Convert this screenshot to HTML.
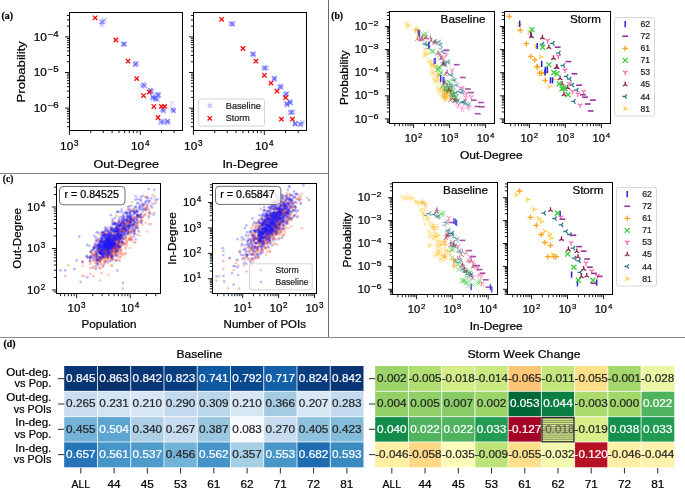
<!DOCTYPE html>
<html><head><meta charset="utf-8"><style>
html,body{margin:0;padding:0;background:#fff;}
svg{display:block;will-change:transform;font-family:"Liberation Sans", sans-serif;}
</style></head><body>
<svg width="685" height="489" viewBox="0 0 685 489">
<defs></defs>
<rect width="685" height="489" fill="#fff"/>
<line x1="0" y1="173.5" x2="328" y2="173.5" stroke="#8a8a8a" stroke-width="1"/>
<line x1="328.5" y1="0" x2="328.5" y2="337" stroke="#6a6a6a" stroke-width="1"/>
<line x1="0" y1="337.5" x2="685" y2="337.5" stroke="#8a8a8a" stroke-width="1.2"/>
<text x="1.5" y="18.6" font-size="10" textLength="11.5" lengthAdjust="spacingAndGlyphs" font-family='"Liberation Serif", serif' font-weight="bold" stroke="#000" stroke-width="0.22">(a)</text>
<text x="331.2" y="19.4" font-size="10" textLength="11.8" lengthAdjust="spacingAndGlyphs" font-family='"Liberation Serif", serif' font-weight="bold" stroke="#000" stroke-width="0.22">(b)</text>
<text x="2.8" y="182" font-size="10" textLength="10.5" lengthAdjust="spacingAndGlyphs" font-family='"Liberation Serif", serif' font-weight="bold" stroke="#000" stroke-width="0.22">(c)</text>
<text x="3.5" y="347" font-size="10" textLength="12" lengthAdjust="spacingAndGlyphs" font-family='"Liberation Serif", serif' font-weight="bold" stroke="#000" stroke-width="0.22">(d)</text>
<path d="M69.4 130.5V135M140.3 130.5V135M90.74 130.5V133.1M103.23 130.5V133.1M112.09 130.5V133.1M118.96 130.5V133.1M124.57 130.5V133.1M129.32 130.5V133.1M133.43 130.5V133.1M137.06 130.5V133.1M161.64 130.5V133.1M174.13 130.5V133.1M69.5 108.1H65M69.5 72.5H65M69.5 36.9H65M69.5 126.71H66.9M69.5 122.27H66.9M69.5 118.82H66.9M69.5 116H66.9M69.5 113.61H66.9M69.5 111.55H66.9M69.5 109.73H66.9M69.5 97.38H66.9M69.5 91.11H66.9M69.5 86.67H66.9M69.5 83.22H66.9M69.5 80.4H66.9M69.5 78.01H66.9M69.5 75.95H66.9M69.5 74.13H66.9M69.5 61.78H66.9M69.5 55.51H66.9M69.5 51.07H66.9M69.5 47.62H66.9M69.5 44.8H66.9M69.5 42.41H66.9M69.5 40.35H66.9M69.5 38.53H66.9M69.5 26.18H66.9M69.5 19.91H66.9M69.5 15.47H66.9" stroke="#000" stroke-width="0.9" fill="none"/>
<rect x="69.5" y="12.5" width="113" height="118" fill="none" stroke="#000" stroke-width="1"/>
<text x="60.12" y="150" font-size="11.2" textLength="13.2" lengthAdjust="spacingAndGlyphs" stroke="#000" stroke-width="0.22">10</text>
<text x="74.12" y="145.9" font-size="8.2" textLength="4.56" lengthAdjust="spacingAndGlyphs" stroke="#000" stroke-width="0.22">3</text>
<text x="131.02" y="150" font-size="11.2" textLength="13.2" lengthAdjust="spacingAndGlyphs" stroke="#000" stroke-width="0.22">10</text>
<text x="145.02" y="145.9" font-size="8.2" textLength="4.56" lengthAdjust="spacingAndGlyphs" stroke="#000" stroke-width="0.22">4</text>
<path d="M193.4 130.5V135M264.3 130.5V135M214.74 130.5V133.1M227.23 130.5V133.1M236.09 130.5V133.1M242.96 130.5V133.1M248.57 130.5V133.1M253.32 130.5V133.1M257.43 130.5V133.1M261.06 130.5V133.1M285.64 130.5V133.1M298.13 130.5V133.1M193.5 108.1H189M193.5 72.5H189M193.5 36.9H189M193.5 126.71H190.9M193.5 122.27H190.9M193.5 118.82H190.9M193.5 116H190.9M193.5 113.61H190.9M193.5 111.55H190.9M193.5 109.73H190.9M193.5 97.38H190.9M193.5 91.11H190.9M193.5 86.67H190.9M193.5 83.22H190.9M193.5 80.4H190.9M193.5 78.01H190.9M193.5 75.95H190.9M193.5 74.13H190.9M193.5 61.78H190.9M193.5 55.51H190.9M193.5 51.07H190.9M193.5 47.62H190.9M193.5 44.8H190.9M193.5 42.41H190.9M193.5 40.35H190.9M193.5 38.53H190.9M193.5 26.18H190.9M193.5 19.91H190.9M193.5 15.47H190.9" stroke="#000" stroke-width="0.9" fill="none"/>
<rect x="193.5" y="12.5" width="113" height="118" fill="none" stroke="#000" stroke-width="1"/>
<text x="184.12" y="150" font-size="11.2" textLength="13.2" lengthAdjust="spacingAndGlyphs" stroke="#000" stroke-width="0.22">10</text>
<text x="198.12" y="145.9" font-size="8.2" textLength="4.56" lengthAdjust="spacingAndGlyphs" stroke="#000" stroke-width="0.22">3</text>
<text x="255.02" y="150" font-size="11.2" textLength="13.2" lengthAdjust="spacingAndGlyphs" stroke="#000" stroke-width="0.22">10</text>
<text x="269.02" y="145.9" font-size="8.2" textLength="4.56" lengthAdjust="spacingAndGlyphs" stroke="#000" stroke-width="0.22">4</text>
<text x="33.7" y="40.7" font-size="11.2" textLength="13.2" lengthAdjust="spacingAndGlyphs" stroke="#000" stroke-width="0.22">10</text>
<text x="47.7" y="36.5" font-size="8.5" textLength="11.1" lengthAdjust="spacingAndGlyphs" stroke="#000" stroke-width="0.22">−4</text>
<text x="33.7" y="76.3" font-size="11.2" textLength="13.2" lengthAdjust="spacingAndGlyphs" stroke="#000" stroke-width="0.22">10</text>
<text x="47.7" y="72.1" font-size="8.5" textLength="11.1" lengthAdjust="spacingAndGlyphs" stroke="#000" stroke-width="0.22">−5</text>
<text x="33.7" y="111.9" font-size="11.2" textLength="13.2" lengthAdjust="spacingAndGlyphs" stroke="#000" stroke-width="0.22">10</text>
<text x="47.7" y="107.7" font-size="8.5" textLength="11.1" lengthAdjust="spacingAndGlyphs" stroke="#000" stroke-width="0.22">−6</text>
<text x="93.4" y="167.8" font-size="11.2" textLength="65.6" lengthAdjust="spacingAndGlyphs" stroke="#000" stroke-width="0.22">Out-Degree</text>
<text x="222.4" y="167.8" font-size="11.2" textLength="55.7" lengthAdjust="spacingAndGlyphs" stroke="#000" stroke-width="0.22">In-Degree</text>
<text x="25.2" y="71.8" font-size="11.2" text-anchor="middle" textLength="61.2" lengthAdjust="spacingAndGlyphs" transform="rotate(-90 25.2 71.8)" stroke="#000" stroke-width="0.22">Probability</text>
<g stroke="#3b3bff" fill="none" stroke-width="1.25" stroke-opacity="0.28"><path d="M102.03 17.96L106.43 22.36M102.03 22.36L106.43 17.96"/><path d="M100.73 19.55L105.13 23.95M100.73 23.95L105.13 19.55"/><path d="M100.04 19.83L104.44 24.23M100.04 24.23L104.44 19.83"/><path d="M98.78 19.81L103.18 24.21M98.78 24.21L103.18 19.81"/><path d="M99.71 22.66L104.11 27.06M99.71 27.06L104.11 22.66"/><path d="M121.78 41.92L126.18 46.32M121.78 46.32L126.18 41.92"/><path d="M121.37 41.67L125.77 46.07M121.37 46.07L125.77 41.67"/><path d="M120.76 41.89L125.16 46.29M120.76 46.29L125.16 41.89"/><path d="M121.99 42.01L126.39 46.41M121.99 46.41L126.39 42.01"/><path d="M122.37 42.04L126.77 46.44M122.37 46.44L126.77 42.04"/><path d="M133.12 62.64L137.52 67.04M133.12 67.04L137.52 62.64"/><path d="M133.54 61L137.94 65.4M133.54 65.4L137.94 61"/><path d="M132.95 61.83L137.35 66.23M132.95 66.23L137.35 61.83"/><path d="M134.65 61.18L139.05 65.58M134.65 65.58L139.05 61.18"/><path d="M132.91 62.2L137.31 66.6M132.91 66.6L137.31 62.2"/><path d="M141.19 82.87L145.59 87.27M141.19 87.27L145.59 82.87"/><path d="M142.61 83.56L147.01 87.96M142.61 87.96L147.01 83.56"/><path d="M141.97 83.64L146.37 88.04M141.97 88.04L146.37 83.64"/><path d="M139.64 83.92L144.04 88.32M139.64 88.32L144.04 83.92"/><path d="M141.13 81.77L145.53 86.17M141.13 86.17L145.53 81.77"/><path d="M148.62 89.06L153.02 93.46M148.62 93.46L153.02 89.06"/><path d="M148.04 87.64L152.44 92.04M148.04 92.04L152.44 87.64"/><path d="M148.42 88.46L152.82 92.86M148.42 92.86L152.82 88.46"/><path d="M149.52 89.1L153.92 93.5M149.52 93.5L153.92 89.1"/><path d="M148.56 89.39L152.96 93.79M148.56 93.79L152.96 89.39"/><path d="M150.44 94.86L154.84 99.26M150.44 99.26L154.84 94.86"/><path d="M151.07 96.07L155.47 100.47M151.07 100.47L155.47 96.07"/><path d="M150.43 94.97L154.83 99.37M150.43 99.37L154.83 94.97"/><path d="M150.78 93.6L155.18 98M150.78 98L155.18 93.6"/><path d="M151.15 95.99L155.55 100.39M151.15 100.39L155.55 95.99"/><path d="M153.59 96.65L157.99 101.05M153.59 101.05L157.99 96.65"/><path d="M154.13 97.21L158.53 101.61M154.13 101.61L158.53 97.21"/><path d="M153.27 95.87L157.67 100.27M153.27 100.27L157.67 95.87"/><path d="M155.47 97.53L159.87 101.93M155.47 101.93L159.87 97.53"/><path d="M153.17 96.2L157.57 100.6M153.17 100.6L157.57 96.2"/><path d="M155.66 92.91L160.06 97.31M155.66 97.31L160.06 92.91"/><path d="M156.67 92.45L161.07 96.85M156.67 96.85L161.07 92.45"/><path d="M155.68 92.56L160.08 96.96M155.68 96.96L160.08 92.56"/><path d="M156.52 93.38L160.92 97.78M156.52 97.78L160.92 93.38"/><path d="M155.1 92.03L159.5 96.43M155.1 96.43L159.5 92.03"/><path d="M161.65 108.6L166.05 113M161.65 113L166.05 108.6"/><path d="M160.9 108.91L165.3 113.31M160.9 113.31L165.3 108.91"/><path d="M160.58 107.49L164.98 111.89M160.58 111.89L164.98 107.49"/><path d="M159.66 107.36L164.06 111.76M159.66 111.76L164.06 107.36"/><path d="M161.4 106.83L165.8 111.23M161.4 111.23L165.8 106.83"/><path d="M170.72 107.74L175.12 112.14M170.72 112.14L175.12 107.74"/><path d="M171.38 108.46L175.78 112.86M171.38 112.86L175.78 108.46"/><path d="M170.2 106.62L174.6 111.02M170.2 111.02L174.6 106.62"/><path d="M171.2 108.97L175.6 113.37M171.2 113.37L175.6 108.97"/><path d="M171.81 108.17L176.21 112.57M171.81 112.57L176.21 108.17"/><path d="M165.45 119.03L169.85 123.43M165.45 123.43L169.85 119.03"/><path d="M165.51 119.45L169.91 123.85M165.51 123.85L169.91 119.45"/><path d="M165.06 118.91L169.46 123.31M165.06 123.31L169.46 118.91"/><path d="M165.61 119.23L170.01 123.63M165.61 123.63L170.01 119.23"/><path d="M165.88 120.84L170.28 125.24M165.88 125.24L170.28 120.84"/><path d="M161.5 120.6L165.9 125M161.5 125L165.9 120.6"/><path d="M158.67 119.13L163.07 123.53M158.67 123.53L163.07 119.13"/><path d="M159.81 119.83L164.21 124.23M159.81 124.23L164.21 119.83"/><path d="M158.48 120.34L162.88 124.74M158.48 124.74L162.88 120.34"/><path d="M161.15 118.36L165.55 122.76M161.15 122.76L165.55 118.36"/></g>
<g stroke="#8080ff" fill="none" stroke-width="1.25" stroke-opacity="0.25"><path d="M169.5 101.2L173.9 105.6M169.5 105.6L173.9 101.2"/><path d="M148.4 88.5L152.8 92.9M148.4 92.9L152.8 88.5"/><path d="M155.4 93.4L159.8 97.8M155.4 97.8L159.8 93.4"/><path d="M160.3 119.4L164.7 123.8M160.3 123.8L164.7 119.4"/></g>
<g stroke="#ff0000" fill="none" stroke-width="1.25"><path d="M92.9 15.6L97.3 20M92.9 20L97.3 15.6"/><path d="M113.6 37.8L118 42.2M113.6 42.2L118 37.8"/><path d="M125.8 59L130.2 63.4M125.8 63.4L130.2 59"/><path d="M134.5 76.4L138.9 80.8M134.5 80.8L138.9 76.4"/><path d="M147.1 89.9L151.5 94.3M147.1 94.3L151.5 89.9"/><path d="M141.3 93.4L145.7 97.8M141.3 97.8L145.7 93.4"/><path d="M151.6 104.4L156 108.8M151.6 108.8L156 104.4"/><path d="M159.2 104.2L163.6 108.6M159.2 108.6L163.6 104.2"/><path d="M162.5 104.2L166.9 108.6M162.5 108.6L166.9 104.2"/><path d="M155.8 115.3L160.2 119.7M155.8 119.7L160.2 115.3"/></g>
<g stroke="#3b3bff" fill="none" stroke-width="1.25" stroke-opacity="0.28"><path d="M228.52 20.86L232.92 25.26M228.52 25.26L232.92 20.86"/><path d="M229.33 22.01L233.73 26.41M229.33 26.41L233.73 22.01"/><path d="M230.94 21.34L235.34 25.74M230.94 25.74L235.34 21.34"/><path d="M229.91 21.62L234.31 26.02M229.91 26.02L234.31 21.62"/><path d="M230.71 22.09L235.11 26.49M230.71 26.49L235.11 22.09"/><path d="M251.59 51.54L255.99 55.94M251.59 55.94L255.99 51.54"/><path d="M250.35 51.75L254.75 56.15M250.35 56.15L254.75 51.75"/><path d="M251.7 52.93L256.1 57.33M251.7 57.33L256.1 52.93"/><path d="M250.26 52.04L254.66 56.44M250.26 56.44L254.66 52.04"/><path d="M250.89 51.84L255.29 56.24M250.89 56.24L255.29 51.84"/><path d="M261.96 66.19L266.36 70.59M261.96 70.59L266.36 66.19"/><path d="M264.67 65.6L269.07 70M264.67 70L269.07 65.6"/><path d="M262.26 64.86L266.66 69.26M262.26 69.26L266.66 64.86"/><path d="M261.63 66.22L266.03 70.62M261.63 70.62L266.03 66.22"/><path d="M263.38 65.81L267.78 70.21M263.38 70.21L267.78 65.81"/><path d="M272.67 76.89L277.07 81.29M272.67 81.29L277.07 76.89"/><path d="M272.51 75.58L276.91 79.98M272.51 79.98L276.91 75.58"/><path d="M272.03 76.89L276.43 81.29M272.03 81.29L276.43 76.89"/><path d="M271.77 76.42L276.17 80.82M271.77 80.82L276.17 76.42"/><path d="M271.74 76.53L276.14 80.93M271.74 80.93L276.14 76.53"/><path d="M279.18 83.77L283.58 88.17M279.18 88.17L283.58 83.77"/><path d="M278.38 84.75L282.78 89.15M278.38 89.15L282.78 84.75"/><path d="M279.02 85.46L283.42 89.86M279.02 89.86L283.42 85.46"/><path d="M276.83 84.79L281.23 89.19M276.83 89.19L281.23 84.79"/><path d="M278.11 84.21L282.51 88.61M278.11 88.61L282.51 84.21"/><path d="M284.07 92.27L288.47 96.67M284.07 96.67L288.47 92.27"/><path d="M284.23 91.52L288.63 95.92M284.23 95.92L288.63 91.52"/><path d="M284.69 91.17L289.09 95.57M284.69 95.57L289.09 91.17"/><path d="M283.29 92.04L287.69 96.44M283.29 96.44L287.69 92.04"/><path d="M282.96 93.13L287.36 97.53M282.96 97.53L287.36 93.13"/><path d="M285.42 102.94L289.82 107.34M285.42 107.34L289.82 102.94"/><path d="M284.58 100.89L288.98 105.29M284.58 105.29L288.98 100.89"/><path d="M284.73 101.79L289.13 106.19M284.73 106.19L289.13 101.79"/><path d="M284.13 101.5L288.53 105.9M284.13 105.9L288.53 101.5"/><path d="M284.59 102.49L288.99 106.89M284.59 106.89L288.99 102.49"/><path d="M287.67 100.74L292.07 105.14M287.67 105.14L292.07 100.74"/><path d="M287.68 99.13L292.08 103.53M287.68 103.53L292.08 99.13"/><path d="M287.63 98.95L292.03 103.35M287.63 103.35L292.03 98.95"/><path d="M288.32 100.73L292.72 105.13M288.32 105.13L292.72 100.73"/><path d="M288.33 100.4L292.73 104.8M288.33 104.8L292.73 100.4"/><path d="M290.81 109.92L295.21 114.32M290.81 114.32L295.21 109.92"/><path d="M289.66 109.48L294.06 113.88M289.66 113.88L294.06 109.48"/><path d="M288.21 110.31L292.61 114.71M288.21 114.71L292.61 110.31"/><path d="M288.09 110.22L292.49 114.62M288.09 114.62L292.49 110.22"/><path d="M289.49 110.6L293.89 115M289.49 115L293.89 110.6"/><path d="M293.05 121.14L297.45 125.54M293.05 125.54L297.45 121.14"/><path d="M293.39 121.35L297.79 125.75M293.39 125.75L297.79 121.35"/><path d="M292.96 121.83L297.36 126.23M292.96 126.23L297.36 121.83"/><path d="M292.99 121.65L297.39 126.05M292.99 126.05L297.39 121.65"/><path d="M292.43 121.65L296.83 126.05M292.43 126.05L296.83 121.65"/><path d="M297.49 121.67L301.89 126.07M297.49 126.07L301.89 121.67"/><path d="M298.24 122.7L302.64 127.1M298.24 127.1L302.64 122.7"/><path d="M300.22 120.24L304.62 124.64M300.22 124.64L304.62 120.24"/><path d="M299.32 121.7L303.72 126.1M299.32 126.1L303.72 121.7"/><path d="M298.36 122.23L302.76 126.63M298.36 126.63L302.76 122.23"/></g>
<g stroke="#ff0000" fill="none" stroke-width="1.25"><path d="M219.5 17.1L223.9 21.5M219.5 21.5L223.9 17.1"/><path d="M240.8 46.3L245.2 50.7M240.8 50.7L245.2 46.3"/><path d="M253.7 59L258.1 63.4M253.7 63.4L258.1 59"/><path d="M262.2 73.1L266.6 77.5M262.2 77.5L266.6 73.1"/><path d="M268.8 80.9L273.2 85.3M268.8 85.3L273.2 80.9"/><path d="M274.8 89L279.2 93.4M274.8 93.4L279.2 89"/><path d="M283.4 95.5L287.8 99.9M283.4 99.9L287.8 95.5"/><path d="M290.2 117L294.6 121.4M290.2 121.4L294.6 117"/><path d="M279.2 117L283.6 121.4M279.2 121.4L283.6 117"/></g>
<rect x="198.5" y="99" width="66" height="27" fill="#fff" stroke="#d4d4d4" stroke-width="1" rx="2" fill-opacity="0.8"/>
<g stroke="#b8b8ff" fill="none" stroke-width="1.25"><path d="M207.6 103.5L212 107.9M207.6 107.9L212 103.5"/></g>
<g stroke="#ff0000" fill="none" stroke-width="1.25"><path d="M207.6 116.1L212 120.5M207.6 120.5L212 116.1"/></g>
<text x="225.8" y="109" font-size="9.4" textLength="35" lengthAdjust="spacingAndGlyphs" fill="#222" stroke="#222" stroke-width="0.22">Baseline</text>
<text x="225.8" y="121.1" font-size="9.4" textLength="24" lengthAdjust="spacingAndGlyphs" fill="#222" stroke="#222" stroke-width="0.22">Storm</text>
<path d="M413.6 123.5V128.1M449.6 123.5V128.1M485.6 123.5V128.1M394.78 123.5V126.2M399.27 123.5V126.2M402.76 123.5V126.2M405.61 123.5V126.2M408.02 123.5V126.2M410.11 123.5V126.2M411.95 123.5V126.2M424.44 123.5V126.2M430.78 123.5V126.2M435.27 123.5V126.2M438.76 123.5V126.2M441.61 123.5V126.2M444.02 123.5V126.2M446.11 123.5V126.2M447.95 123.5V126.2M460.44 123.5V126.2M466.78 123.5V126.2M471.27 123.5V126.2M474.76 123.5V126.2M477.61 123.5V126.2M480.02 123.5V126.2M482.11 123.5V126.2M483.95 123.5V126.2M389.5 118.9H384.9M389.5 95.8H384.9M389.5 72.7H384.9M389.5 49.6H384.9M389.5 26.5H384.9M389.5 122.48H386.8M389.5 121.14H386.8M389.5 119.96H386.8M389.5 111.95H386.8M389.5 107.88H386.8M389.5 104.99H386.8M389.5 102.75H386.8M389.5 100.92H386.8M389.5 99.38H386.8M389.5 98.04H386.8M389.5 96.86H386.8M389.5 88.85H386.8M389.5 84.78H386.8M389.5 81.89H386.8M389.5 79.65H386.8M389.5 77.82H386.8M389.5 76.28H386.8M389.5 74.94H386.8M389.5 73.76H386.8M389.5 65.75H386.8M389.5 61.68H386.8M389.5 58.79H386.8M389.5 56.55H386.8M389.5 54.72H386.8M389.5 53.18H386.8M389.5 51.84H386.8M389.5 50.66H386.8M389.5 42.65H386.8M389.5 38.58H386.8M389.5 35.69H386.8M389.5 33.45H386.8M389.5 31.62H386.8M389.5 30.08H386.8M389.5 28.74H386.8M389.5 27.56H386.8M389.5 19.55H386.8M389.5 15.48H386.8M389.5 12.59H386.8" stroke="#000" stroke-width="0.9" fill="none"/>
<rect x="389.5" y="11.5" width="105" height="112" fill="none" stroke="#000" stroke-width="1"/>
<text x="404.75" y="141.5" font-size="10.4" textLength="12.4" lengthAdjust="spacingAndGlyphs" stroke="#000" stroke-width="0.22">10</text>
<text x="418.05" y="137.6" font-size="7.9" textLength="4.39" lengthAdjust="spacingAndGlyphs" stroke="#000" stroke-width="0.22">2</text>
<text x="440.75" y="141.5" font-size="10.4" textLength="12.4" lengthAdjust="spacingAndGlyphs" stroke="#000" stroke-width="0.22">10</text>
<text x="454.05" y="137.6" font-size="7.9" textLength="4.39" lengthAdjust="spacingAndGlyphs" stroke="#000" stroke-width="0.22">3</text>
<text x="476.75" y="141.5" font-size="10.4" textLength="12.4" lengthAdjust="spacingAndGlyphs" stroke="#000" stroke-width="0.22">10</text>
<text x="490.05" y="137.6" font-size="7.9" textLength="4.39" lengthAdjust="spacingAndGlyphs" stroke="#000" stroke-width="0.22">4</text>
<path d="M529.4 123.5V128.1M565.4 123.5V128.1M601.4 123.5V128.1M510.58 123.5V126.2M515.07 123.5V126.2M518.56 123.5V126.2M521.41 123.5V126.2M523.82 123.5V126.2M525.91 123.5V126.2M527.75 123.5V126.2M540.24 123.5V126.2M546.58 123.5V126.2M551.07 123.5V126.2M554.56 123.5V126.2M557.41 123.5V126.2M559.82 123.5V126.2M561.91 123.5V126.2M563.75 123.5V126.2M576.24 123.5V126.2M582.58 123.5V126.2M587.07 123.5V126.2M590.56 123.5V126.2M593.41 123.5V126.2M595.82 123.5V126.2M597.91 123.5V126.2M599.75 123.5V126.2M504.5 118.9H499.9M504.5 95.8H499.9M504.5 72.7H499.9M504.5 49.6H499.9M504.5 26.5H499.9M504.5 122.48H501.8M504.5 121.14H501.8M504.5 119.96H501.8M504.5 111.95H501.8M504.5 107.88H501.8M504.5 104.99H501.8M504.5 102.75H501.8M504.5 100.92H501.8M504.5 99.38H501.8M504.5 98.04H501.8M504.5 96.86H501.8M504.5 88.85H501.8M504.5 84.78H501.8M504.5 81.89H501.8M504.5 79.65H501.8M504.5 77.82H501.8M504.5 76.28H501.8M504.5 74.94H501.8M504.5 73.76H501.8M504.5 65.75H501.8M504.5 61.68H501.8M504.5 58.79H501.8M504.5 56.55H501.8M504.5 54.72H501.8M504.5 53.18H501.8M504.5 51.84H501.8M504.5 50.66H501.8M504.5 42.65H501.8M504.5 38.58H501.8M504.5 35.69H501.8M504.5 33.45H501.8M504.5 31.62H501.8M504.5 30.08H501.8M504.5 28.74H501.8M504.5 27.56H501.8M504.5 19.55H501.8M504.5 15.48H501.8M504.5 12.59H501.8" stroke="#000" stroke-width="0.9" fill="none"/>
<rect x="504.5" y="11.5" width="106" height="112" fill="none" stroke="#000" stroke-width="1"/>
<text x="520.55" y="141.5" font-size="10.4" textLength="12.4" lengthAdjust="spacingAndGlyphs" stroke="#000" stroke-width="0.22">10</text>
<text x="533.85" y="137.6" font-size="7.9" textLength="4.39" lengthAdjust="spacingAndGlyphs" stroke="#000" stroke-width="0.22">2</text>
<text x="556.55" y="141.5" font-size="10.4" textLength="12.4" lengthAdjust="spacingAndGlyphs" stroke="#000" stroke-width="0.22">10</text>
<text x="569.85" y="137.6" font-size="7.9" textLength="4.39" lengthAdjust="spacingAndGlyphs" stroke="#000" stroke-width="0.22">3</text>
<text x="592.55" y="141.5" font-size="10.4" textLength="12.4" lengthAdjust="spacingAndGlyphs" stroke="#000" stroke-width="0.22">10</text>
<text x="605.85" y="137.6" font-size="7.9" textLength="4.39" lengthAdjust="spacingAndGlyphs" stroke="#000" stroke-width="0.22">4</text>
<path d="M416.6 294.5V299.1M452.4 294.5V299.1M488.2 294.5V299.1M397.88 294.5V297.2M402.35 294.5V297.2M405.82 294.5V297.2M408.66 294.5V297.2M411.05 294.5V297.2M413.13 294.5V297.2M414.96 294.5V297.2M427.38 294.5V297.2M433.68 294.5V297.2M438.15 294.5V297.2M441.62 294.5V297.2M444.46 294.5V297.2M446.85 294.5V297.2M448.93 294.5V297.2M450.76 294.5V297.2M463.18 294.5V297.2M469.48 294.5V297.2M473.95 294.5V297.2M477.42 294.5V297.2M480.26 294.5V297.2M482.65 294.5V297.2M484.73 294.5V297.2M486.56 294.5V297.2M392.5 289.3H387.9M392.5 266.4H387.9M392.5 243.5H387.9M392.5 220.6H387.9M392.5 197.7H387.9M392.5 294.38H389.8M392.5 292.85H389.8M392.5 291.52H389.8M392.5 290.35H389.8M392.5 282.41H389.8M392.5 278.37H389.8M392.5 275.51H389.8M392.5 273.29H389.8M392.5 271.48H389.8M392.5 269.95H389.8M392.5 268.62H389.8M392.5 267.45H389.8M392.5 259.51H389.8M392.5 255.47H389.8M392.5 252.61H389.8M392.5 250.39H389.8M392.5 248.58H389.8M392.5 247.05H389.8M392.5 245.72H389.8M392.5 244.55H389.8M392.5 236.61H389.8M392.5 232.57H389.8M392.5 229.71H389.8M392.5 227.49H389.8M392.5 225.68H389.8M392.5 224.15H389.8M392.5 222.82H389.8M392.5 221.65H389.8M392.5 213.71H389.8M392.5 209.67H389.8M392.5 206.81H389.8M392.5 204.59H389.8M392.5 202.78H389.8M392.5 201.25H389.8M392.5 199.92H389.8M392.5 198.75H389.8M392.5 190.81H389.8M392.5 186.77H389.8M392.5 183.91H389.8" stroke="#000" stroke-width="0.9" fill="none"/>
<rect x="392.5" y="182.5" width="105" height="112" fill="none" stroke="#000" stroke-width="1"/>
<text x="407.75" y="312.5" font-size="10.4" textLength="12.4" lengthAdjust="spacingAndGlyphs" stroke="#000" stroke-width="0.22">10</text>
<text x="421.05" y="308.6" font-size="7.9" textLength="4.39" lengthAdjust="spacingAndGlyphs" stroke="#000" stroke-width="0.22">2</text>
<text x="443.55" y="312.5" font-size="10.4" textLength="12.4" lengthAdjust="spacingAndGlyphs" stroke="#000" stroke-width="0.22">10</text>
<text x="456.85" y="308.6" font-size="7.9" textLength="4.39" lengthAdjust="spacingAndGlyphs" stroke="#000" stroke-width="0.22">3</text>
<text x="479.35" y="312.5" font-size="10.4" textLength="12.4" lengthAdjust="spacingAndGlyphs" stroke="#000" stroke-width="0.22">10</text>
<text x="492.65" y="308.6" font-size="7.9" textLength="4.39" lengthAdjust="spacingAndGlyphs" stroke="#000" stroke-width="0.22">4</text>
<path d="M531.5 294.5V299.1M567.5 294.5V299.1M603.5 294.5V299.1M512.68 294.5V297.2M517.17 294.5V297.2M520.66 294.5V297.2M523.51 294.5V297.2M525.92 294.5V297.2M528.01 294.5V297.2M529.85 294.5V297.2M542.34 294.5V297.2M548.68 294.5V297.2M553.17 294.5V297.2M556.66 294.5V297.2M559.51 294.5V297.2M561.92 294.5V297.2M564.01 294.5V297.2M565.85 294.5V297.2M578.34 294.5V297.2M584.68 294.5V297.2M589.17 294.5V297.2M592.66 294.5V297.2M595.51 294.5V297.2M597.92 294.5V297.2M600.01 294.5V297.2M601.85 294.5V297.2M507.5 289.3H502.9M507.5 266.4H502.9M507.5 243.5H502.9M507.5 220.6H502.9M507.5 197.7H502.9M507.5 294.38H504.8M507.5 292.85H504.8M507.5 291.52H504.8M507.5 290.35H504.8M507.5 282.41H504.8M507.5 278.37H504.8M507.5 275.51H504.8M507.5 273.29H504.8M507.5 271.48H504.8M507.5 269.95H504.8M507.5 268.62H504.8M507.5 267.45H504.8M507.5 259.51H504.8M507.5 255.47H504.8M507.5 252.61H504.8M507.5 250.39H504.8M507.5 248.58H504.8M507.5 247.05H504.8M507.5 245.72H504.8M507.5 244.55H504.8M507.5 236.61H504.8M507.5 232.57H504.8M507.5 229.71H504.8M507.5 227.49H504.8M507.5 225.68H504.8M507.5 224.15H504.8M507.5 222.82H504.8M507.5 221.65H504.8M507.5 213.71H504.8M507.5 209.67H504.8M507.5 206.81H504.8M507.5 204.59H504.8M507.5 202.78H504.8M507.5 201.25H504.8M507.5 199.92H504.8M507.5 198.75H504.8M507.5 190.81H504.8M507.5 186.77H504.8M507.5 183.91H504.8" stroke="#000" stroke-width="0.9" fill="none"/>
<rect x="507.5" y="182.5" width="105" height="112" fill="none" stroke="#000" stroke-width="1"/>
<text x="522.65" y="312.5" font-size="10.4" textLength="12.4" lengthAdjust="spacingAndGlyphs" stroke="#000" stroke-width="0.22">10</text>
<text x="535.95" y="308.6" font-size="7.9" textLength="4.39" lengthAdjust="spacingAndGlyphs" stroke="#000" stroke-width="0.22">2</text>
<text x="558.65" y="312.5" font-size="10.4" textLength="12.4" lengthAdjust="spacingAndGlyphs" stroke="#000" stroke-width="0.22">10</text>
<text x="571.95" y="308.6" font-size="7.9" textLength="4.39" lengthAdjust="spacingAndGlyphs" stroke="#000" stroke-width="0.22">3</text>
<text x="594.65" y="312.5" font-size="10.4" textLength="12.4" lengthAdjust="spacingAndGlyphs" stroke="#000" stroke-width="0.22">10</text>
<text x="607.95" y="308.6" font-size="7.9" textLength="4.39" lengthAdjust="spacingAndGlyphs" stroke="#000" stroke-width="0.22">4</text>
<text x="354.88" y="30.1" font-size="10.4" textLength="12.4" lengthAdjust="spacingAndGlyphs" stroke="#000" stroke-width="0.22">10</text>
<text x="368.18" y="26.1" font-size="7.9" textLength="10.32" lengthAdjust="spacingAndGlyphs" stroke="#000" stroke-width="0.22">−2</text>
<text x="354.88" y="53.2" font-size="10.4" textLength="12.4" lengthAdjust="spacingAndGlyphs" stroke="#000" stroke-width="0.22">10</text>
<text x="368.18" y="49.2" font-size="7.9" textLength="10.32" lengthAdjust="spacingAndGlyphs" stroke="#000" stroke-width="0.22">−3</text>
<text x="354.88" y="76.3" font-size="10.4" textLength="12.4" lengthAdjust="spacingAndGlyphs" stroke="#000" stroke-width="0.22">10</text>
<text x="368.18" y="72.3" font-size="7.9" textLength="10.32" lengthAdjust="spacingAndGlyphs" stroke="#000" stroke-width="0.22">−4</text>
<text x="354.88" y="99.4" font-size="10.4" textLength="12.4" lengthAdjust="spacingAndGlyphs" stroke="#000" stroke-width="0.22">10</text>
<text x="368.18" y="95.4" font-size="7.9" textLength="10.32" lengthAdjust="spacingAndGlyphs" stroke="#000" stroke-width="0.22">−5</text>
<text x="354.88" y="122.5" font-size="10.4" textLength="12.4" lengthAdjust="spacingAndGlyphs" stroke="#000" stroke-width="0.22">10</text>
<text x="368.18" y="118.5" font-size="7.9" textLength="10.32" lengthAdjust="spacingAndGlyphs" stroke="#000" stroke-width="0.22">−6</text>
<text x="357.88" y="201.3" font-size="10.4" textLength="12.4" lengthAdjust="spacingAndGlyphs" stroke="#000" stroke-width="0.22">10</text>
<text x="371.18" y="197.3" font-size="7.9" textLength="10.32" lengthAdjust="spacingAndGlyphs" stroke="#000" stroke-width="0.22">−2</text>
<text x="357.88" y="224.2" font-size="10.4" textLength="12.4" lengthAdjust="spacingAndGlyphs" stroke="#000" stroke-width="0.22">10</text>
<text x="371.18" y="220.2" font-size="7.9" textLength="10.32" lengthAdjust="spacingAndGlyphs" stroke="#000" stroke-width="0.22">−3</text>
<text x="357.88" y="247.1" font-size="10.4" textLength="12.4" lengthAdjust="spacingAndGlyphs" stroke="#000" stroke-width="0.22">10</text>
<text x="371.18" y="243.1" font-size="7.9" textLength="10.32" lengthAdjust="spacingAndGlyphs" stroke="#000" stroke-width="0.22">−4</text>
<text x="357.88" y="270" font-size="10.4" textLength="12.4" lengthAdjust="spacingAndGlyphs" stroke="#000" stroke-width="0.22">10</text>
<text x="371.18" y="266" font-size="7.9" textLength="10.32" lengthAdjust="spacingAndGlyphs" stroke="#000" stroke-width="0.22">−5</text>
<text x="357.88" y="292.9" font-size="10.4" textLength="12.4" lengthAdjust="spacingAndGlyphs" stroke="#000" stroke-width="0.22">10</text>
<text x="371.18" y="288.9" font-size="7.9" textLength="10.32" lengthAdjust="spacingAndGlyphs" stroke="#000" stroke-width="0.22">−6</text>
<text x="460" y="158.6" font-size="10.4" textLength="62.6" lengthAdjust="spacingAndGlyphs" stroke="#000" stroke-width="0.22">Out-Degree</text>
<text x="469.8" y="329.6" font-size="10.4" textLength="52.8" lengthAdjust="spacingAndGlyphs" stroke="#000" stroke-width="0.22">In-Degree</text>
<text x="348" y="77.6" font-size="10.4" text-anchor="middle" textLength="54.6" lengthAdjust="spacingAndGlyphs" transform="rotate(-90 348 77.6)" stroke="#000" stroke-width="0.22">Probability</text>
<text x="351" y="240" font-size="10.4" text-anchor="middle" textLength="55" lengthAdjust="spacingAndGlyphs" transform="rotate(-90 351 240)" stroke="#000" stroke-width="0.22">Probability</text>
<text x="440.6" y="22.9" font-size="10.9" textLength="44.8" lengthAdjust="spacingAndGlyphs" stroke="#000" stroke-width="0.22">Baseline</text>
<text x="569.9" y="22.9" font-size="10.9" textLength="31" lengthAdjust="spacingAndGlyphs" stroke="#000" stroke-width="0.22">Storm</text>
<text x="443.1" y="194.3" font-size="10.9" textLength="44.8" lengthAdjust="spacingAndGlyphs" stroke="#000" stroke-width="0.22">Baseline</text>
<text x="572.4" y="194.3" font-size="10.9" textLength="31" lengthAdjust="spacingAndGlyphs" stroke="#000" stroke-width="0.22">Storm</text>
<rect x="614.5" y="17.5" width="40" height="98.5" fill="#fff" stroke="#d8d8d8" stroke-width="1" rx="2"/>
<g stroke="#2020d8" fill="none" stroke-width="1.5"><path d="M625.2 21.1L625.2 27.3"/></g>
<text x="640.5" y="27.2" font-size="8.3" textLength="9.6" lengthAdjust="spacingAndGlyphs" fill="#222" stroke="#222" stroke-width="0.22">62</text>
<g stroke="#993399" fill="none" stroke-width="1.6"><path d="M622.3 36.25L628.1 36.25"/></g>
<text x="640.5" y="39.25" font-size="8.3" textLength="9.6" lengthAdjust="spacingAndGlyphs" fill="#222" stroke="#222" stroke-width="0.22">72</text>
<g stroke="#ffa31a" fill="none" stroke-width="1.3"><path d="M622.4 48.3L628 48.3M625.2 45.5L625.2 51.1"/></g>
<text x="640.5" y="51.3" font-size="8.3" textLength="9.6" lengthAdjust="spacingAndGlyphs" fill="#222" stroke="#222" stroke-width="0.22">61</text>
<g stroke="#3ecc3e" fill="none" stroke-width="1.3"><path d="M622.7 57.85L627.7 62.85M622.7 62.85L627.7 57.85"/></g>
<text x="640.5" y="63.35" font-size="8.3" textLength="9.6" lengthAdjust="spacingAndGlyphs" fill="#222" stroke="#222" stroke-width="0.22">71</text>
<g stroke="#ff69b4" fill="none" stroke-width="1.3"><path d="M625.2 72.4L625.2 75.2M625.2 72.4L627.44 70.86M625.2 72.4L622.96 70.86"/></g>
<text x="640.5" y="75.4" font-size="8.3" textLength="9.6" lengthAdjust="spacingAndGlyphs" fill="#222" stroke="#222" stroke-width="0.22">53</text>
<g stroke="#8c1f3f" fill="none" stroke-width="1.3"><path d="M625.2 84.45L625.2 81.65M625.2 84.45L627.44 85.99M625.2 84.45L622.96 85.99"/></g>
<text x="640.5" y="87.45" font-size="8.3" textLength="9.6" lengthAdjust="spacingAndGlyphs" fill="#222" stroke="#222" stroke-width="0.22">45</text>
<g stroke="#2a7584" fill="none" stroke-width="1.3"><path d="M625.2 96.5L622.4 96.5M625.2 96.5L626.74 94.26M625.2 96.5L626.74 98.74"/></g>
<text x="640.5" y="99.5" font-size="8.3" textLength="9.6" lengthAdjust="spacingAndGlyphs" fill="#222" stroke="#222" stroke-width="0.22">44</text>
<g stroke="#ffcc3a" fill="none" stroke-width="1.3"><path d="M625.2 108.55L628 108.55M625.2 108.55L623.66 106.31M625.2 108.55L623.66 110.79"/></g>
<text x="640.5" y="111.55" font-size="8.3" textLength="9.6" lengthAdjust="spacingAndGlyphs" fill="#222" stroke="#222" stroke-width="0.22">81</text>
<rect x="616.5" y="187.5" width="40" height="98.5" fill="#fff" stroke="#d8d8d8" stroke-width="1" rx="2"/>
<g stroke="#2020d8" fill="none" stroke-width="1.5"><path d="M627.2 191.1L627.2 197.3"/></g>
<text x="642.2" y="197.2" font-size="8.3" textLength="9.6" lengthAdjust="spacingAndGlyphs" fill="#222" stroke="#222" stroke-width="0.22">62</text>
<g stroke="#993399" fill="none" stroke-width="1.6"><path d="M624.3 206.25L630.1 206.25"/></g>
<text x="642.2" y="209.25" font-size="8.3" textLength="9.6" lengthAdjust="spacingAndGlyphs" fill="#222" stroke="#222" stroke-width="0.22">72</text>
<g stroke="#ffa31a" fill="none" stroke-width="1.3"><path d="M624.4 218.3L630 218.3M627.2 215.5L627.2 221.1"/></g>
<text x="642.2" y="221.3" font-size="8.3" textLength="9.6" lengthAdjust="spacingAndGlyphs" fill="#222" stroke="#222" stroke-width="0.22">61</text>
<g stroke="#3ecc3e" fill="none" stroke-width="1.3"><path d="M624.7 227.85L629.7 232.85M624.7 232.85L629.7 227.85"/></g>
<text x="642.2" y="233.35" font-size="8.3" textLength="9.6" lengthAdjust="spacingAndGlyphs" fill="#222" stroke="#222" stroke-width="0.22">71</text>
<g stroke="#ff69b4" fill="none" stroke-width="1.3"><path d="M627.2 242.4L627.2 245.2M627.2 242.4L629.44 240.86M627.2 242.4L624.96 240.86"/></g>
<text x="642.2" y="245.4" font-size="8.3" textLength="9.6" lengthAdjust="spacingAndGlyphs" fill="#222" stroke="#222" stroke-width="0.22">53</text>
<g stroke="#8c1f3f" fill="none" stroke-width="1.3"><path d="M627.2 254.45L627.2 251.65M627.2 254.45L629.44 255.99M627.2 254.45L624.96 255.99"/></g>
<text x="642.2" y="257.45" font-size="8.3" textLength="9.6" lengthAdjust="spacingAndGlyphs" fill="#222" stroke="#222" stroke-width="0.22">45</text>
<g stroke="#2a7584" fill="none" stroke-width="1.3"><path d="M627.2 266.5L624.4 266.5M627.2 266.5L628.74 264.26M627.2 266.5L628.74 268.74"/></g>
<text x="642.2" y="269.5" font-size="8.3" textLength="9.6" lengthAdjust="spacingAndGlyphs" fill="#222" stroke="#222" stroke-width="0.22">44</text>
<g stroke="#ffcc3a" fill="none" stroke-width="1.3"><path d="M627.2 278.55L630 278.55M627.2 278.55L625.66 276.31M627.2 278.55L625.66 280.79"/></g>
<text x="642.2" y="281.55" font-size="8.3" textLength="9.6" lengthAdjust="spacingAndGlyphs" fill="#222" stroke="#222" stroke-width="0.22">81</text>
<g stroke="#ffcc3a" fill="none" stroke-width="1.3"><path d="M519 24.5L521.8 24.5M519 24.5L517.46 22.26M519 24.5L517.46 26.74"/><path d="M529.3 32.1L532.1 32.1M529.3 32.1L527.76 29.86M529.3 32.1L527.76 34.34"/><path d="M536 46.4L538.8 46.4M536 46.4L534.46 44.16M536 46.4L534.46 48.64"/><path d="M540.8 56.9L543.6 56.9M540.8 56.9L539.26 54.66M540.8 56.9L539.26 59.14"/><path d="M553.5 79.7L556.3 79.7M553.5 79.7L551.96 77.46M553.5 79.7L551.96 81.94"/><path d="M549.6 86.3L552.4 86.3M549.6 86.3L548.06 84.06M549.6 86.3L548.06 88.54"/></g>
<g stroke="#ffa31a" fill="none" stroke-width="1.3"><path d="M506.6 16.4L512.2 16.4M509.4 13.6L509.4 19.2"/><path d="M517.5 30.3L523.1 30.3M520.3 27.5L520.3 33.1"/><path d="M523.5 43.6L529.1 43.6M526.3 40.8L526.3 46.4"/><path d="M528 56.3L533.6 56.3M530.8 53.5L530.8 59.1"/><path d="M532 59.9L537.6 59.9M534.8 57.1L534.8 62.7"/><path d="M534.3 66.6L539.9 66.6M537.1 63.8L537.1 69.4"/><path d="M534.7 66.8L540.3 66.8M537.5 64L537.5 69.6"/><path d="M536.9 73.1L542.5 73.1M539.7 70.3L539.7 75.9"/><path d="M538.7 73.1L544.3 73.1M541.5 70.3L541.5 75.9"/><path d="M542.8 72.5L548.4 72.5M545.6 69.7L545.6 75.3"/><path d="M542.4 80.4L548 80.4M545.2 77.6L545.2 83.2"/></g>
<g stroke="#2020d8" fill="none" stroke-width="1.5"><path d="M519.7 20.6L519.7 26.8"/><path d="M530.8 31.4L530.8 37.6"/><path d="M537.2 42.9L537.2 49.1"/><path d="M541.7 60.8L541.7 67"/><path d="M545.3 66.8L545.3 73"/><path d="M547.3 66.8L547.3 73"/><path d="M550.5 77.3L550.5 83.5"/><path d="M552.5 77.3L552.5 83.5"/><path d="M545 69.4L545 75.6"/></g>
<g stroke="#2a7584" fill="none" stroke-width="1.3"><path d="M542.4 44.2L539.6 44.2M542.4 44.2L543.94 41.96M542.4 44.2L543.94 46.44"/><path d="M552.9 43.3L550.1 43.3M552.9 43.3L554.44 41.06M552.9 43.3L554.44 45.54"/><path d="M558.9 53.2L556.1 53.2M558.9 53.2L560.44 50.96M558.9 53.2L560.44 55.44"/><path d="M563.4 65.5L560.6 65.5M563.4 65.5L564.94 63.26M563.4 65.5L564.94 67.74"/><path d="M566.6 76.4L563.8 76.4M566.6 76.4L568.14 74.16M566.6 76.4L568.14 78.64"/><path d="M569.7 79.1L566.9 79.1M569.7 79.1L571.24 76.86M569.7 79.1L571.24 81.34"/><path d="M572.3 85L569.5 85M572.3 85L573.84 82.76M572.3 85L573.84 87.24"/><path d="M576.8 90.2L574 90.2M576.8 90.2L578.34 87.96M576.8 90.2L578.34 92.44"/><path d="M573.9 101.4L571.1 101.4M573.9 101.4L575.44 99.16M573.9 101.4L575.44 103.64"/></g>
<g stroke="#8c1f3f" fill="none" stroke-width="1.3"><path d="M531.5 36.3L531.5 33.5M531.5 36.3L533.74 37.84M531.5 36.3L529.26 37.84"/><path d="M542.4 37.6L542.4 34.8M542.4 37.6L544.64 39.14M542.4 37.6L540.16 39.14"/><path d="M548.9 47.2L548.9 44.4M548.9 47.2L551.14 48.74M548.9 47.2L546.66 48.74"/><path d="M553.5 58.1L553.5 55.3M553.5 58.1L555.74 59.64M553.5 58.1L551.26 59.64"/><path d="M556.5 67.1L556.5 64.3M556.5 67.1L558.74 68.64M556.5 67.1L554.26 68.64"/><path d="M557.1 67.2L557.1 64.4M557.1 67.2L559.34 68.74M557.1 67.2L554.86 68.74"/><path d="M560.1 78.4L560.1 75.6M560.1 78.4L562.34 79.94M560.1 78.4L557.86 79.94"/><path d="M562 83.7L562 80.9M562 83.7L564.24 85.24M562 83.7L559.76 85.24"/><path d="M567.6 87.6L567.6 84.8M567.6 87.6L569.84 89.14M567.6 87.6L565.36 89.14"/><path d="M564 94.4L564 91.6M564 94.4L566.24 95.94M564 94.4L561.76 95.94"/></g>
<g stroke="#ff69b4" fill="none" stroke-width="1.3"><path d="M547.7 40.6L547.7 43.4M547.7 40.6L549.94 39.06M547.7 40.6L545.46 39.06"/><path d="M558.3 56.3L558.3 59.1M558.3 56.3L560.54 54.76M558.3 56.3L556.06 54.76"/><path d="M564.9 70.2L564.9 73M564.9 70.2L567.14 68.66M564.9 70.2L562.66 68.66"/><path d="M569.3 83.7L569.3 86.5M569.3 83.7L571.54 82.16M569.3 83.7L567.06 82.16"/><path d="M572.6 91.5L572.6 94.3M572.6 91.5L574.84 89.96M572.6 91.5L570.36 89.96"/><path d="M577.8 94.2L577.8 97M577.8 94.2L580.04 92.66M577.8 94.2L575.56 92.66"/><path d="M583.7 91.5L583.7 94.3M583.7 91.5L585.94 89.96M583.7 91.5L581.46 89.96"/><path d="M580.2 105.3L580.2 108.1M580.2 105.3L582.44 103.76M580.2 105.3L577.96 103.76"/></g>
<g stroke="#3ecc3e" fill="none" stroke-width="1.3"><path d="M529.5 27.2L534.5 32.2M529.5 32.2L534.5 27.2"/><path d="M540.1 44.7L545.1 49.7M540.1 49.7L545.1 44.7"/><path d="M546.4 62.1L551.4 67.1M546.4 67.1L551.4 62.1"/><path d="M551.4 70L556.4 75M551.4 75L556.4 70"/><path d="M554.6 71.3L559.6 76.3M554.6 76.3L559.6 71.3"/><path d="M556.7 81.2L561.7 86.2M556.7 86.2L561.7 81.2"/><path d="M560.9 85.4L565.9 90.4M560.9 90.4L565.9 85.4"/><path d="M559.5 86.3L564.5 91.3M559.5 91.3L564.5 86.3"/><path d="M562.5 86L567.5 91M562.5 91L567.5 86"/><path d="M565.5 92.3L570.5 97.3M565.5 97.3L570.5 92.3"/></g>
<g stroke="#993399" fill="none" stroke-width="1.6"><path d="M554.8 47.2L560.6 47.2"/><path d="M565.5 61.6L571.3 61.6"/><path d="M571.6 73.8L577.4 73.8"/><path d="M576.2 85.2L582 85.2"/><path d="M579.9 94.8L585.7 94.8"/><path d="M582.1 97.2L587.9 97.2"/><path d="M590 100.1L595.8 100.1"/><path d="M584.8 104L590.6 104"/><path d="M587.8 111L593.6 111"/></g>
<g stroke="#ffcc3a" fill="none" stroke-width="1.3"><path d="M516.2 194.9L519 194.9M516.2 194.9L514.66 192.66M516.2 194.9L514.66 197.14"/><path d="M527.6 199.5L530.4 199.5M527.6 199.5L526.06 197.26M527.6 199.5L526.06 201.74"/><path d="M534 209.3L536.8 209.3M534 209.3L532.46 207.06M534 209.3L532.46 211.54"/><path d="M538.6 218.5L541.4 218.5M538.6 218.5L537.06 216.26M538.6 218.5L537.06 220.74"/><path d="M541.3 221.5L544.1 221.5M541.3 221.5L539.76 219.26M541.3 221.5L539.76 223.74"/><path d="M544.8 231.1L547.6 231.1M544.8 231.1L543.26 228.86M544.8 231.1L543.26 233.34"/><path d="M549.4 234.5L552.2 234.5M549.4 234.5L547.86 232.26M549.4 234.5L547.86 236.74"/><path d="M551 238L553.8 238M551 238L549.46 235.76M551 238L549.46 240.24"/><path d="M552.8 254.4L555.6 254.4M552.8 254.4L551.26 252.16M552.8 254.4L551.26 256.64"/></g>
<g stroke="#ffa31a" fill="none" stroke-width="1.3"><path d="M516.8 191L522.4 191M519.6 188.2L519.6 193.8"/><path d="M527.6 217.3L533.2 217.3M530.4 214.5L530.4 220.1"/><path d="M533.5 225.4L539.1 225.4M536.3 222.6L536.3 228.2"/><path d="M538.5 234.5L544.1 234.5M541.3 231.7L541.3 237.3"/><path d="M542 242.5L547.6 242.5M544.8 239.7L544.8 245.3"/><path d="M547.7 245.3L553.3 245.3M550.5 242.5L550.5 248.1"/><path d="M545 256.7L550.6 256.7M547.8 253.9L547.8 259.5"/><path d="M551.1 256.7L556.7 256.7M553.9 253.9L553.9 259.5"/><path d="M553.4 256.7L559 256.7M556.2 253.9L556.2 259.5"/></g>
<g stroke="#2020d8" fill="none" stroke-width="1.5"><path d="M560.1 210.8L560.1 217"/><path d="M571.6 271.5L571.6 277.7"/><path d="M577.5 280.2L577.5 286.4"/><path d="M596.7 279.5L596.7 285.7"/></g>
<g stroke="#2a7584" fill="none" stroke-width="1.3"><path d="M544.1 213.2L541.3 213.2M544.1 213.2L545.64 210.96M544.1 213.2L545.64 215.44"/><path d="M555.1 218.5L552.3 218.5M555.1 218.5L556.64 216.26M555.1 218.5L556.64 220.74"/><path d="M561.5 224.9L558.7 224.9M561.5 224.9L563.04 222.66M561.5 224.9L563.04 227.14"/><path d="M566.1 231.5L563.3 231.5M566.1 231.5L567.64 229.26M566.1 231.5L567.64 233.74"/><path d="M570 234.5L567.2 234.5M570 234.5L571.54 232.26M570 234.5L571.54 236.74"/><path d="M573.4 248.2L570.6 248.2M573.4 248.2L574.94 245.96M573.4 248.2L574.94 250.44"/><path d="M574.5 258.1L571.7 258.1M574.5 258.1L576.04 255.86M574.5 258.1L576.04 260.34"/><path d="M579.1 260.8L576.3 260.8M579.1 260.8L580.64 258.56M579.1 260.8L580.64 263.04"/><path d="M580.3 272.3L577.5 272.3M580.3 272.3L581.84 270.06M580.3 272.3L581.84 274.54"/></g>
<g stroke="#8c1f3f" fill="none" stroke-width="1.3"><path d="M550.5 210L550.5 207.2M550.5 210L552.74 211.54M550.5 210L548.26 211.54"/><path d="M561.5 239.1L561.5 236.3M561.5 239.1L563.74 240.64M561.5 239.1L559.26 240.64"/><path d="M568.4 249.4L568.4 246.6M568.4 249.4L570.64 250.94M568.4 249.4L566.16 250.94"/><path d="M576.8 251.2L576.8 248.4M576.8 251.2L579.04 252.74M576.8 251.2L574.56 252.74"/><path d="M578 256.7L578 253.9M578 256.7L580.24 258.24M578 256.7L575.76 258.24"/><path d="M583.7 268.9L583.7 266.1M583.7 268.9L585.94 270.44M583.7 268.9L581.46 270.44"/><path d="M581.4 276.4L581.4 273.6M581.4 276.4L583.64 277.94M581.4 276.4L579.16 277.94"/><path d="M586.7 275.7L586.7 272.9M586.7 275.7L588.94 277.24M586.7 275.7L584.46 277.24"/></g>
<g stroke="#ff69b4" fill="none" stroke-width="1.3"><path d="M560.8 217.3L560.8 220.1M560.8 217.3L563.04 215.76M560.8 217.3L558.56 215.76"/><path d="M571.1 243L571.1 245.8M571.1 243L573.34 241.46M571.1 243L568.86 241.46"/><path d="M586 263.1L586 265.9M586 263.1L588.24 261.56M586 263.1L583.76 261.56"/><path d="M591.7 271.1L591.7 273.9M591.7 271.1L593.94 269.56M591.7 271.1L589.46 269.56"/><path d="M597.4 275.7L597.4 278.5M597.4 275.7L599.64 274.16M597.4 275.7L595.16 274.16"/></g>
<g stroke="#3ecc3e" fill="none" stroke-width="1.3"><path d="M554.9 210.7L559.9 215.7M554.9 215.7L559.9 210.7"/><path d="M565.2 251.5L570.2 256.5M565.2 256.5L570.2 251.5"/><path d="M571.4 264.7L576.4 269.7M571.4 269.7L576.4 264.7"/><path d="M575.9 277.8L580.9 282.8M575.9 282.8L580.9 277.8"/><path d="M590.4 277.8L595.4 282.8M590.4 282.8L595.4 277.8"/></g>
<g stroke="#993399" fill="none" stroke-width="1.6"><path d="M559.5 219.2L565.3 219.2"/><path d="M570.5 235.2L576.3 235.2"/><path d="M576.2 246.6L582 246.6"/><path d="M580.8 251.2L586.6 251.2"/><path d="M584.2 259L590 259"/><path d="M587 267.2L592.8 267.2"/><path d="M591.1 273.4L596.9 273.4"/><path d="M596.8 276.4L602.6 276.4"/><path d="M590.6 283.3L596.4 283.3"/></g>
<g stroke="#ffcc3a" fill="none" stroke-width="0.85" stroke-opacity="0.55"><path d="M407.75 28L410.55 28M407.75 28L406.21 25.76M407.75 28L406.21 30.24"/><path d="M409.41 25.39L412.21 25.39M409.41 25.39L407.87 23.15M409.41 25.39L407.87 27.63"/><path d="M407.28 25.36L410.08 25.36M407.28 25.36L405.74 23.12M407.28 25.36L405.74 27.6"/><path d="M406.3 24.92L409.1 24.92M406.3 24.92L404.76 22.68M406.3 24.92L404.76 27.16"/><path d="M406.55 22.41L409.35 22.41M406.55 22.41L405.01 20.17M406.55 22.41L405.01 24.65"/><path d="M407.69 24.86L410.49 24.86M407.69 24.86L406.15 22.62M407.69 24.86L406.15 27.1"/><path d="M418.95 35.81L421.75 35.81M418.95 35.81L417.41 33.57M418.95 35.81L417.41 38.05"/><path d="M417.47 36.65L420.27 36.65M417.47 36.65L415.93 34.41M417.47 36.65L415.93 38.89"/><path d="M419.15 35.72L421.95 35.72M419.15 35.72L417.61 33.48M419.15 35.72L417.61 37.96"/><path d="M425.39 51.66L428.19 51.66M425.39 51.66L423.85 49.42M425.39 51.66L423.85 53.9"/><path d="M424.38 48.58L427.18 48.58M424.38 48.58L422.84 46.34M424.38 48.58L422.84 50.82"/><path d="M426.15 49.76L428.95 49.76M426.15 49.76L424.61 47.52M426.15 49.76L424.61 52"/><path d="M424.91 53.66L427.71 53.66M424.91 53.66L423.37 51.42M424.91 53.66L423.37 55.9"/><path d="M426.95 53.13L429.75 53.13M426.95 53.13L425.41 50.89M426.95 53.13L425.41 55.37"/><path d="M425.51 54.85L428.31 54.85M425.51 54.85L423.97 52.61M425.51 54.85L423.97 57.09"/><path d="M429.86 60.57L432.66 60.57M429.86 60.57L428.32 58.33M429.86 60.57L428.32 62.81"/><path d="M427.56 61.44L430.36 61.44M427.56 61.44L426.02 59.2M427.56 61.44L426.02 63.68"/><path d="M429.6 60.48L432.4 60.48M429.6 60.48L428.06 58.24M429.6 60.48L428.06 62.72"/><path d="M432.46 66.46L435.26 66.46M432.46 66.46L430.92 64.22M432.46 66.46L430.92 68.7"/><path d="M431.41 63.86L434.21 63.86M431.41 63.86L429.87 61.62M431.41 63.86L429.87 66.1"/><path d="M432.19 65.35L434.99 65.35M432.19 65.35L430.65 63.11M432.19 65.35L430.65 67.59"/><path d="M427.64 54.2L430.44 54.2M427.64 54.2L426.1 51.96M427.64 54.2L426.1 56.44"/><path d="M425.17 54.83L427.97 54.83M425.17 54.83L423.63 52.59M425.17 54.83L423.63 57.07"/><path d="M423.67 56.18L426.47 56.18M423.67 56.18L422.13 53.94M423.67 56.18L422.13 58.42"/><path d="M430.94 62.17L433.74 62.17M430.94 62.17L429.4 59.93M430.94 62.17L429.4 64.41"/><path d="M432.14 64.35L434.94 64.35M432.14 64.35L430.6 62.11M432.14 64.35L430.6 66.59"/><path d="M431.08 63.76L433.88 63.76M431.08 63.76L429.54 61.52M431.08 63.76L429.54 66"/><path d="M434.64 71.54L437.44 71.54M434.64 71.54L433.1 69.3M434.64 71.54L433.1 73.78"/><path d="M434.16 74.24L436.96 74.24M434.16 74.24L432.62 72M434.16 74.24L432.62 76.48"/><path d="M430.83 73.89L433.63 73.89M430.83 73.89L429.29 71.65M430.83 73.89L429.29 76.13"/><path d="M436.05 81.69L438.85 81.69M436.05 81.69L434.51 79.45M436.05 81.69L434.51 83.93"/><path d="M435.79 80.57L438.59 80.57M435.79 80.57L434.25 78.33M435.79 80.57L434.25 82.81"/><path d="M436.88 79.37L439.68 79.37M436.88 79.37L435.34 77.13M436.88 79.37L435.34 81.61"/><path d="M441.24 88.55L444.04 88.55M441.24 88.55L439.7 86.31M441.24 88.55L439.7 90.79"/><path d="M441.09 87.97L443.89 87.97M441.09 87.97L439.55 85.73M441.09 87.97L439.55 90.21"/><path d="M441.92 89.55L444.72 89.55M441.92 89.55L440.38 87.31M441.92 89.55L440.38 91.79"/><path d="M443.25 96.78L446.05 96.78M443.25 96.78L441.71 94.54M443.25 96.78L441.71 99.02"/><path d="M445.26 98.41L448.06 98.41M445.26 98.41L443.72 96.17M445.26 98.41L443.72 100.65"/><path d="M441.3 97.14L444.1 97.14M441.3 97.14L439.76 94.9M441.3 97.14L439.76 99.38"/><path d="M447.65 95.87L450.45 95.87M447.65 95.87L446.11 93.63M447.65 95.87L446.11 98.11"/><path d="M445.59 97.76L448.39 97.76M445.59 97.76L444.05 95.52M445.59 97.76L444.05 100"/><path d="M445.23 96.79L448.03 96.79M445.23 96.79L443.69 94.55M445.23 96.79L443.69 99.03"/><path d="M439.82 81.76L442.62 81.76M439.82 81.76L438.28 79.52M439.82 81.76L438.28 84"/><path d="M437.58 82.17L440.38 82.17M437.58 82.17L436.04 79.93M437.58 82.17L436.04 84.41"/><path d="M438.34 86.12L441.14 86.12M438.34 86.12L436.8 83.88M438.34 86.12L436.8 88.36"/><path d="M448.83 89.51L451.63 89.51M448.83 89.51L447.29 87.27M448.83 89.51L447.29 91.75"/><path d="M445.2 92.98L448 92.98M445.2 92.98L443.66 90.74M445.2 92.98L443.66 95.22"/><path d="M448.21 92.59L451.01 92.59M448.21 92.59L446.67 90.35M448.21 92.59L446.67 94.83"/></g>
<g stroke="#ffa31a" fill="none" stroke-width="0.85" stroke-opacity="0.45"><path d="M412.7 30.06L418.3 30.06M415.5 27.26L415.5 32.86"/><path d="M413.58 29.46L419.18 29.46M416.38 26.66L416.38 32.26"/><path d="M412.72 30.16L418.32 30.16M415.52 27.36L415.52 32.96"/><path d="M415.57 30.89L421.17 30.89M418.37 28.09L418.37 33.69"/><path d="M414.93 29.46L420.53 29.46M417.73 26.66L417.73 32.26"/><path d="M414.62 32.45L420.22 32.45M417.42 29.65L417.42 35.25"/><path d="M431.27 65.57L436.87 65.57M434.07 62.77L434.07 68.37"/><path d="M433.1 67.94L438.7 67.94M435.9 65.14L435.9 70.74"/><path d="M434.03 67.38L439.63 67.38M436.83 64.58L436.83 70.18"/><path d="M445.25 93.16L450.85 93.16M448.05 90.36L448.05 95.96"/><path d="M447.39 97.98L452.99 97.98M450.19 95.18L450.19 100.78"/><path d="M444.81 94.12L450.41 94.12M447.61 91.32L447.61 96.92"/><path d="M444.92 91L450.52 91M447.72 88.2L447.72 93.8"/><path d="M443.88 91.58L449.48 91.58M446.68 88.78L446.68 94.38"/><path d="M444.43 93.31L450.03 93.31M447.23 90.51L447.23 96.11"/><path d="M442.23 98.1L447.83 98.1M445.03 95.3L445.03 100.9"/><path d="M441.7 97.39L447.3 97.39M444.5 94.59L444.5 100.19"/><path d="M439.63 95.26L445.23 95.26M442.43 92.46L442.43 98.06"/><path d="M435.16 74.29L440.76 74.29M437.96 71.49L437.96 77.09"/><path d="M434.9 75.65L440.5 75.65M437.7 72.85L437.7 78.45"/><path d="M435.79 75.97L441.39 75.97M438.59 73.17L438.59 78.77"/></g>
<g stroke="#8c1f3f" fill="none" stroke-width="0.85" stroke-opacity="0.6"><path d="M419.19 38.39L419.19 35.59M419.19 38.39L421.43 39.93M419.19 38.39L416.95 39.93"/><path d="M417.31 39.27L417.31 36.47M417.31 39.27L419.55 40.81M417.31 39.27L415.07 40.81"/><path d="M420.09 39.86L420.09 37.06M420.09 39.86L422.33 41.4M420.09 39.86L417.85 41.4"/><path d="M421.98 39.6L421.98 36.8M421.98 39.6L424.22 41.14M421.98 39.6L419.74 41.14"/><path d="M422.05 38.78L422.05 35.98M422.05 38.78L424.29 40.32M422.05 38.78L419.81 40.32"/><path d="M422.59 36.58L422.59 33.78M422.59 36.58L424.83 38.12M422.59 36.58L420.35 38.12"/><path d="M426.79 37.87L426.79 35.07M426.79 37.87L429.03 39.41M426.79 37.87L424.55 39.41"/><path d="M425.9 37.43L425.9 34.63M425.9 37.43L428.14 38.97M425.9 37.43L423.66 38.97"/><path d="M425.08 37.96L425.08 35.16M425.08 37.96L427.32 39.5M425.08 37.96L422.84 39.5"/><path d="M431.53 41.07L431.53 38.27M431.53 41.07L433.77 42.61M431.53 41.07L429.29 42.61"/><path d="M430.67 40.49L430.67 37.69M430.67 40.49L432.91 42.03M430.67 40.49L428.43 42.03"/><path d="M430.44 37.49L430.44 34.69M430.44 37.49L432.68 39.03M430.44 37.49L428.2 39.03"/><path d="M434.95 42.95L434.95 40.15M434.95 42.95L437.19 44.49M434.95 42.95L432.71 44.49"/><path d="M434.37 42.8L434.37 40M434.37 42.8L436.61 44.34M434.37 42.8L432.13 44.34"/><path d="M435.37 41.64L435.37 38.84M435.37 41.64L437.61 43.18M435.37 41.64L433.13 43.18"/><path d="M437.42 53.48L437.42 50.68M437.42 53.48L439.66 55.02M437.42 53.48L435.18 55.02"/><path d="M438.69 53.35L438.69 50.55M438.69 53.35L440.93 54.89M438.69 53.35L436.45 54.89"/><path d="M439.89 55.43L439.89 52.63M439.89 55.43L442.13 56.97M439.89 55.43L437.65 56.97"/><path d="M440.48 58.5L440.48 55.7M440.48 58.5L442.72 60.04M440.48 58.5L438.24 60.04"/><path d="M441.84 58.51L441.84 55.71M441.84 58.51L444.08 60.05M441.84 58.51L439.6 60.05"/><path d="M441.95 57.41L441.95 54.61M441.95 57.41L444.19 58.95M441.95 57.41L439.71 58.95"/><path d="M443.74 65.02L443.74 62.22M443.74 65.02L445.98 66.56M443.74 65.02L441.5 66.56"/><path d="M443.8 62.38L443.8 59.58M443.8 62.38L446.04 63.92M443.8 62.38L441.56 63.92"/><path d="M443.61 64.26L443.61 61.46M443.61 64.26L445.85 65.8M443.61 64.26L441.37 65.8"/><path d="M442.87 63.64L442.87 60.84M442.87 63.64L445.11 65.18M442.87 63.64L440.63 65.18"/><path d="M444.04 62.95L444.04 60.15M444.04 62.95L446.28 64.49M444.04 62.95L441.8 64.49"/><path d="M443 64.18L443 61.38M443 64.18L445.24 65.72M443 64.18L440.76 65.72"/><path d="M445.41 74.62L445.41 71.82M445.41 74.62L447.65 76.16M445.41 74.62L443.17 76.16"/><path d="M446.95 72.23L446.95 69.43M446.95 72.23L449.19 73.77M446.95 72.23L444.71 73.77"/><path d="M447.2 72.97L447.2 70.17M447.2 72.97L449.44 74.51M447.2 72.97L444.96 74.51"/><path d="M449.8 89.11L449.8 86.31M449.8 89.11L452.04 90.65M449.8 89.11L447.56 90.65"/><path d="M451.96 90.44L451.96 87.64M451.96 90.44L454.2 91.98M451.96 90.44L449.72 91.98"/><path d="M451.87 89.85L451.87 87.05M451.87 89.85L454.11 91.39M451.87 89.85L449.63 91.39"/><path d="M455.27 97.79L455.27 94.99M455.27 97.79L457.51 99.33M455.27 97.79L453.03 99.33"/><path d="M455.98 98.15L455.98 95.35M455.98 98.15L458.22 99.69M455.98 98.15L453.74 99.69"/><path d="M455.09 98.54L455.09 95.74M455.09 98.54L457.33 100.08M455.09 98.54L452.85 100.08"/><path d="M450.94 94.29L450.94 91.49M450.94 94.29L453.18 95.83M450.94 94.29L448.7 95.83"/><path d="M453.53 95.34L453.53 92.54M453.53 95.34L455.77 96.88M453.53 95.34L451.29 96.88"/><path d="M451.72 95.34L451.72 92.54M451.72 95.34L453.96 96.88M451.72 95.34L449.48 96.88"/><path d="M455.52 100.28L455.52 97.48M455.52 100.28L457.76 101.82M455.52 100.28L453.28 101.82"/><path d="M455.33 100.28L455.33 97.48M455.33 100.28L457.57 101.82M455.33 100.28L453.09 101.82"/><path d="M454.42 101.33L454.42 98.53M454.42 101.33L456.66 102.87M454.42 101.33L452.18 102.87"/></g>
<g stroke="#2a7584" fill="none" stroke-width="0.85" stroke-opacity="0.6"><path d="M425.04 43.26L422.24 43.26M425.04 43.26L426.58 41.02M425.04 43.26L426.58 45.5"/><path d="M425.35 44.59L422.55 44.59M425.35 44.59L426.89 42.35M425.35 44.59L426.89 46.83"/><path d="M425.77 43.74L422.97 43.74M425.77 43.74L427.31 41.5M425.77 43.74L427.31 45.98"/><path d="M429.04 48.49L426.24 48.49M429.04 48.49L430.58 46.25M429.04 48.49L430.58 50.73"/><path d="M427.19 44.87L424.39 44.87M427.19 44.87L428.73 42.63M427.19 44.87L428.73 47.11"/><path d="M428.26 44.71L425.46 44.71M428.26 44.71L429.8 42.47M428.26 44.71L429.8 46.95"/><path d="M435.81 41.23L433.01 41.23M435.81 41.23L437.35 38.99M435.81 41.23L437.35 43.47"/><path d="M438.31 42.46L435.51 42.46M438.31 42.46L439.85 40.22M438.31 42.46L439.85 44.7"/><path d="M439.6 41.72L436.8 41.72M439.6 41.72L441.14 39.48M439.6 41.72L441.14 43.96"/><path d="M441.09 48.8L438.29 48.8M441.09 48.8L442.63 46.56M441.09 48.8L442.63 51.04"/><path d="M440.06 44.61L437.26 44.61M440.06 44.61L441.6 42.37M440.06 44.61L441.6 46.85"/><path d="M440.86 45.55L438.06 45.55M440.86 45.55L442.4 43.31M440.86 45.55L442.4 47.79"/><path d="M443.83 51.84L441.03 51.84M443.83 51.84L445.37 49.6M443.83 51.84L445.37 54.08"/><path d="M442.07 51.93L439.27 51.93M442.07 51.93L443.61 49.69M442.07 51.93L443.61 54.17"/><path d="M445.8 53.1L443 53.1M445.8 53.1L447.34 50.86M445.8 53.1L447.34 55.34"/><path d="M442.94 62.84L440.14 62.84M442.94 62.84L444.48 60.6M442.94 62.84L444.48 65.08"/><path d="M445.04 63.68L442.24 63.68M445.04 63.68L446.58 61.44M445.04 63.68L446.58 65.92"/><path d="M445.81 65.13L443.01 65.13M445.81 65.13L447.35 62.89M445.81 65.13L447.35 67.37"/><path d="M448.62 62.08L445.82 62.08M448.62 62.08L450.16 59.84M448.62 62.08L450.16 64.32"/><path d="M447.81 61.06L445.01 61.06M447.81 61.06L449.35 58.82M447.81 61.06L449.35 63.3"/><path d="M447.97 62.52L445.17 62.52M447.97 62.52L449.51 60.28M447.97 62.52L449.51 64.76"/><path d="M451.29 75.01L448.49 75.01M451.29 75.01L452.83 72.77M451.29 75.01L452.83 77.25"/><path d="M452.1 75.61L449.3 75.61M452.1 75.61L453.64 73.37M452.1 75.61L453.64 77.85"/><path d="M450.61 74.53L447.81 74.53M450.61 74.53L452.15 72.29M450.61 74.53L452.15 76.77"/><path d="M456.18 85L453.38 85M456.18 85L457.72 82.76M456.18 85L457.72 87.24"/><path d="M453.73 86.82L450.93 86.82M453.73 86.82L455.27 84.58M453.73 86.82L455.27 89.06"/><path d="M457.42 85.46L454.62 85.46M457.42 85.46L458.96 83.22M457.42 85.46L458.96 87.7"/><path d="M462.05 92.28L459.25 92.28M462.05 92.28L463.59 90.04M462.05 92.28L463.59 94.52"/><path d="M461.31 89.08L458.51 89.08M461.31 89.08L462.85 86.84M461.31 89.08L462.85 91.32"/><path d="M460.64 92.39L457.84 92.39M460.64 92.39L462.18 90.15M460.64 92.39L462.18 94.63"/><path d="M462.97 92.82L460.17 92.82M462.97 92.82L464.51 90.58M462.97 92.82L464.51 95.06"/><path d="M462.77 89.52L459.97 89.52M462.77 89.52L464.31 87.28M462.77 89.52L464.31 91.76"/><path d="M458.78 91.43L455.98 91.43M458.78 91.43L460.32 89.19M458.78 91.43L460.32 93.67"/><path d="M465.03 102.06L462.23 102.06M465.03 102.06L466.57 99.82M465.03 102.06L466.57 104.3"/><path d="M464.86 101.24L462.06 101.24M464.86 101.24L466.4 99M464.86 101.24L466.4 103.48"/><path d="M463.35 101.49L460.55 101.49M463.35 101.49L464.89 99.25M463.35 101.49L464.89 103.73"/><path d="M462.51 102.88L459.71 102.88M462.51 102.88L464.05 100.64M462.51 102.88L464.05 105.12"/><path d="M463.51 102.37L460.71 102.37M463.51 102.37L465.05 100.13M463.51 102.37L465.05 104.61"/><path d="M463.35 102.49L460.55 102.49M463.35 102.49L464.89 100.25M463.35 102.49L464.89 104.73"/><path d="M468.34 104.85L465.54 104.85M468.34 104.85L469.88 102.61M468.34 104.85L469.88 107.09"/><path d="M466.9 103.65L464.1 103.65M466.9 103.65L468.44 101.41M466.9 103.65L468.44 105.89"/><path d="M469.42 104.19L466.62 104.19M469.42 104.19L470.96 101.95M469.42 104.19L470.96 106.43"/><path d="M455.09 80.43L452.29 80.43M455.09 80.43L456.63 78.19M455.09 80.43L456.63 82.67"/><path d="M453.38 79.18L450.58 79.18M453.38 79.18L454.92 76.94M453.38 79.18L454.92 81.42"/><path d="M454.13 80.28L451.33 80.28M454.13 80.28L455.67 78.04M454.13 80.28L455.67 82.52"/></g>
<g stroke="#ff69b4" fill="none" stroke-width="0.85" stroke-opacity="0.6"><path d="M445.61 55.53L445.61 58.33M445.61 55.53L447.85 53.99M445.61 55.53L443.37 53.99"/><path d="M444.41 56.71L444.41 59.51M444.41 56.71L446.65 55.17M444.41 56.71L442.17 55.17"/><path d="M446.6 54.44L446.6 57.24M446.6 54.44L448.84 52.9M446.6 54.44L444.36 52.9"/><path d="M452.14 69.76L452.14 72.56M452.14 69.76L454.38 68.22M452.14 69.76L449.9 68.22"/><path d="M452.13 69.81L452.13 72.61M452.13 69.81L454.37 68.27M452.13 69.81L449.89 68.27"/><path d="M452.06 71.86L452.06 74.66M452.06 71.86L454.3 70.32M452.06 71.86L449.82 70.32"/><path d="M461.55 88.53L461.55 91.33M461.55 88.53L463.79 86.99M461.55 88.53L459.31 86.99"/><path d="M461.57 87.35L461.57 90.15M461.57 87.35L463.81 85.81M461.57 87.35L459.33 85.81"/><path d="M461.74 87.89L461.74 90.69M461.74 87.89L463.98 86.35M461.74 87.89L459.5 86.35"/><path d="M465.79 93.46L465.79 96.26M465.79 93.46L468.03 91.92M465.79 93.46L463.55 91.92"/><path d="M466.37 94.25L466.37 97.05M466.37 94.25L468.61 92.71M466.37 94.25L464.13 92.71"/><path d="M466.56 92.97L466.56 95.77M466.56 92.97L468.8 91.43M466.56 92.97L464.32 91.43"/><path d="M471.66 97.19L471.66 99.99M471.66 97.19L473.9 95.65M471.66 97.19L469.42 95.65"/><path d="M471.47 96.81L471.47 99.61M471.47 96.81L473.71 95.27M471.47 96.81L469.23 95.27"/><path d="M470.09 95.78L470.09 98.58M470.09 95.78L472.33 94.24M470.09 95.78L467.85 94.24"/><path d="M465.42 99.85L465.42 102.65M465.42 99.85L467.66 98.31M465.42 99.85L463.18 98.31"/><path d="M465.81 97.42L465.81 100.22M465.81 97.42L468.05 95.88M465.81 97.42L463.57 95.88"/><path d="M465.66 97.48L465.66 100.28M465.66 97.48L467.9 95.94M465.66 97.48L463.42 95.94"/><path d="M458.67 104.9L458.67 107.7M458.67 104.9L460.91 103.36M458.67 104.9L456.43 103.36"/><path d="M457.24 106.22L457.24 109.02M457.24 106.22L459.48 104.68M457.24 106.22L455 104.68"/><path d="M458.42 104.44L458.42 107.24M458.42 104.44L460.66 102.9M458.42 104.44L456.18 102.9"/><path d="M463.75 109.16L463.75 111.96M463.75 109.16L465.99 107.62M463.75 109.16L461.51 107.62"/><path d="M461.52 108.82L461.52 111.62M461.52 108.82L463.76 107.28M461.52 108.82L459.28 107.28"/><path d="M462.31 106.51L462.31 109.31M462.31 106.51L464.55 104.97M462.31 106.51L460.07 104.97"/><path d="M468.22 106.45L468.22 109.25M468.22 106.45L470.46 104.91M468.22 106.45L465.98 104.91"/><path d="M469.7 108.39L469.7 111.19M469.7 108.39L471.94 106.85M469.7 108.39L467.46 106.85"/><path d="M467.65 107.62L467.65 110.42M467.65 107.62L469.89 106.08M467.65 107.62L465.41 106.08"/></g>
<g stroke="#3ecc3e" fill="none" stroke-width="0.85" stroke-opacity="0.6"><path d="M423.13 30.98L428.13 35.98M423.13 35.98L428.13 30.98"/><path d="M421.39 32.26L426.39 37.26M421.39 37.26L426.39 32.26"/><path d="M421.56 32.34L426.56 37.34M421.56 37.34L426.56 32.34"/><path d="M430.9 48.87L435.9 53.87M430.9 53.87L435.9 48.87"/><path d="M429.2 48.53L434.2 53.53M429.2 53.53L434.2 48.53"/><path d="M429.95 48.83L434.95 53.83M429.95 53.83L434.95 48.83"/><path d="M435.93 65.12L440.93 70.12M435.93 70.12L440.93 65.12"/><path d="M437.22 64.81L442.22 69.81M437.22 69.81L442.22 64.81"/><path d="M436.72 64.59L441.72 69.59M436.72 69.59L441.72 64.59"/><path d="M435.45 66.64L440.45 71.64M435.45 71.64L440.45 66.64"/><path d="M435.4 67.19L440.4 72.19M435.4 72.19L440.4 67.19"/><path d="M435.91 67.38L440.91 72.38M435.91 72.38L440.91 67.38"/><path d="M437.67 71.79L442.67 76.79M437.67 76.79L442.67 71.79"/><path d="M438.24 70.17L443.24 75.17M438.24 75.17L443.24 70.17"/><path d="M438.8 70.34L443.8 75.34M438.8 75.34L443.8 70.34"/><path d="M446.39 79.53L451.39 84.53M446.39 84.53L451.39 79.53"/><path d="M445.03 79.25L450.03 84.25M445.03 84.25L450.03 79.25"/><path d="M447.41 80.14L452.41 85.14M447.41 85.14L452.41 80.14"/><path d="M447.03 85.21L452.03 90.21M447.03 90.21L452.03 85.21"/><path d="M446.64 86.99L451.64 91.99M446.64 91.99L451.64 86.99"/><path d="M446.68 85.68L451.68 90.68M446.68 90.68L451.68 85.68"/><path d="M450.04 88.05L455.04 93.05M450.04 93.05L455.04 88.05"/><path d="M449.8 90.5L454.8 95.5M449.8 95.5L454.8 90.5"/><path d="M449.97 89.76L454.97 94.76M449.97 94.76L454.97 89.76"/><path d="M453.45 95.66L458.45 100.66M453.45 100.66L458.45 95.66"/><path d="M452.84 95.37L457.84 100.37M452.84 100.37L457.84 95.37"/><path d="M453.13 94.56L458.13 99.56M453.13 99.56L458.13 94.56"/></g>
<g stroke="#2020d8" fill="none" stroke-width="1.3" stroke-opacity="0.75"><path d="M419.51 30.13L419.51 36.33"/><path d="M418.48 29.76L418.48 35.96"/><path d="M428.81 41.82L428.81 48.02"/><path d="M428.77 42.44L428.77 48.64"/><path d="M435.45 57.8L435.45 64"/><path d="M434.15 57.96L434.15 64.16"/><path d="M440.54 76.05L440.54 82.25"/><path d="M440.75 75.01L440.75 81.21"/><path d="M443.07 77.11L443.07 83.31"/><path d="M443.95 77L443.95 83.2"/></g>
<g stroke="#ffcc3a" fill="none" stroke-width="0.85" stroke-opacity="0.6"><path d="M440.03 91.55L442.83 91.55M440.03 91.55L438.49 89.31M440.03 91.55L438.49 93.79"/><path d="M443.22 89.77L446.02 89.77M443.22 89.77L441.68 87.53M443.22 89.77L441.68 92.01"/><path d="M441.43 92.19L444.23 92.19M441.43 92.19L439.89 89.95M441.43 92.19L439.89 94.43"/><path d="M439.36 91.75L442.16 91.75M439.36 91.75L437.82 89.51M439.36 91.75L437.82 93.99"/><path d="M437.41 89.04L440.21 89.04M437.41 89.04L435.87 86.8M437.41 89.04L435.87 91.28"/><path d="M438.59 89.53L441.39 89.53M438.59 89.53L437.05 87.29M438.59 89.53L437.05 91.77"/><path d="M444.6 100.4L447.4 100.4M444.6 100.4L443.06 98.16M444.6 100.4L443.06 102.64"/><path d="M447.2 99.35L450 99.35M447.2 99.35L445.66 97.11M447.2 99.35L445.66 101.59"/><path d="M444.75 99.74L447.55 99.74M444.75 99.74L443.21 97.5M444.75 99.74L443.21 101.98"/><path d="M433.55 77.98L436.35 77.98M433.55 77.98L432.01 75.74M433.55 77.98L432.01 80.22"/><path d="M434.62 81.11L437.42 81.11M434.62 81.11L433.08 78.87M434.62 81.11L433.08 83.35"/><path d="M436.94 78.18L439.74 78.18M436.94 78.18L435.4 75.94M436.94 78.18L435.4 80.42"/><path d="M431.75 66.73L434.55 66.73M431.75 66.73L430.21 64.49M431.75 66.73L430.21 68.97"/><path d="M432.93 72.12L435.73 72.12M432.93 72.12L431.39 69.88M432.93 72.12L431.39 74.36"/><path d="M431.05 70.89L433.85 70.89M431.05 70.89L429.51 68.65M431.05 70.89L429.51 73.13"/></g>
<g stroke="#ffa31a" fill="none" stroke-width="0.85" stroke-opacity="0.6"><path d="M442.14 92.99L447.74 92.99M444.94 90.19L444.94 95.79"/><path d="M442.42 96.76L448.02 96.76M445.22 93.96L445.22 99.56"/><path d="M441.5 94.92L447.1 94.92M444.3 92.12L444.3 97.72"/></g>
<g stroke="#8c1f3f" fill="none" stroke-width="0.85" stroke-opacity="0.6"><path d="M447.02 86L447.02 83.2M447.02 86L449.26 87.54M447.02 86L444.78 87.54"/><path d="M446.12 89.37L446.12 86.57M446.12 89.37L448.36 90.91M446.12 89.37L443.88 90.91"/><path d="M444.38 89.29L444.38 86.49M444.38 89.29L446.62 90.83M444.38 89.29L442.14 90.83"/><path d="M448.46 89.29L448.46 86.49M448.46 89.29L450.7 90.83M448.46 89.29L446.22 90.83"/><path d="M448.86 90.74L448.86 87.94M448.86 90.74L451.1 92.28M448.86 90.74L446.62 92.28"/><path d="M449.42 90.48L449.42 87.68M449.42 90.48L451.66 92.02M449.42 90.48L447.18 92.02"/><path d="M445.37 83.04L445.37 80.24M445.37 83.04L447.61 84.58M445.37 83.04L443.13 84.58"/><path d="M444.46 83.23L444.46 80.43M444.46 83.23L446.7 84.77M444.46 83.23L442.22 84.77"/><path d="M443.58 85.55L443.58 82.75M443.58 85.55L445.82 87.09M443.58 85.55L441.34 87.09"/><path d="M452.28 98.49L452.28 95.69M452.28 98.49L454.52 100.03M452.28 98.49L450.04 100.03"/><path d="M450.37 100.51L450.37 97.71M450.37 100.51L452.61 102.05M450.37 100.51L448.13 102.05"/><path d="M452.95 98.58L452.95 95.78M452.95 98.58L455.19 100.12M452.95 98.58L450.71 100.12"/></g>
<g stroke="#2a7584" fill="none" stroke-width="0.85" stroke-opacity="0.6"><path d="M451.32 84.66L448.52 84.66M451.32 84.66L452.86 82.42M451.32 84.66L452.86 86.9"/><path d="M449.68 84.93L446.88 84.93M449.68 84.93L451.22 82.69M449.68 84.93L451.22 87.17"/><path d="M451.46 86.38L448.66 86.38M451.46 86.38L453 84.14M451.46 86.38L453 88.62"/><path d="M454.03 93.96L451.23 93.96M454.03 93.96L455.57 91.72M454.03 93.96L455.57 96.2"/><path d="M456.02 93.22L453.22 93.22M456.02 93.22L457.56 90.98M456.02 93.22L457.56 95.46"/><path d="M456.35 92.63L453.55 92.63M456.35 92.63L457.89 90.39M456.35 92.63L457.89 94.87"/><path d="M457.85 100.61L455.05 100.61M457.85 100.61L459.39 98.37M457.85 100.61L459.39 102.85"/><path d="M457.96 101.03L455.16 101.03M457.96 101.03L459.5 98.79M457.96 101.03L459.5 103.27"/><path d="M456.37 101.85L453.57 101.85M456.37 101.85L457.91 99.61M456.37 101.85L457.91 104.09"/></g>
<g stroke="#3ecc3e" fill="none" stroke-width="0.85" stroke-opacity="0.6"><path d="M440.48 83.29L445.48 88.29M440.48 88.29L445.48 83.29"/><path d="M439.71 84.28L444.71 89.28M439.71 89.28L444.71 84.28"/><path d="M443.16 84.89L448.16 89.89M443.16 89.89L448.16 84.89"/><path d="M445.58 85.48L450.58 90.48M445.58 90.48L450.58 85.48"/><path d="M443.48 86.9L448.48 91.9M443.48 91.9L448.48 86.9"/><path d="M443.28 88.96L448.28 93.96M443.28 93.96L448.28 88.96"/><path d="M450.74 93.47L455.74 98.47M450.74 98.47L455.74 93.47"/><path d="M451.13 92.26L456.13 97.26M451.13 97.26L456.13 92.26"/><path d="M449.32 92.35L454.32 97.35M449.32 97.35L454.32 92.35"/></g>
<g stroke="#993399" fill="none" stroke-width="1.6" stroke-opacity="0.85"><path d="M443.6 50.2L449.4 50.2"/><path d="M453.9 64.7L459.7 64.7"/><path d="M460 77.5L465.8 77.5"/><path d="M465 89L470.8 89"/><path d="M468.2 92.6L474 92.6"/><path d="M470.9 100.2L476.7 100.2"/><path d="M478.1 102.5L483.9 102.5"/><path d="M474.5 106.5L480.3 106.5"/><path d="M479 106.8L484.8 106.8"/><path d="M474.9 113.7L480.7 113.7"/></g>
<g stroke="#ffcc3a" fill="none" stroke-width="0.85" stroke-opacity="0.55"><path d="M404.4 197.88L407.2 197.88M404.4 197.88L402.86 195.64M404.4 197.88L402.86 200.12"/><path d="M404.51 198.91L407.31 198.91M404.51 198.91L402.97 196.67M404.51 198.91L402.97 201.15"/><path d="M401.8 196.62L404.6 196.62M401.8 196.62L400.26 194.38M401.8 196.62L400.26 198.86"/><path d="M407.61 194.81L410.41 194.81M407.61 194.81L406.07 192.57M407.61 194.81L406.07 197.05"/><path d="M406.65 198.12L409.45 198.12M406.65 198.12L405.11 195.88M406.65 198.12L405.11 200.36"/><path d="M408.94 198.21L411.74 198.21M408.94 198.21L407.4 195.97M408.94 198.21L407.4 200.45"/><path d="M411.06 197.7L413.86 197.7M411.06 197.7L409.52 195.46M411.06 197.7L409.52 199.94"/><path d="M412.51 197.48L415.31 197.48M412.51 197.48L410.97 195.24M412.51 197.48L410.97 199.72"/><path d="M411.47 199.86L414.27 199.86M411.47 199.86L409.93 197.62M411.47 199.86L409.93 202.1"/><path d="M415.49 200.85L418.29 200.85M415.49 200.85L413.95 198.61M415.49 200.85L413.95 203.09"/><path d="M415.99 202.54L418.79 202.54M415.99 202.54L414.45 200.3M415.99 202.54L414.45 204.78"/><path d="M416.68 201.92L419.48 201.92M416.68 201.92L415.14 199.68M416.68 201.92L415.14 204.16"/><path d="M420.38 202.46L423.18 202.46M420.38 202.46L418.84 200.22M420.38 202.46L418.84 204.7"/><path d="M418.4 204.93L421.2 204.93M418.4 204.93L416.86 202.69M418.4 204.93L416.86 207.17"/><path d="M418.3 202.82L421.1 202.82M418.3 202.82L416.76 200.58M418.3 202.82L416.76 205.06"/><path d="M420.41 209.61L423.21 209.61M420.41 209.61L418.87 207.37M420.41 209.61L418.87 211.85"/><path d="M421.85 209.47L424.65 209.47M421.85 209.47L420.31 207.23M421.85 209.47L420.31 211.71"/><path d="M422.43 213.27L425.23 213.27M422.43 213.27L420.89 211.03M422.43 213.27L420.89 215.51"/><path d="M424.29 218.78L427.09 218.78M424.29 218.78L422.75 216.54M424.29 218.78L422.75 221.02"/><path d="M424.9 215.43L427.7 215.43M424.9 215.43L423.36 213.19M424.9 215.43L423.36 217.67"/><path d="M424.14 215.63L426.94 215.63M424.14 215.63L422.6 213.39M424.14 215.63L422.6 217.87"/><path d="M429.28 221.49L432.08 221.49M429.28 221.49L427.74 219.25M429.28 221.49L427.74 223.73"/><path d="M430.05 223.91L432.85 223.91M430.05 223.91L428.51 221.67M430.05 223.91L428.51 226.15"/><path d="M425.37 224.2L428.17 224.2M425.37 224.2L423.83 221.96M425.37 224.2L423.83 226.44"/><path d="M434.07 228.19L436.87 228.19M434.07 228.19L432.53 225.95M434.07 228.19L432.53 230.43"/><path d="M433.28 226.78L436.08 226.78M433.28 226.78L431.74 224.54M433.28 226.78L431.74 229.02"/><path d="M432.25 226.97L435.05 226.97M432.25 226.97L430.71 224.73M432.25 226.97L430.71 229.21"/><path d="M435.08 232.9L437.88 232.9M435.08 232.9L433.54 230.66M435.08 232.9L433.54 235.14"/><path d="M430.71 235.95L433.51 235.95M430.71 235.95L429.17 233.71M430.71 235.95L429.17 238.19"/><path d="M437.6 234.57L440.4 234.57M437.6 234.57L436.06 232.33M437.6 234.57L436.06 236.81"/><path d="M437.96 240.45L440.76 240.45M437.96 240.45L436.42 238.21M437.96 240.45L436.42 242.69"/><path d="M436.35 241.16L439.15 241.16M436.35 241.16L434.81 238.92M436.35 241.16L434.81 243.4"/><path d="M439.1 238.57L441.9 238.57M439.1 238.57L437.56 236.33M439.1 238.57L437.56 240.81"/><path d="M441.29 244.48L444.09 244.48M441.29 244.48L439.75 242.24M441.29 244.48L439.75 246.72"/><path d="M438.51 246.26L441.31 246.26M438.51 246.26L436.97 244.02M438.51 246.26L436.97 248.5"/><path d="M443.23 242.67L446.03 242.67M443.23 242.67L441.69 240.43M443.23 242.67L441.69 244.91"/><path d="M436.43 235.38L439.23 235.38M436.43 235.38L434.89 233.14M436.43 235.38L434.89 237.62"/><path d="M433.77 237.4L436.57 237.4M433.77 237.4L432.23 235.16M433.77 237.4L432.23 239.64"/><path d="M434.32 235.75L437.12 235.75M434.32 235.75L432.78 233.51M434.32 235.75L432.78 237.99"/><path d="M440.12 245.1L442.92 245.1M440.12 245.1L438.58 242.86M440.12 245.1L438.58 247.34"/><path d="M439.25 241.34L442.05 241.34M439.25 241.34L437.71 239.1M439.25 241.34L437.71 243.58"/><path d="M435.8 244.88L438.6 244.88M435.8 244.88L434.26 242.64M435.8 244.88L434.26 247.12"/><path d="M439.3 252.81L442.1 252.81M439.3 252.81L437.76 250.57M439.3 252.81L437.76 255.05"/><path d="M439.1 252.34L441.9 252.34M439.1 252.34L437.56 250.1M439.1 252.34L437.56 254.58"/><path d="M438.81 254.88L441.61 254.88M438.81 254.88L437.27 252.64M438.81 254.88L437.27 257.12"/><path d="M440.57 259.03L443.37 259.03M440.57 259.03L439.03 256.79M440.57 259.03L439.03 261.27"/><path d="M441.74 260.89L444.54 260.89M441.74 260.89L440.2 258.65M441.74 260.89L440.2 263.13"/><path d="M440.01 259.15L442.81 259.15M440.01 259.15L438.47 256.91M440.01 259.15L438.47 261.39"/></g>
<g stroke="#ffa31a" fill="none" stroke-width="0.85" stroke-opacity="0.42"><path d="M419.05 202.94L424.65 202.94M421.85 200.14L421.85 205.74"/><path d="M419.87 201.74L425.47 201.74M422.67 198.94L422.67 204.54"/><path d="M419.59 201.85L425.19 201.85M422.39 199.05L422.39 204.65"/><path d="M422.96 203.98L428.56 203.98M425.76 201.18L425.76 206.78"/><path d="M421.61 204.07L427.21 204.07M424.41 201.27L424.41 206.87"/><path d="M422.84 206.82L428.44 206.82M425.64 204.02L425.64 209.62"/><path d="M432.21 229.67L437.81 229.67M435.01 226.87L435.01 232.47"/><path d="M434.56 226.81L440.16 226.81M437.36 224.01L437.36 229.61"/><path d="M430.71 227.87L436.31 227.87M433.51 225.07L433.51 230.67"/><path d="M442.46 245.73L448.06 245.73M445.26 242.93L445.26 248.53"/><path d="M443.07 244.25L448.67 244.25M445.87 241.45L445.87 247.05"/><path d="M442.33 239.84L447.93 239.84M445.13 237.04L445.13 242.64"/><path d="M437.72 244.52L443.32 244.52M440.52 241.72L440.52 247.32"/><path d="M440.72 241.74L446.32 241.74M443.52 238.94L443.52 244.54"/><path d="M441.84 241.45L447.44 241.45M444.64 238.65L444.64 244.25"/><path d="M447.16 254.34L452.76 254.34M449.96 251.54L449.96 257.14"/><path d="M444.88 251.27L450.48 251.27M447.68 248.47L447.68 254.07"/><path d="M446.81 251.29L452.41 251.29M449.61 248.49L449.61 254.09"/><path d="M450.83 259.07L456.43 259.07M453.63 256.27L453.63 261.87"/><path d="M450.77 260.61L456.37 260.61M453.57 257.81L453.57 263.41"/><path d="M449.28 259.43L454.88 259.43M452.08 256.63L452.08 262.23"/><path d="M451.39 264.93L456.99 264.93M454.19 262.13L454.19 267.73"/><path d="M450.77 266.72L456.37 266.72M453.57 263.92L453.57 269.52"/><path d="M451.91 265.7L457.51 265.7M454.71 262.9L454.71 268.5"/></g>
<g stroke="#8c1f3f" fill="none" stroke-width="0.85" stroke-opacity="0.6"><path d="M436.94 211.76L436.94 208.96M436.94 211.76L439.18 213.3M436.94 211.76L434.7 213.3"/><path d="M436.44 211.22L436.44 208.42M436.44 211.22L438.68 212.76M436.44 211.22L434.2 212.76"/><path d="M437.04 209.47L437.04 206.67M437.04 209.47L439.28 211.01M437.04 209.47L434.8 211.01"/><path d="M448.37 235.73L448.37 232.93M448.37 235.73L450.61 237.27M448.37 235.73L446.13 237.27"/><path d="M445.97 238.07L445.97 235.27M445.97 238.07L448.21 239.61M445.97 238.07L443.73 239.61"/><path d="M446.84 236.65L446.84 233.85M446.84 236.65L449.08 238.19M446.84 236.65L444.6 238.19"/><path d="M450.86 242.28L450.86 239.48M450.86 242.28L453.1 243.82M450.86 242.28L448.62 243.82"/><path d="M451.7 245.31L451.7 242.51M451.7 245.31L453.94 246.85M451.7 245.31L449.46 246.85"/><path d="M450.51 245.5L450.51 242.7M450.51 245.5L452.75 247.04M450.51 245.5L448.27 247.04"/><path d="M446.06 234.49L446.06 231.69M446.06 234.49L448.3 236.03M446.06 234.49L443.82 236.03"/><path d="M447.86 235.3L447.86 232.5M447.86 235.3L450.1 236.84M447.86 235.3L445.62 236.84"/><path d="M448.06 234.48L448.06 231.68M448.06 234.48L450.3 236.02M448.06 234.48L445.82 236.02"/><path d="M454.07 243.85L454.07 241.05M454.07 243.85L456.31 245.39M454.07 243.85L451.83 245.39"/><path d="M453.88 244.72L453.88 241.92M453.88 244.72L456.12 246.26M453.88 244.72L451.64 246.26"/><path d="M453.63 246.24L453.63 243.44M453.63 246.24L455.87 247.78M453.63 246.24L451.39 247.78"/><path d="M462.47 251.71L462.47 248.91M462.47 251.71L464.71 253.25M462.47 251.71L460.23 253.25"/><path d="M465.93 252.98L465.93 250.18M465.93 252.98L468.17 254.52M465.93 252.98L463.69 254.52"/><path d="M461.82 255.26L461.82 252.46M461.82 255.26L464.06 256.8M461.82 255.26L459.58 256.8"/><path d="M471.08 260.63L471.08 257.83M471.08 260.63L473.32 262.17M471.08 260.63L468.84 262.17"/><path d="M468.18 260.8L468.18 258M468.18 260.8L470.42 262.34M468.18 260.8L465.94 262.34"/><path d="M471.04 261.56L471.04 258.76M471.04 261.56L473.28 263.1M471.04 261.56L468.8 263.1"/><path d="M472.91 267.17L472.91 264.37M472.91 267.17L475.15 268.71M472.91 267.17L470.67 268.71"/><path d="M475.12 265.67L475.12 262.87M475.12 265.67L477.36 267.21M475.12 265.67L472.88 267.21"/><path d="M473.38 265.68L473.38 262.88M473.38 265.68L475.62 267.22M473.38 265.68L471.14 267.22"/><path d="M472.19 278.5L472.19 275.7M472.19 278.5L474.43 280.04M472.19 278.5L469.95 280.04"/><path d="M470.85 276.35L470.85 273.55M470.85 276.35L473.09 277.89M470.85 276.35L468.61 277.89"/><path d="M470.53 274.19L470.53 271.39M470.53 274.19L472.77 275.73M470.53 274.19L468.29 275.73"/></g>
<g stroke="#2a7584" fill="none" stroke-width="0.85" stroke-opacity="0.6"><path d="M429.48 213.56L426.68 213.56M429.48 213.56L431.02 211.32M429.48 213.56L431.02 215.8"/><path d="M426.35 215.42L423.55 215.42M426.35 215.42L427.89 213.18M426.35 215.42L427.89 217.66"/><path d="M429.43 213.69L426.63 213.69M429.43 213.69L430.97 211.45M429.43 213.69L430.97 215.93"/><path d="M434.02 214.52L431.22 214.52M434.02 214.52L435.56 212.28M434.02 214.52L435.56 216.76"/><path d="M434.24 214.16L431.44 214.16M434.24 214.16L435.78 211.92M434.24 214.16L435.78 216.4"/><path d="M436.71 214.93L433.91 214.93M436.71 214.93L438.25 212.69M436.71 214.93L438.25 217.17"/><path d="M438.16 216.78L435.36 216.78M438.16 216.78L439.7 214.54M438.16 216.78L439.7 219.02"/><path d="M437.94 217.33L435.14 217.33M437.94 217.33L439.48 215.09M437.94 217.33L439.48 219.57"/><path d="M438.97 215.99L436.17 215.99M438.97 215.99L440.51 213.75M438.97 215.99L440.51 218.23"/><path d="M444.92 225.15L442.12 225.15M444.92 225.15L446.46 222.91M444.92 225.15L446.46 227.39"/><path d="M445.26 222.3L442.46 222.3M445.26 222.3L446.8 220.06M445.26 222.3L446.8 224.54"/><path d="M447.05 222.51L444.25 222.51M447.05 222.51L448.59 220.27M447.05 222.51L448.59 224.75"/><path d="M447.89 231.24L445.09 231.24M447.89 231.24L449.43 229M447.89 231.24L449.43 233.48"/><path d="M448.11 229.95L445.31 229.95M448.11 229.95L449.65 227.71M448.11 229.95L449.65 232.19"/><path d="M449.46 230.36L446.66 230.36M449.46 230.36L451 228.12M449.46 230.36L451 232.6"/><path d="M451.96 233.59L449.16 233.59M451.96 233.59L453.5 231.35M451.96 233.59L453.5 235.83"/><path d="M452.15 235.48L449.35 235.48M452.15 235.48L453.69 233.24M452.15 235.48L453.69 237.72"/><path d="M452.01 233.57L449.21 233.57M452.01 233.57L453.55 231.33M452.01 233.57L453.55 235.81"/><path d="M457.44 238.49L454.64 238.49M457.44 238.49L458.98 236.25M457.44 238.49L458.98 240.73"/><path d="M456.84 240.55L454.04 240.55M456.84 240.55L458.38 238.31M456.84 240.55L458.38 242.79"/><path d="M455.03 237.54L452.23 237.54M455.03 237.54L456.57 235.3M455.03 237.54L456.57 239.78"/><path d="M451.7 233.44L448.9 233.44M451.7 233.44L453.24 231.2M451.7 233.44L453.24 235.68"/><path d="M452.26 232.78L449.46 232.78M452.26 232.78L453.8 230.54M452.26 232.78L453.8 235.02"/><path d="M452.53 234.23L449.73 234.23M452.53 234.23L454.07 231.99M452.53 234.23L454.07 236.47"/><path d="M459.34 262.07L456.54 262.07M459.34 262.07L460.88 259.83M459.34 262.07L460.88 264.31"/><path d="M460.69 259.88L457.89 259.88M460.69 259.88L462.23 257.64M460.69 259.88L462.23 262.12"/><path d="M460.15 262.57L457.35 262.57M460.15 262.57L461.69 260.33M460.15 262.57L461.69 264.81"/><path d="M466.98 270.53L464.18 270.53M466.98 270.53L468.52 268.29M466.98 270.53L468.52 272.77"/><path d="M465.99 272.35L463.19 272.35M465.99 272.35L467.53 270.11M465.99 272.35L467.53 274.59"/><path d="M465.71 271.94L462.91 271.94M465.71 271.94L467.25 269.7M465.71 271.94L467.25 274.18"/><path d="M462.9 270.75L460.1 270.75M462.9 270.75L464.44 268.51M462.9 270.75L464.44 272.99"/><path d="M463.47 269.39L460.67 269.39M463.47 269.39L465.01 267.15M463.47 269.39L465.01 271.63"/><path d="M463.84 269L461.04 269M463.84 269L465.38 266.76M463.84 269L465.38 271.24"/><path d="M472.02 274.22L469.22 274.22M472.02 274.22L473.56 271.98M472.02 274.22L473.56 276.46"/><path d="M470.46 272.76L467.66 272.76M470.46 272.76L472 270.52M470.46 272.76L472 275"/><path d="M470.68 274.86L467.88 274.86M470.68 274.86L472.22 272.62M470.68 274.86L472.22 277.1"/></g>
<g stroke="#ff69b4" fill="none" stroke-width="0.85" stroke-opacity="0.6"><path d="M447.77 220.63L447.77 223.43M447.77 220.63L450.01 219.09M447.77 220.63L445.53 219.09"/><path d="M448.82 217.51L448.82 220.31M448.82 217.51L451.06 215.97M448.82 217.51L446.58 215.97"/><path d="M448.94 217.5L448.94 220.3M448.94 217.5L451.18 215.96M448.94 217.5L446.7 215.96"/><path d="M458.09 245.92L458.09 248.72M458.09 245.92L460.33 244.38M458.09 245.92L455.85 244.38"/><path d="M458.19 247.08L458.19 249.88M458.19 247.08L460.43 245.54M458.19 247.08L455.95 245.54"/><path d="M457.59 246.2L457.59 249M457.59 246.2L459.83 244.66M457.59 246.2L455.35 244.66"/><path d="M470.42 258.21L470.42 261.01M470.42 258.21L472.66 256.67M470.42 258.21L468.18 256.67"/><path d="M470.82 256.87L470.82 259.67M470.82 256.87L473.06 255.33M470.82 256.87L468.58 255.33"/><path d="M469.9 256.54L469.9 259.34M469.9 256.54L472.14 255M469.9 256.54L467.66 255"/><path d="M477.76 267.79L477.76 270.59M477.76 267.79L480 266.25M477.76 267.79L475.52 266.25"/><path d="M477.08 268.41L477.08 271.21M477.08 268.41L479.32 266.87M477.08 268.41L474.84 266.87"/><path d="M476.78 268.22L476.78 271.02M476.78 268.22L479.02 266.68M476.78 268.22L474.54 266.68"/><path d="M482.86 274.49L482.86 277.29M482.86 274.49L485.1 272.95M482.86 274.49L480.62 272.95"/><path d="M480.79 275.52L480.79 278.32M480.79 275.52L483.03 273.98M480.79 275.52L478.55 273.98"/><path d="M481.18 275.71L481.18 278.51M481.18 275.71L483.42 274.17M481.18 275.71L478.94 274.17"/><path d="M483.58 284.19L483.58 286.99M483.58 284.19L485.82 282.65M483.58 284.19L481.34 282.65"/><path d="M481.46 283.12L481.46 285.92M481.46 283.12L483.7 281.58M481.46 283.12L479.22 281.58"/><path d="M481.76 283.37L481.76 286.17M481.76 283.37L484 281.83M481.76 283.37L479.52 281.83"/></g>
<g stroke="#3ecc3e" fill="none" stroke-width="0.85" stroke-opacity="0.6"><path d="M440.83 210.4L445.83 215.4M440.83 215.4L445.83 210.4"/><path d="M438.91 211.15L443.91 216.15M438.91 216.15L443.91 211.15"/><path d="M440.08 212.69L445.08 217.69M440.08 217.69L445.08 212.69"/><path d="M450.94 246.42L455.94 251.42M450.94 251.42L455.94 246.42"/><path d="M448.97 246.91L453.97 251.91M448.97 251.91L453.97 246.91"/><path d="M449.95 247.52L454.95 252.52M449.95 252.52L454.95 247.52"/><path d="M455.6 261.38L460.6 266.38M455.6 266.38L460.6 261.38"/><path d="M456.13 267.28L461.13 272.28M456.13 272.28L461.13 267.28"/><path d="M457.26 264.47L462.26 269.47M457.26 269.47L462.26 264.47"/><path d="M465.76 270.6L470.76 275.6M465.76 275.6L470.76 270.6"/><path d="M465.25 269.38L470.25 274.38M465.25 274.38L470.25 269.38"/><path d="M464.79 270.24L469.79 275.24M464.79 275.24L469.79 270.24"/><path d="M462.63 277.96L467.63 282.96M462.63 282.96L467.63 277.96"/><path d="M463.57 280.46L468.57 285.46M463.57 285.46L468.57 280.46"/><path d="M464.18 279.89L469.18 284.89M464.18 284.89L469.18 279.89"/><path d="M475.91 281.1L480.91 286.1M475.91 286.1L480.91 281.1"/><path d="M475.61 279.25L480.61 284.25M475.61 284.25L480.61 279.25"/><path d="M477.65 278.06L482.65 283.06M477.65 283.06L482.65 278.06"/><path d="M459.82 278.75L464.82 283.75M459.82 283.75L464.82 278.75"/><path d="M461.53 277.88L466.53 282.88M461.53 282.88L466.53 277.88"/><path d="M459.94 277.61L464.94 282.61M459.94 282.61L464.94 277.61"/></g>
<g stroke="#ffcc3a" fill="none" stroke-width="0.85" stroke-opacity="0.55"><path d="M428.36 230.67L431.16 230.67M428.36 230.67L426.82 228.43M428.36 230.67L426.82 232.91"/><path d="M429.93 233.97L432.73 233.97M429.93 233.97L428.39 231.73M429.93 233.97L428.39 236.21"/><path d="M430.83 232.43L433.63 232.43M430.83 232.43L429.29 230.19M430.83 232.43L429.29 234.67"/><path d="M434.98 236.69L437.78 236.69M434.98 236.69L433.44 234.45M434.98 236.69L433.44 238.93"/><path d="M430.09 237.43L432.89 237.43M430.09 237.43L428.55 235.19M430.09 237.43L428.55 239.67"/><path d="M432.63 239.75L435.43 239.75M432.63 239.75L431.09 237.51M432.63 239.75L431.09 241.99"/><path d="M439.01 244.16L441.81 244.16M439.01 244.16L437.47 241.92M439.01 244.16L437.47 246.4"/><path d="M439.49 248.21L442.29 248.21M439.49 248.21L437.95 245.97M439.49 248.21L437.95 250.45"/><path d="M437.19 246.53L439.99 246.53M437.19 246.53L435.65 244.29M437.19 246.53L435.65 248.77"/><path d="M442.42 250.13L445.22 250.13M442.42 250.13L440.88 247.89M442.42 250.13L440.88 252.37"/><path d="M438.36 250.21L441.16 250.21M438.36 250.21L436.82 247.97M438.36 250.21L436.82 252.45"/><path d="M437.1 250.68L439.9 250.68M437.1 250.68L435.56 248.44M437.1 250.68L435.56 252.92"/><path d="M431.87 226.48L434.67 226.48M431.87 226.48L430.33 224.24M431.87 226.48L430.33 228.72"/><path d="M432.52 224.54L435.32 224.54M432.52 224.54L430.98 222.3M432.52 224.54L430.98 226.78"/><path d="M433.86 224.6L436.66 224.6M433.86 224.6L432.32 222.36M433.86 224.6L432.32 226.84"/><path d="M428.26 217.79L431.06 217.79M428.26 217.79L426.72 215.55M428.26 217.79L426.72 220.03"/><path d="M427.54 218.87L430.34 218.87M427.54 218.87L426 216.63M427.54 218.87L426 221.11"/><path d="M427.08 219.11L429.88 219.11M427.08 219.11L425.54 216.87M427.08 219.11L425.54 221.35"/><path d="M437.96 253.46L440.76 253.46M437.96 253.46L436.42 251.22M437.96 253.46L436.42 255.7"/><path d="M441.12 255.89L443.92 255.89M441.12 255.89L439.58 253.65M441.12 255.89L439.58 258.13"/><path d="M438.96 252.05L441.76 252.05M438.96 252.05L437.42 249.81M438.96 252.05L437.42 254.29"/><path d="M442.8 257.73L445.6 257.73M442.8 257.73L441.26 255.49M442.8 257.73L441.26 259.97"/><path d="M443.14 256.89L445.94 256.89M443.14 256.89L441.6 254.65M443.14 256.89L441.6 259.13"/><path d="M445.21 259.37L448.01 259.37M445.21 259.37L443.67 257.13M445.21 259.37L443.67 261.61"/><path d="M438.06 234.71L440.86 234.71M438.06 234.71L436.52 232.47M438.06 234.71L436.52 236.95"/><path d="M437.13 235.75L439.93 235.75M437.13 235.75L435.59 233.51M437.13 235.75L435.59 237.99"/><path d="M435.02 237.26L437.82 237.26M435.02 237.26L433.48 235.02M435.02 237.26L433.48 239.5"/><path d="M445.14 249.34L447.94 249.34M445.14 249.34L443.6 247.1M445.14 249.34L443.6 251.58"/><path d="M447.01 251.09L449.81 251.09M447.01 251.09L445.47 248.85M447.01 251.09L445.47 253.33"/><path d="M446.22 251.7L449.02 251.7M446.22 251.7L444.68 249.46M446.22 251.7L444.68 253.94"/><path d="M425.03 210.25L427.83 210.25M425.03 210.25L423.49 208.01M425.03 210.25L423.49 212.49"/><path d="M423.48 213.43L426.28 213.43M423.48 213.43L421.94 211.19M423.48 213.43L421.94 215.67"/><path d="M422.94 212.07L425.74 212.07M422.94 212.07L421.4 209.83M422.94 212.07L421.4 214.31"/><path d="M429.58 246.04L432.38 246.04M429.58 246.04L428.04 243.8M429.58 246.04L428.04 248.28"/><path d="M430.84 245.28L433.64 245.28M430.84 245.28L429.3 243.04M430.84 245.28L429.3 247.52"/><path d="M428.76 245.3L431.56 245.3M428.76 245.3L427.22 243.06M428.76 245.3L427.22 247.54"/><path d="M435.76 253.79L438.56 253.79M435.76 253.79L434.22 251.55M435.76 253.79L434.22 256.03"/><path d="M436.92 254.71L439.72 254.71M436.92 254.71L435.38 252.47M436.92 254.71L435.38 256.95"/><path d="M433.96 255.79L436.76 255.79M433.96 255.79L432.42 253.55M433.96 255.79L432.42 258.03"/></g>
<g stroke="#ffa31a" fill="none" stroke-width="0.85" stroke-opacity="0.55"><path d="M442.86 256.85L448.46 256.85M445.66 254.05L445.66 259.65"/><path d="M441.08 255.99L446.68 255.99M443.88 253.19L443.88 258.79"/><path d="M441.89 254.65L447.49 254.65M444.69 251.85L444.69 257.45"/></g>
<g stroke="#8c1f3f" fill="none" stroke-width="0.85" stroke-opacity="0.55"><path d="M455.34 261.02L455.34 258.22M455.34 261.02L457.58 262.56M455.34 261.02L453.1 262.56"/><path d="M457.81 258.35L457.81 255.55M457.81 258.35L460.05 259.89M457.81 258.35L455.57 259.89"/><path d="M459.57 257.84L459.57 255.04M459.57 257.84L461.81 259.38M459.57 257.84L457.33 259.38"/><path d="M462.73 264.11L462.73 261.31M462.73 264.11L464.97 265.65M462.73 264.11L460.49 265.65"/><path d="M462.29 265.43L462.29 262.63M462.29 265.43L464.53 266.97M462.29 265.43L460.05 266.97"/><path d="M462.71 266.27L462.71 263.47M462.71 266.27L464.95 267.81M462.71 266.27L460.47 267.81"/><path d="M464.07 267.42L464.07 264.62M464.07 267.42L466.31 268.96M464.07 267.42L461.83 268.96"/><path d="M464.59 271.04L464.59 268.24M464.59 271.04L466.83 272.58M464.59 271.04L462.35 272.58"/><path d="M466.61 270.58L466.61 267.78M466.61 270.58L468.85 272.12M466.61 270.58L464.37 272.12"/></g>
<g stroke="#2a7584" fill="none" stroke-width="0.85" stroke-opacity="0.55"><path d="M453.18 242.25L450.38 242.25M453.18 242.25L454.72 240.01M453.18 242.25L454.72 244.49"/><path d="M455.14 245.54L452.34 245.54M455.14 245.54L456.68 243.3M455.14 245.54L456.68 247.78"/><path d="M455.16 246.51L452.36 246.51M455.16 246.51L456.7 244.27M455.16 246.51L456.7 248.75"/><path d="M459.77 250.35L456.97 250.35M459.77 250.35L461.31 248.11M459.77 250.35L461.31 252.59"/><path d="M458.78 252.21L455.98 252.21M458.78 252.21L460.32 249.97M458.78 252.21L460.32 254.45"/><path d="M460.11 251.9L457.31 251.9M460.11 251.9L461.65 249.66M460.11 251.9L461.65 254.14"/><path d="M471.18 275.64L468.38 275.64M471.18 275.64L472.72 273.4M471.18 275.64L472.72 277.88"/><path d="M468.17 274.61L465.37 274.61M468.17 274.61L469.71 272.37M468.17 274.61L469.71 276.85"/><path d="M467.5 276.74L464.7 276.74M467.5 276.74L469.04 274.5M467.5 276.74L469.04 278.98"/></g>
<g stroke="#3ecc3e" fill="none" stroke-width="0.85" stroke-opacity="0.55"><path d="M453.3 259.28L458.3 264.28M453.3 264.28L458.3 259.28"/><path d="M453.06 259.58L458.06 264.58M453.06 264.58L458.06 259.58"/><path d="M449.87 254.92L454.87 259.92M449.87 259.92L454.87 254.92"/><path d="M470.74 282.66L475.74 287.66M470.74 287.66L475.74 282.66"/><path d="M467.42 279.07L472.42 284.07M467.42 284.07L472.42 279.07"/><path d="M465.71 283.4L470.71 288.4M465.71 288.4L470.71 283.4"/></g>
<g stroke="#ff69b4" fill="none" stroke-width="0.85" stroke-opacity="0.55"><path d="M468.1 261.55L468.1 264.35M468.1 261.55L470.34 260.01M468.1 261.55L465.86 260.01"/><path d="M473.22 262.2L473.22 265M473.22 262.2L475.46 260.66M473.22 262.2L470.98 260.66"/><path d="M473.06 261.82L473.06 264.62M473.06 261.82L475.3 260.28M473.06 261.82L470.82 260.28"/><path d="M479.35 274.56L479.35 277.36M479.35 274.56L481.59 273.02M479.35 274.56L477.11 273.02"/><path d="M474.09 276.38L474.09 279.18M474.09 276.38L476.33 274.84M474.09 276.38L471.85 274.84"/><path d="M478 275.92L478 278.72M478 275.92L480.24 274.38M478 275.92L475.76 274.38"/></g>
<g stroke="#993399" fill="none" stroke-width="1.6" stroke-opacity="0.85"><path d="M448.6 222.5L454.4 222.5"/><path d="M459.6 240.4L465.4 240.4"/><path d="M466.3 250.6L472.1 250.6"/><path d="M470.3 256.6L476.1 256.6"/><path d="M474.2 265.6L480 265.6"/><path d="M476.9 269.6L482.7 269.6"/><path d="M479.6 273.2L485.4 273.2"/><path d="M482.9 279.8L488.7 279.8"/><path d="M485.5 287.1L491.3 287.1"/></g>
<g stroke="#2020d8" fill="none" stroke-width="1.5" stroke-opacity="0.75"><path d="M454 217.9L454 224.1"/><path d="M455.5 218.9L455.5 225.1"/><path d="M456.5 219.9L456.5 226.1"/><path d="M471.2 284L471.2 290.2"/><path d="M490.4 284L490.4 290.2"/><path d="M491.8 286.4L491.8 292.6"/></g>
<path d="M76.6 293.5V298.1M130.2 293.5V298.1M60.46 293.5V296.2M64.71 293.5V296.2M68.3 293.5V296.2M71.41 293.5V296.2M74.15 293.5V296.2M92.74 293.5V296.2M102.17 293.5V296.2M108.87 293.5V296.2M114.06 293.5V296.2M118.31 293.5V296.2M121.9 293.5V296.2M125.01 293.5V296.2M127.75 293.5V296.2M146.34 293.5V296.2M155.77 293.5V296.2M56.5 290H51.9M56.5 248.5H51.9M56.5 207H51.9M56.5 291.9H53.8M56.5 277.51H53.8M56.5 270.2H53.8M56.5 265.01H53.8M56.5 260.99H53.8M56.5 257.71H53.8M56.5 254.93H53.8M56.5 252.52H53.8M56.5 250.4H53.8M56.5 236.01H53.8M56.5 228.7H53.8M56.5 223.51H53.8M56.5 219.49H53.8M56.5 216.21H53.8M56.5 213.43H53.8M56.5 211.02H53.8M56.5 208.9H53.8M56.5 194.51H53.8M56.5 187.2H53.8" stroke="#000" stroke-width="0.9" fill="none"/>
<rect x="56.5" y="183.5" width="104" height="110" fill="none" stroke="#000" stroke-width="1"/>
<text x="67.52" y="311.5" font-size="10.8" textLength="12.8" lengthAdjust="spacingAndGlyphs" stroke="#000" stroke-width="0.22">10</text>
<text x="81.12" y="307.5" font-size="8.2" textLength="4.56" lengthAdjust="spacingAndGlyphs" stroke="#000" stroke-width="0.22">3</text>
<text x="121.12" y="311.5" font-size="10.8" textLength="12.8" lengthAdjust="spacingAndGlyphs" stroke="#000" stroke-width="0.22">10</text>
<text x="134.72" y="307.5" font-size="8.2" textLength="4.56" lengthAdjust="spacingAndGlyphs" stroke="#000" stroke-width="0.22">4</text>
<text x="27.14" y="293.6" font-size="10.8" textLength="12.8" lengthAdjust="spacingAndGlyphs" stroke="#000" stroke-width="0.22">10</text>
<text x="40.74" y="289.6" font-size="8.2" textLength="4.56" lengthAdjust="spacingAndGlyphs" stroke="#000" stroke-width="0.22">2</text>
<text x="27.14" y="252.1" font-size="10.8" textLength="12.8" lengthAdjust="spacingAndGlyphs" stroke="#000" stroke-width="0.22">10</text>
<text x="40.74" y="248.1" font-size="8.2" textLength="4.56" lengthAdjust="spacingAndGlyphs" stroke="#000" stroke-width="0.22">3</text>
<text x="27.14" y="210.6" font-size="10.8" textLength="12.8" lengthAdjust="spacingAndGlyphs" stroke="#000" stroke-width="0.22">10</text>
<text x="40.74" y="206.6" font-size="8.2" textLength="4.56" lengthAdjust="spacingAndGlyphs" stroke="#000" stroke-width="0.22">4</text>
<path d="M242.7 293.5V298.1M278.6 293.5V298.1M314.5 293.5V298.1M217.61 293.5V296.2M223.93 293.5V296.2M228.41 293.5V296.2M231.89 293.5V296.2M234.74 293.5V296.2M237.14 293.5V296.2M239.22 293.5V296.2M241.06 293.5V296.2M253.51 293.5V296.2M259.83 293.5V296.2M264.31 293.5V296.2M267.79 293.5V296.2M270.64 293.5V296.2M273.04 293.5V296.2M275.12 293.5V296.2M276.96 293.5V296.2M289.41 293.5V296.2M295.73 293.5V296.2M300.21 293.5V296.2M303.69 293.5V296.2M306.54 293.5V296.2M308.94 293.5V296.2M311.02 293.5V296.2M312.86 293.5V296.2M212.5 278.7H207.9M212.5 253.3H207.9M212.5 227.9H207.9M212.5 202.5H207.9M212.5 291.98H209.8M212.5 288.81H209.8M212.5 286.35H209.8M212.5 284.33H209.8M212.5 282.63H209.8M212.5 281.16H209.8M212.5 279.86H209.8M212.5 271.05H209.8M212.5 266.58H209.8M212.5 263.41H209.8M212.5 260.95H209.8M212.5 258.93H209.8M212.5 257.23H209.8M212.5 255.76H209.8M212.5 254.46H209.8M212.5 245.65H209.8M212.5 241.18H209.8M212.5 238.01H209.8M212.5 235.55H209.8M212.5 233.53H209.8M212.5 231.83H209.8M212.5 230.36H209.8M212.5 229.06H209.8M212.5 220.25H209.8M212.5 215.78H209.8M212.5 212.61H209.8M212.5 210.15H209.8M212.5 208.13H209.8M212.5 206.43H209.8M212.5 204.96H209.8M212.5 203.66H209.8M212.5 194.85H209.8M212.5 190.38H209.8M212.5 187.21H209.8M212.5 184.75H209.8" stroke="#000" stroke-width="0.9" fill="none"/>
<rect x="212.5" y="183.5" width="104" height="110" fill="none" stroke="#000" stroke-width="1"/>
<text x="233.62" y="311.5" font-size="10.8" textLength="12.8" lengthAdjust="spacingAndGlyphs" stroke="#000" stroke-width="0.22">10</text>
<text x="247.22" y="307.5" font-size="8.2" textLength="4.56" lengthAdjust="spacingAndGlyphs" stroke="#000" stroke-width="0.22">1</text>
<text x="269.52" y="311.5" font-size="10.8" textLength="12.8" lengthAdjust="spacingAndGlyphs" stroke="#000" stroke-width="0.22">10</text>
<text x="283.12" y="307.5" font-size="8.2" textLength="4.56" lengthAdjust="spacingAndGlyphs" stroke="#000" stroke-width="0.22">2</text>
<text x="305.42" y="311.5" font-size="10.8" textLength="12.8" lengthAdjust="spacingAndGlyphs" stroke="#000" stroke-width="0.22">10</text>
<text x="319.02" y="307.5" font-size="8.2" textLength="4.56" lengthAdjust="spacingAndGlyphs" stroke="#000" stroke-width="0.22">3</text>
<text x="183.14" y="282.3" font-size="10.8" textLength="12.8" lengthAdjust="spacingAndGlyphs" stroke="#000" stroke-width="0.22">10</text>
<text x="196.74" y="278.3" font-size="8.2" textLength="4.56" lengthAdjust="spacingAndGlyphs" stroke="#000" stroke-width="0.22">1</text>
<text x="183.14" y="256.9" font-size="10.8" textLength="12.8" lengthAdjust="spacingAndGlyphs" stroke="#000" stroke-width="0.22">10</text>
<text x="196.74" y="252.9" font-size="8.2" textLength="4.56" lengthAdjust="spacingAndGlyphs" stroke="#000" stroke-width="0.22">2</text>
<text x="183.14" y="231.5" font-size="10.8" textLength="12.8" lengthAdjust="spacingAndGlyphs" stroke="#000" stroke-width="0.22">10</text>
<text x="196.74" y="227.5" font-size="8.2" textLength="4.56" lengthAdjust="spacingAndGlyphs" stroke="#000" stroke-width="0.22">3</text>
<text x="183.14" y="206.1" font-size="10.8" textLength="12.8" lengthAdjust="spacingAndGlyphs" stroke="#000" stroke-width="0.22">10</text>
<text x="196.74" y="202.1" font-size="8.2" textLength="4.56" lengthAdjust="spacingAndGlyphs" stroke="#000" stroke-width="0.22">4</text>
<text x="21" y="238.4" font-size="10.8" text-anchor="middle" textLength="60.6" lengthAdjust="spacingAndGlyphs" transform="rotate(-90 21 238.4)" stroke="#000" stroke-width="0.22">Out-Degree</text>
<text x="176.4" y="238.5" font-size="10.8" text-anchor="middle" textLength="52.4" lengthAdjust="spacingAndGlyphs" transform="rotate(-90 176.4 238.5)" stroke="#000" stroke-width="0.22">In-Degree</text>
<text x="81.4" y="328.3" font-size="10.8" textLength="55.2" lengthAdjust="spacingAndGlyphs" stroke="#000" stroke-width="0.22">Population</text>
<text x="223.6" y="328.3" font-size="10.8" textLength="82.4" lengthAdjust="spacingAndGlyphs" stroke="#000" stroke-width="0.22">Number of POIs</text>
<g fill="#f2502a" fill-opacity="0.3"><circle cx="119.63" cy="247" r="1.35"/><circle cx="121.74" cy="231.6" r="1.35"/><circle cx="112.24" cy="249.71" r="1.35"/><circle cx="99.83" cy="259.44" r="1.35"/><circle cx="111.4" cy="255.08" r="1.35"/><circle cx="97.58" cy="260.85" r="1.35"/><circle cx="125.66" cy="249" r="1.35"/><circle cx="156.15" cy="202.05" r="1.35"/><circle cx="108.85" cy="254.05" r="1.35"/><circle cx="106.83" cy="256.58" r="1.35"/><circle cx="116.47" cy="215.75" r="1.35"/><circle cx="122.99" cy="229.35" r="1.35"/><circle cx="114.97" cy="236.74" r="1.35"/><circle cx="99.98" cy="260.92" r="1.35"/><circle cx="102.6" cy="232.73" r="1.35"/><circle cx="147.21" cy="231.49" r="1.35"/><circle cx="92.17" cy="267.93" r="1.35"/><circle cx="96.56" cy="241.82" r="1.35"/><circle cx="68.23" cy="265.26" r="1.35"/><circle cx="90" cy="264.12" r="1.35"/><circle cx="82.22" cy="275.84" r="1.35"/><circle cx="104.27" cy="241.21" r="1.35"/><circle cx="93.37" cy="266.4" r="1.35"/><circle cx="116.7" cy="228.66" r="1.35"/><circle cx="118.98" cy="241.42" r="1.35"/><circle cx="109.02" cy="241.04" r="1.35"/><circle cx="90.25" cy="268.03" r="1.35"/><circle cx="113.32" cy="251.53" r="1.35"/><circle cx="125.01" cy="252.83" r="1.35"/><circle cx="111.33" cy="235.93" r="1.35"/><circle cx="97.59" cy="256.05" r="1.35"/><circle cx="105.78" cy="243.6" r="1.35"/><circle cx="108.33" cy="255.33" r="1.35"/><circle cx="101.3" cy="245.81" r="1.35"/><circle cx="128.88" cy="221.13" r="1.35"/><circle cx="106.3" cy="250.28" r="1.35"/><circle cx="109.33" cy="238.41" r="1.35"/><circle cx="123.93" cy="222.38" r="1.35"/><circle cx="106.41" cy="246.16" r="1.35"/><circle cx="103.59" cy="234.73" r="1.35"/><circle cx="109.33" cy="234.23" r="1.35"/><circle cx="113.18" cy="239.2" r="1.35"/><circle cx="103.18" cy="255.34" r="1.35"/><circle cx="114.39" cy="239.9" r="1.35"/><circle cx="127.91" cy="210.64" r="1.35"/><circle cx="97.44" cy="256.23" r="1.35"/><circle cx="131.36" cy="229.88" r="1.35"/><circle cx="118.4" cy="242.1" r="1.35"/><circle cx="107.64" cy="248.36" r="1.35"/><circle cx="142.17" cy="202.76" r="1.35"/><circle cx="129.06" cy="230.94" r="1.35"/><circle cx="100.18" cy="252.15" r="1.35"/><circle cx="109.98" cy="235.98" r="1.35"/><circle cx="119.68" cy="228.49" r="1.35"/><circle cx="118.69" cy="249.78" r="1.35"/><circle cx="125.95" cy="230.7" r="1.35"/><circle cx="118.55" cy="247.35" r="1.35"/><circle cx="122.58" cy="228.17" r="1.35"/><circle cx="141.28" cy="220.11" r="1.35"/><circle cx="104.99" cy="246.61" r="1.35"/><circle cx="116.56" cy="237.74" r="1.35"/><circle cx="120.75" cy="256.8" r="1.35"/><circle cx="119.46" cy="242.81" r="1.35"/><circle cx="100.64" cy="252.34" r="1.35"/><circle cx="108.2" cy="247.69" r="1.35"/><circle cx="113.62" cy="245.35" r="1.35"/><circle cx="133.83" cy="230.83" r="1.35"/><circle cx="130.21" cy="219.61" r="1.35"/><circle cx="93.84" cy="248.78" r="1.35"/><circle cx="105.31" cy="249.14" r="1.35"/><circle cx="124.46" cy="230.52" r="1.35"/><circle cx="95.82" cy="263.17" r="1.35"/><circle cx="115.53" cy="252.11" r="1.35"/><circle cx="114.5" cy="244.28" r="1.35"/><circle cx="137.81" cy="222.84" r="1.35"/><circle cx="120.16" cy="225.28" r="1.35"/><circle cx="114.8" cy="248.89" r="1.35"/><circle cx="119.89" cy="254.25" r="1.35"/><circle cx="115.1" cy="247.71" r="1.35"/><circle cx="139.6" cy="215.85" r="1.35"/><circle cx="110.68" cy="247.07" r="1.35"/><circle cx="119.12" cy="252.33" r="1.35"/><circle cx="115.53" cy="231.99" r="1.35"/><circle cx="112.37" cy="242.81" r="1.35"/><circle cx="114.2" cy="245.9" r="1.35"/><circle cx="106.88" cy="256.58" r="1.35"/><circle cx="111.94" cy="240.36" r="1.35"/><circle cx="111.21" cy="247.85" r="1.35"/><circle cx="131.49" cy="220.09" r="1.35"/><circle cx="125.03" cy="230.84" r="1.35"/><circle cx="113.18" cy="241.72" r="1.35"/><circle cx="119.64" cy="225.5" r="1.35"/><circle cx="110.72" cy="245.45" r="1.35"/><circle cx="134.81" cy="226.76" r="1.35"/><circle cx="109.64" cy="238.17" r="1.35"/><circle cx="122.29" cy="230.63" r="1.35"/><circle cx="104.87" cy="258.1" r="1.35"/><circle cx="114.8" cy="231.52" r="1.35"/><circle cx="99" cy="260.3" r="1.35"/><circle cx="90.21" cy="258.92" r="1.35"/><circle cx="116.21" cy="249.72" r="1.35"/><circle cx="115.88" cy="260.65" r="1.35"/><circle cx="125.65" cy="247.19" r="1.35"/><circle cx="149.07" cy="201.08" r="1.35"/><circle cx="109.51" cy="253.63" r="1.35"/><circle cx="108.69" cy="248.98" r="1.35"/><circle cx="117.75" cy="238.75" r="1.35"/><circle cx="128.82" cy="239.42" r="1.35"/><circle cx="106.47" cy="238.54" r="1.35"/><circle cx="116.78" cy="248.38" r="1.35"/><circle cx="125.06" cy="229.27" r="1.35"/><circle cx="128.63" cy="238.38" r="1.35"/><circle cx="105.15" cy="253.51" r="1.35"/><circle cx="110.26" cy="240.12" r="1.35"/><circle cx="115.8" cy="242.48" r="1.35"/><circle cx="107.4" cy="255.93" r="1.35"/><circle cx="118.33" cy="237.51" r="1.35"/><circle cx="108.14" cy="252.89" r="1.35"/><circle cx="127.28" cy="222.57" r="1.35"/><circle cx="107.58" cy="230" r="1.35"/><circle cx="119.45" cy="244.02" r="1.35"/><circle cx="111.58" cy="250.96" r="1.35"/><circle cx="113.55" cy="243.83" r="1.35"/><circle cx="95.59" cy="263.06" r="1.35"/><circle cx="108.02" cy="257.93" r="1.35"/><circle cx="117.79" cy="233.69" r="1.35"/><circle cx="90.91" cy="261.31" r="1.35"/><circle cx="126.76" cy="226.14" r="1.35"/><circle cx="102.94" cy="264.94" r="1.35"/><circle cx="119.97" cy="222.93" r="1.35"/><circle cx="111.39" cy="255.58" r="1.35"/><circle cx="123.66" cy="225.54" r="1.35"/><circle cx="111.19" cy="235.25" r="1.35"/><circle cx="105.22" cy="263.05" r="1.35"/><circle cx="133.63" cy="219.33" r="1.35"/><circle cx="131.35" cy="211.07" r="1.35"/><circle cx="111.78" cy="241.24" r="1.35"/><circle cx="115.59" cy="248.59" r="1.35"/><circle cx="117.82" cy="248.45" r="1.35"/><circle cx="102.96" cy="250.43" r="1.35"/><circle cx="133.45" cy="224.04" r="1.35"/><circle cx="112.1" cy="250.52" r="1.35"/><circle cx="110.65" cy="239.94" r="1.35"/><circle cx="108.15" cy="251.68" r="1.35"/><circle cx="107.99" cy="248.39" r="1.35"/><circle cx="99.64" cy="253.14" r="1.35"/><circle cx="131.99" cy="217.6" r="1.35"/><circle cx="112.86" cy="243.87" r="1.35"/><circle cx="129.64" cy="224.89" r="1.35"/><circle cx="111.69" cy="239.49" r="1.35"/><circle cx="105.6" cy="247.51" r="1.35"/><circle cx="115.9" cy="249.87" r="1.35"/><circle cx="109.71" cy="248.69" r="1.35"/><circle cx="118.07" cy="245.41" r="1.35"/><circle cx="115.84" cy="250.73" r="1.35"/><circle cx="113.82" cy="247.48" r="1.35"/><circle cx="111.21" cy="265.46" r="1.35"/><circle cx="102.76" cy="247.08" r="1.35"/><circle cx="144.17" cy="215.74" r="1.35"/><circle cx="106.29" cy="247.71" r="1.35"/><circle cx="112.4" cy="260.42" r="1.35"/><circle cx="127" cy="242.81" r="1.35"/><circle cx="127.89" cy="209.05" r="1.35"/><circle cx="96.06" cy="253.24" r="1.35"/><circle cx="115.01" cy="246.84" r="1.35"/><circle cx="111.6" cy="251.75" r="1.35"/><circle cx="100.79" cy="263.28" r="1.35"/><circle cx="125.49" cy="228.61" r="1.35"/><circle cx="115.81" cy="244.07" r="1.35"/><circle cx="118.06" cy="243.35" r="1.35"/><circle cx="106.61" cy="249.51" r="1.35"/><circle cx="125.88" cy="238.01" r="1.35"/><circle cx="98.87" cy="238.54" r="1.35"/><circle cx="115.49" cy="246.03" r="1.35"/><circle cx="99.01" cy="249.38" r="1.35"/><circle cx="106.88" cy="258.5" r="1.35"/><circle cx="134.43" cy="217.26" r="1.35"/><circle cx="105.29" cy="243.71" r="1.35"/><circle cx="120.35" cy="238.3" r="1.35"/><circle cx="109.62" cy="238.69" r="1.35"/><circle cx="105.8" cy="242.93" r="1.35"/><circle cx="102.25" cy="240.99" r="1.35"/><circle cx="124" cy="230.65" r="1.35"/><circle cx="113.39" cy="247.14" r="1.35"/><circle cx="117.14" cy="247.68" r="1.35"/><circle cx="113.72" cy="241.03" r="1.35"/><circle cx="137.57" cy="225.22" r="1.35"/><circle cx="125.01" cy="229.93" r="1.35"/><circle cx="119.73" cy="234.8" r="1.35"/><circle cx="111.28" cy="250.17" r="1.35"/><circle cx="105.77" cy="260.63" r="1.35"/><circle cx="127.73" cy="223.69" r="1.35"/><circle cx="128.43" cy="223.78" r="1.35"/><circle cx="111.96" cy="242.82" r="1.35"/><circle cx="123.07" cy="232.67" r="1.35"/><circle cx="122.53" cy="224.45" r="1.35"/><circle cx="131.93" cy="231.3" r="1.35"/><circle cx="127.01" cy="223.96" r="1.35"/><circle cx="111.79" cy="248.6" r="1.35"/><circle cx="134.65" cy="211.67" r="1.35"/><circle cx="103.92" cy="256.41" r="1.35"/><circle cx="129.58" cy="228.2" r="1.35"/><circle cx="120.06" cy="231.5" r="1.35"/><circle cx="137.04" cy="234.53" r="1.35"/><circle cx="145.83" cy="209.98" r="1.35"/><circle cx="145.76" cy="222.66" r="1.35"/><circle cx="107.55" cy="257.77" r="1.35"/><circle cx="95.23" cy="256.91" r="1.35"/><circle cx="125.41" cy="225.9" r="1.35"/><circle cx="106.44" cy="254.31" r="1.35"/><circle cx="114.16" cy="242.37" r="1.35"/><circle cx="127.71" cy="227.22" r="1.35"/><circle cx="97.33" cy="257.95" r="1.35"/><circle cx="86.17" cy="256.69" r="1.35"/><circle cx="117.16" cy="236.47" r="1.35"/><circle cx="104.82" cy="232.3" r="1.35"/><circle cx="113.36" cy="246.05" r="1.35"/><circle cx="111.38" cy="238.4" r="1.35"/><circle cx="102.75" cy="248.08" r="1.35"/><circle cx="98.84" cy="256.87" r="1.35"/><circle cx="113.65" cy="244.83" r="1.35"/><circle cx="98.51" cy="246.36" r="1.35"/><circle cx="90.81" cy="252.08" r="1.35"/><circle cx="117.37" cy="228.7" r="1.35"/><circle cx="104.32" cy="234.44" r="1.35"/><circle cx="116.22" cy="230.87" r="1.35"/><circle cx="111.83" cy="258.68" r="1.35"/><circle cx="103.12" cy="244.6" r="1.35"/><circle cx="107.55" cy="255.01" r="1.35"/><circle cx="99.58" cy="245.72" r="1.35"/><circle cx="118.47" cy="239.72" r="1.35"/><circle cx="105.24" cy="248.86" r="1.35"/><circle cx="119.45" cy="235.41" r="1.35"/><circle cx="121.99" cy="238.22" r="1.35"/><circle cx="154.35" cy="212.93" r="1.35"/><circle cx="101.82" cy="257.27" r="1.35"/><circle cx="128.81" cy="226.66" r="1.35"/><circle cx="108.82" cy="239.02" r="1.35"/><circle cx="116.47" cy="244.49" r="1.35"/><circle cx="99.32" cy="256.1" r="1.35"/><circle cx="113.4" cy="250.13" r="1.35"/><circle cx="125.74" cy="228.57" r="1.35"/><circle cx="120.99" cy="249.85" r="1.35"/><circle cx="106.46" cy="232.59" r="1.35"/><circle cx="109.95" cy="243.83" r="1.35"/><circle cx="136.47" cy="224.95" r="1.35"/><circle cx="112.24" cy="240.82" r="1.35"/><circle cx="89.85" cy="261.71" r="1.35"/><circle cx="106.33" cy="248.13" r="1.35"/><circle cx="89.4" cy="256.94" r="1.35"/><circle cx="84.07" cy="276.31" r="1.35"/><circle cx="119.92" cy="257.31" r="1.35"/><circle cx="140.52" cy="222.81" r="1.35"/><circle cx="109.81" cy="236.71" r="1.35"/><circle cx="99.12" cy="250.69" r="1.35"/><circle cx="103.38" cy="250.16" r="1.35"/><circle cx="136.64" cy="225.87" r="1.35"/><circle cx="112.87" cy="235.89" r="1.35"/><circle cx="111.69" cy="238.37" r="1.35"/><circle cx="117.44" cy="246.11" r="1.35"/><circle cx="118.47" cy="244.79" r="1.35"/><circle cx="125.27" cy="226.13" r="1.35"/><circle cx="117.89" cy="227.66" r="1.35"/><circle cx="110.55" cy="231.93" r="1.35"/><circle cx="101.11" cy="250.04" r="1.35"/><circle cx="112.26" cy="223.93" r="1.35"/><circle cx="110.93" cy="252.13" r="1.35"/><circle cx="128.76" cy="219.96" r="1.35"/><circle cx="104.24" cy="257.16" r="1.35"/><circle cx="121.04" cy="250.93" r="1.35"/><circle cx="119.16" cy="246.79" r="1.35"/><circle cx="96.46" cy="251.16" r="1.35"/><circle cx="145.53" cy="214.78" r="1.35"/><circle cx="142.62" cy="220.6" r="1.35"/><circle cx="106.33" cy="243.83" r="1.35"/><circle cx="122.14" cy="224.41" r="1.35"/><circle cx="119.59" cy="234.81" r="1.35"/><circle cx="82.38" cy="262.76" r="1.35"/><circle cx="124.58" cy="243.44" r="1.35"/><circle cx="102.7" cy="232.98" r="1.35"/><circle cx="110.4" cy="236.07" r="1.35"/><circle cx="102.71" cy="252.12" r="1.35"/><circle cx="110.46" cy="243.89" r="1.35"/><circle cx="113.07" cy="244.52" r="1.35"/><circle cx="134.29" cy="221.9" r="1.35"/><circle cx="118.42" cy="235.18" r="1.35"/><circle cx="119.02" cy="246.62" r="1.35"/><circle cx="129.01" cy="206.14" r="1.35"/><circle cx="108.8" cy="247.78" r="1.35"/><circle cx="107.17" cy="243.18" r="1.35"/><circle cx="97.57" cy="261.43" r="1.35"/><circle cx="140.18" cy="214.9" r="1.35"/><circle cx="125.42" cy="221.14" r="1.35"/><circle cx="125.87" cy="223.07" r="1.35"/><circle cx="128.28" cy="233.25" r="1.35"/><circle cx="117.33" cy="241.44" r="1.35"/><circle cx="114.43" cy="235.43" r="1.35"/><circle cx="120.73" cy="252.81" r="1.35"/><circle cx="122.39" cy="253.39" r="1.35"/><circle cx="108.35" cy="235.16" r="1.35"/><circle cx="139.62" cy="216.25" r="1.35"/><circle cx="134.11" cy="242.16" r="1.35"/><circle cx="116.95" cy="245.76" r="1.35"/><circle cx="109.56" cy="248.92" r="1.35"/><circle cx="107.12" cy="247.77" r="1.35"/><circle cx="137.32" cy="211.24" r="1.35"/><circle cx="121.19" cy="232.11" r="1.35"/><circle cx="112.63" cy="238.58" r="1.35"/><circle cx="114.08" cy="248.59" r="1.35"/><circle cx="101.84" cy="251.94" r="1.35"/><circle cx="111.41" cy="240.92" r="1.35"/><circle cx="122.67" cy="221.59" r="1.35"/><circle cx="110.1" cy="245.88" r="1.35"/><circle cx="107.88" cy="240.77" r="1.35"/><circle cx="111.12" cy="243.57" r="1.35"/><circle cx="120.41" cy="244.23" r="1.35"/><circle cx="100.71" cy="260.04" r="1.35"/><circle cx="114.05" cy="246.48" r="1.35"/><circle cx="107.58" cy="252.32" r="1.35"/><circle cx="128.47" cy="226.46" r="1.35"/><circle cx="106.21" cy="249.51" r="1.35"/><circle cx="121.89" cy="230.47" r="1.35"/><circle cx="141.87" cy="217.86" r="1.35"/><circle cx="106.23" cy="240.91" r="1.35"/><circle cx="114.34" cy="253.64" r="1.35"/><circle cx="117.23" cy="238.72" r="1.35"/><circle cx="110.64" cy="239.02" r="1.35"/><circle cx="102.51" cy="250.37" r="1.35"/><circle cx="118.38" cy="231.06" r="1.35"/><circle cx="147.08" cy="206.7" r="1.35"/><circle cx="108.38" cy="241.8" r="1.35"/><circle cx="117.19" cy="248.7" r="1.35"/><circle cx="100.73" cy="249.73" r="1.35"/><circle cx="108.99" cy="227.19" r="1.35"/><circle cx="99.06" cy="252.04" r="1.35"/><circle cx="94.67" cy="245.45" r="1.35"/><circle cx="134.37" cy="219.02" r="1.35"/><circle cx="110.24" cy="255.67" r="1.35"/><circle cx="134.25" cy="225.31" r="1.35"/><circle cx="132.52" cy="209.44" r="1.35"/><circle cx="114.77" cy="234.31" r="1.35"/><circle cx="130.82" cy="239.27" r="1.35"/><circle cx="146.77" cy="208.46" r="1.35"/><circle cx="112.18" cy="244.06" r="1.35"/><circle cx="113.15" cy="252.41" r="1.35"/><circle cx="112.26" cy="265.93" r="1.35"/><circle cx="120.45" cy="246.46" r="1.35"/><circle cx="138.38" cy="216.18" r="1.35"/><circle cx="130.99" cy="226.31" r="1.35"/><circle cx="107.93" cy="254.28" r="1.35"/><circle cx="103.26" cy="248.44" r="1.35"/><circle cx="104.56" cy="242.99" r="1.35"/><circle cx="118.93" cy="237" r="1.35"/><circle cx="107.85" cy="240.33" r="1.35"/><circle cx="117.17" cy="237.93" r="1.35"/><circle cx="119.19" cy="237.09" r="1.35"/><circle cx="121.64" cy="254.51" r="1.35"/><circle cx="109.83" cy="239" r="1.35"/><circle cx="116.77" cy="237.83" r="1.35"/><circle cx="112.48" cy="242.21" r="1.35"/><circle cx="124.04" cy="234.78" r="1.35"/><circle cx="148.71" cy="212.83" r="1.35"/><circle cx="121.32" cy="229.47" r="1.35"/><circle cx="111.23" cy="237.71" r="1.35"/><circle cx="90.89" cy="252.96" r="1.35"/><circle cx="116.1" cy="231.36" r="1.35"/><circle cx="98.16" cy="264.41" r="1.35"/><circle cx="101" cy="256.84" r="1.35"/><circle cx="123.2" cy="222.68" r="1.35"/><circle cx="123.68" cy="227.91" r="1.35"/><circle cx="112.74" cy="243.69" r="1.35"/><circle cx="100.23" cy="261.81" r="1.35"/><circle cx="107.88" cy="243.48" r="1.35"/><circle cx="106.53" cy="248.06" r="1.35"/><circle cx="116.12" cy="223.34" r="1.35"/><circle cx="145.12" cy="197.11" r="1.35"/><circle cx="124.7" cy="244.63" r="1.35"/><circle cx="96.94" cy="241.32" r="1.35"/><circle cx="101.53" cy="252.82" r="1.35"/><circle cx="114.45" cy="243.46" r="1.35"/><circle cx="110.67" cy="242.34" r="1.35"/><circle cx="99.61" cy="250.74" r="1.35"/><circle cx="115.6" cy="239.68" r="1.35"/><circle cx="103.2" cy="253.95" r="1.35"/><circle cx="131.49" cy="221.84" r="1.35"/><circle cx="122.69" cy="215.51" r="1.35"/><circle cx="130.76" cy="222.06" r="1.35"/><circle cx="105.75" cy="243.5" r="1.35"/><circle cx="119.82" cy="230.62" r="1.35"/><circle cx="113.77" cy="244.29" r="1.35"/><circle cx="113.21" cy="248.62" r="1.35"/><circle cx="114.82" cy="249.13" r="1.35"/><circle cx="99.61" cy="253.53" r="1.35"/><circle cx="104.59" cy="260.73" r="1.35"/><circle cx="131.99" cy="232.55" r="1.35"/><circle cx="117.28" cy="248.55" r="1.35"/><circle cx="123.67" cy="243.72" r="1.35"/><circle cx="129.44" cy="223.55" r="1.35"/><circle cx="96.99" cy="259.33" r="1.35"/><circle cx="110.33" cy="253.47" r="1.35"/><circle cx="110.72" cy="233.39" r="1.35"/><circle cx="121.23" cy="235.85" r="1.35"/><circle cx="108.1" cy="243.79" r="1.35"/><circle cx="128.88" cy="222.16" r="1.35"/><circle cx="109.61" cy="231.26" r="1.35"/><circle cx="98.66" cy="251.05" r="1.35"/><circle cx="105.19" cy="251.6" r="1.35"/><circle cx="130.9" cy="231.2" r="1.35"/><circle cx="125.86" cy="237.7" r="1.35"/><circle cx="95.85" cy="261.44" r="1.35"/><circle cx="134.8" cy="217.2" r="1.35"/><circle cx="119.9" cy="228" r="1.35"/><circle cx="137.37" cy="219.66" r="1.35"/><circle cx="109.3" cy="245" r="1.35"/><circle cx="113.93" cy="247.51" r="1.35"/><circle cx="111.26" cy="260.75" r="1.35"/><circle cx="154.6" cy="196.62" r="1.35"/><circle cx="105.68" cy="237.81" r="1.35"/><circle cx="135.66" cy="210.23" r="1.35"/><circle cx="101.43" cy="242.88" r="1.35"/><circle cx="111.29" cy="234.27" r="1.35"/><circle cx="104.16" cy="264.63" r="1.35"/><circle cx="111.42" cy="246.89" r="1.35"/><circle cx="123.02" cy="218.35" r="1.35"/><circle cx="105.19" cy="257.65" r="1.35"/><circle cx="136.84" cy="227.94" r="1.35"/><circle cx="117.81" cy="234.54" r="1.35"/><circle cx="101.21" cy="250.15" r="1.35"/><circle cx="107.8" cy="245.86" r="1.35"/><circle cx="110.97" cy="247.92" r="1.35"/><circle cx="116.39" cy="245.08" r="1.35"/><circle cx="114.25" cy="252.32" r="1.35"/><circle cx="111.66" cy="255.47" r="1.35"/><circle cx="116.43" cy="249.93" r="1.35"/><circle cx="110.45" cy="258.15" r="1.35"/><circle cx="104.87" cy="258.07" r="1.35"/><circle cx="106.72" cy="236.35" r="1.35"/><circle cx="127.59" cy="225.73" r="1.35"/><circle cx="101.07" cy="259.17" r="1.35"/><circle cx="112.35" cy="240.4" r="1.35"/><circle cx="111.97" cy="252.42" r="1.35"/><circle cx="103.24" cy="250.72" r="1.35"/><circle cx="123.58" cy="223.06" r="1.35"/><circle cx="115.59" cy="253.19" r="1.35"/><circle cx="141.03" cy="217.95" r="1.35"/><circle cx="107.67" cy="250.99" r="1.35"/><circle cx="124.34" cy="238.83" r="1.35"/><circle cx="116.61" cy="248.63" r="1.35"/><circle cx="108.46" cy="251.21" r="1.35"/><circle cx="112.48" cy="221.65" r="1.35"/><circle cx="109.54" cy="240.9" r="1.35"/><circle cx="121.65" cy="229.41" r="1.35"/><circle cx="109.17" cy="238.54" r="1.35"/><circle cx="104.71" cy="254.09" r="1.35"/><circle cx="118.36" cy="247.85" r="1.35"/><circle cx="112.67" cy="239.13" r="1.35"/><circle cx="124.33" cy="220.35" r="1.35"/><circle cx="114.55" cy="259.57" r="1.35"/><circle cx="111.62" cy="240.6" r="1.35"/><circle cx="92.37" cy="254.96" r="1.35"/><circle cx="125.52" cy="231.33" r="1.35"/><circle cx="105.77" cy="254.96" r="1.35"/><circle cx="93.93" cy="257.96" r="1.35"/><circle cx="116.97" cy="245.79" r="1.35"/><circle cx="129.58" cy="220.32" r="1.35"/><circle cx="95.6" cy="254.15" r="1.35"/><circle cx="104.6" cy="254.04" r="1.35"/><circle cx="110.47" cy="252.83" r="1.35"/><circle cx="100.59" cy="251.21" r="1.35"/><circle cx="121.57" cy="236.56" r="1.35"/><circle cx="106.02" cy="250.02" r="1.35"/><circle cx="119.83" cy="260.85" r="1.35"/><circle cx="120.21" cy="228.75" r="1.35"/><circle cx="113.09" cy="255.42" r="1.35"/><circle cx="120.72" cy="234.07" r="1.35"/><circle cx="104.34" cy="251.6" r="1.35"/><circle cx="105.86" cy="257.51" r="1.35"/><circle cx="100.79" cy="264.69" r="1.35"/><circle cx="149.54" cy="213.89" r="1.35"/><circle cx="112.47" cy="246.65" r="1.35"/><circle cx="115.24" cy="235.24" r="1.35"/><circle cx="111.31" cy="240.16" r="1.35"/><circle cx="118.84" cy="241.19" r="1.35"/><circle cx="117.39" cy="243.45" r="1.35"/><circle cx="150.88" cy="213.58" r="1.35"/><circle cx="106.13" cy="254.49" r="1.35"/><circle cx="104.14" cy="262.46" r="1.35"/><circle cx="111.28" cy="258.62" r="1.35"/><circle cx="102.23" cy="256.55" r="1.35"/><circle cx="119.37" cy="222.71" r="1.35"/><circle cx="121.92" cy="222.63" r="1.35"/><circle cx="98.58" cy="246.23" r="1.35"/><circle cx="108.07" cy="262.86" r="1.35"/><circle cx="106.9" cy="242.29" r="1.35"/><circle cx="141.83" cy="222.13" r="1.35"/><circle cx="90.2" cy="273.69" r="1.35"/><circle cx="130.11" cy="239.49" r="1.35"/><circle cx="108.4" cy="257.22" r="1.35"/><circle cx="130.25" cy="223.03" r="1.35"/><circle cx="103.01" cy="252.41" r="1.35"/><circle cx="111.71" cy="245.31" r="1.35"/><circle cx="100.67" cy="258.38" r="1.35"/><circle cx="102.48" cy="250.04" r="1.35"/><circle cx="136.11" cy="217.15" r="1.35"/><circle cx="134.35" cy="233.83" r="1.35"/><circle cx="102.65" cy="239.35" r="1.35"/><circle cx="107" cy="252.09" r="1.35"/><circle cx="92.22" cy="258.06" r="1.35"/><circle cx="111.15" cy="246.85" r="1.35"/><circle cx="117.46" cy="245.69" r="1.35"/><circle cx="112.96" cy="242.64" r="1.35"/><circle cx="116.57" cy="246.08" r="1.35"/><circle cx="96.4" cy="247.29" r="1.35"/><circle cx="118.32" cy="247.13" r="1.35"/><circle cx="110.95" cy="239.98" r="1.35"/><circle cx="137.5" cy="221.48" r="1.35"/><circle cx="144.79" cy="209.44" r="1.35"/><circle cx="101.19" cy="233.04" r="1.35"/><circle cx="103.45" cy="246.94" r="1.35"/><circle cx="114.37" cy="243.56" r="1.35"/><circle cx="115.24" cy="254.56" r="1.35"/><circle cx="108.33" cy="250.88" r="1.35"/><circle cx="114.6" cy="243.64" r="1.35"/><circle cx="97.93" cy="247.18" r="1.35"/><circle cx="130.11" cy="236.94" r="1.35"/><circle cx="121.08" cy="250.34" r="1.35"/><circle cx="118.14" cy="237.66" r="1.35"/><circle cx="111.31" cy="243.02" r="1.35"/><circle cx="99.97" cy="243.07" r="1.35"/><circle cx="109.06" cy="255.41" r="1.35"/><circle cx="123.83" cy="255.32" r="1.35"/><circle cx="112.06" cy="250.59" r="1.35"/><circle cx="123.39" cy="242.9" r="1.35"/><circle cx="116.38" cy="244.22" r="1.35"/><circle cx="96.85" cy="252.22" r="1.35"/><circle cx="121.04" cy="246.17" r="1.35"/><circle cx="95.92" cy="251.01" r="1.35"/><circle cx="107.29" cy="247.57" r="1.35"/><circle cx="112.49" cy="246.18" r="1.35"/><circle cx="98.5" cy="267.14" r="1.35"/><circle cx="117.32" cy="242.04" r="1.35"/><circle cx="118.15" cy="240.86" r="1.35"/><circle cx="109.12" cy="240.59" r="1.35"/><circle cx="104.28" cy="241.24" r="1.35"/><circle cx="110.77" cy="246.13" r="1.35"/><circle cx="101.69" cy="249.31" r="1.35"/><circle cx="105.64" cy="239.56" r="1.35"/><circle cx="103.18" cy="242.67" r="1.35"/><circle cx="113.29" cy="238.4" r="1.35"/><circle cx="94.46" cy="247.09" r="1.35"/><circle cx="111.78" cy="232.39" r="1.35"/><circle cx="109.01" cy="232.88" r="1.35"/><circle cx="113.49" cy="244.2" r="1.35"/><circle cx="111.7" cy="248.21" r="1.35"/><circle cx="131.82" cy="240.21" r="1.35"/><circle cx="91.73" cy="253.31" r="1.35"/><circle cx="118.36" cy="231.06" r="1.35"/><circle cx="121.97" cy="241.33" r="1.35"/><circle cx="117.58" cy="236.08" r="1.35"/><circle cx="118.7" cy="233.85" r="1.35"/><circle cx="115.5" cy="255.66" r="1.35"/><circle cx="110.06" cy="243.34" r="1.35"/><circle cx="119.08" cy="226" r="1.35"/><circle cx="115.04" cy="229.03" r="1.35"/><circle cx="118.82" cy="239.66" r="1.35"/><circle cx="101.18" cy="258.98" r="1.35"/><circle cx="116.52" cy="226.9" r="1.35"/><circle cx="128.39" cy="217.19" r="1.35"/><circle cx="132.6" cy="226.14" r="1.35"/><circle cx="120.33" cy="240.15" r="1.35"/><circle cx="96.54" cy="255.62" r="1.35"/><circle cx="131.91" cy="227.69" r="1.35"/><circle cx="115.17" cy="245.83" r="1.35"/><circle cx="82.33" cy="261.19" r="1.35"/><circle cx="118.67" cy="234.02" r="1.35"/><circle cx="101.87" cy="259.19" r="1.35"/><circle cx="99.3" cy="253.19" r="1.35"/><circle cx="98.51" cy="240.02" r="1.35"/><circle cx="133.17" cy="218.17" r="1.35"/><circle cx="113.88" cy="248.88" r="1.35"/><circle cx="125.4" cy="243.51" r="1.35"/><circle cx="132.3" cy="202.03" r="1.35"/><circle cx="151.25" cy="224.06" r="1.35"/><circle cx="108.01" cy="238.55" r="1.35"/><circle cx="116" cy="248.35" r="1.35"/><circle cx="107.69" cy="260.07" r="1.35"/><circle cx="111.88" cy="253.17" r="1.35"/><circle cx="121.5" cy="235.01" r="1.35"/><circle cx="115.18" cy="230.28" r="1.35"/><circle cx="118.56" cy="242.55" r="1.35"/><circle cx="126.79" cy="221.39" r="1.35"/><circle cx="95.52" cy="239.91" r="1.35"/><circle cx="126.09" cy="253.94" r="1.35"/><circle cx="128.9" cy="231.8" r="1.35"/><circle cx="131.49" cy="238.88" r="1.35"/><circle cx="127.13" cy="219.24" r="1.35"/><circle cx="126.92" cy="240.81" r="1.35"/><circle cx="118.19" cy="251.6" r="1.35"/><circle cx="126.75" cy="241.78" r="1.35"/><circle cx="104.51" cy="252.35" r="1.35"/><circle cx="93.28" cy="254.23" r="1.35"/><circle cx="122.53" cy="230.93" r="1.35"/><circle cx="103.66" cy="233.73" r="1.35"/><circle cx="111.36" cy="229.67" r="1.35"/><circle cx="98.51" cy="260.03" r="1.35"/><circle cx="106.16" cy="241.82" r="1.35"/><circle cx="107.65" cy="247.58" r="1.35"/><circle cx="105.42" cy="250.55" r="1.35"/><circle cx="101.48" cy="273.21" r="1.35"/><circle cx="116.65" cy="250.69" r="1.35"/><circle cx="128.21" cy="225.82" r="1.35"/><circle cx="125.51" cy="240.06" r="1.35"/><circle cx="104.89" cy="245.12" r="1.35"/><circle cx="112.36" cy="240.8" r="1.35"/><circle cx="130.21" cy="232.16" r="1.35"/><circle cx="82.6" cy="265.73" r="1.35"/><circle cx="111.59" cy="242.18" r="1.35"/><circle cx="116.83" cy="227.01" r="1.35"/><circle cx="125.48" cy="230.31" r="1.35"/><circle cx="148.59" cy="218.22" r="1.35"/><circle cx="128.87" cy="218.74" r="1.35"/><circle cx="120.03" cy="237.33" r="1.35"/><circle cx="114.85" cy="233.01" r="1.35"/><circle cx="121.51" cy="223.35" r="1.35"/><circle cx="103.44" cy="242.65" r="1.35"/><circle cx="120.11" cy="248.26" r="1.35"/><circle cx="139.09" cy="235.32" r="1.35"/><circle cx="147.59" cy="209.03" r="1.35"/><circle cx="109.31" cy="240.78" r="1.35"/><circle cx="116.69" cy="245.33" r="1.35"/><circle cx="115.7" cy="237.12" r="1.35"/><circle cx="139.14" cy="221.26" r="1.35"/><circle cx="115.01" cy="243.48" r="1.35"/><circle cx="138.84" cy="216.92" r="1.35"/><circle cx="107.65" cy="254.5" r="1.35"/><circle cx="109.67" cy="241.61" r="1.35"/><circle cx="110.34" cy="242.44" r="1.35"/><circle cx="118.96" cy="221.06" r="1.35"/><circle cx="128.82" cy="221.58" r="1.35"/><circle cx="93.52" cy="251.99" r="1.35"/><circle cx="104.78" cy="250.94" r="1.35"/><circle cx="115.14" cy="232.15" r="1.35"/><circle cx="108.28" cy="249.26" r="1.35"/><circle cx="101.76" cy="259.66" r="1.35"/><circle cx="124.34" cy="217.78" r="1.35"/><circle cx="118.31" cy="229.92" r="1.35"/><circle cx="117.71" cy="229.42" r="1.35"/><circle cx="112.87" cy="249.94" r="1.35"/><circle cx="138.13" cy="230.5" r="1.35"/><circle cx="115.55" cy="247.92" r="1.35"/><circle cx="130.05" cy="221.04" r="1.35"/><circle cx="111.99" cy="257.37" r="1.35"/><circle cx="99.25" cy="244.81" r="1.35"/><circle cx="123.97" cy="244.37" r="1.35"/><circle cx="104.49" cy="246.67" r="1.35"/><circle cx="112.45" cy="218.79" r="1.35"/><circle cx="130" cy="248" r="1.35"/><circle cx="112.39" cy="257.94" r="1.35"/><circle cx="110.57" cy="236.56" r="1.35"/><circle cx="111.46" cy="246.33" r="1.35"/><circle cx="127.75" cy="224.8" r="1.35"/><circle cx="108.53" cy="248.99" r="1.35"/><circle cx="103.27" cy="240.61" r="1.35"/><circle cx="130.41" cy="217.66" r="1.35"/><circle cx="152.04" cy="203.95" r="1.35"/><circle cx="147.1" cy="207.24" r="1.35"/><circle cx="120.36" cy="245.69" r="1.35"/><circle cx="117.87" cy="238.42" r="1.35"/><circle cx="149.1" cy="224.08" r="1.35"/><circle cx="109.64" cy="240.42" r="1.35"/><circle cx="106.01" cy="253.2" r="1.35"/><circle cx="107.33" cy="232.22" r="1.35"/><circle cx="115.66" cy="228.92" r="1.35"/><circle cx="112.16" cy="255.96" r="1.35"/><circle cx="94.37" cy="255.34" r="1.35"/><circle cx="102.91" cy="259.08" r="1.35"/><circle cx="124.41" cy="229.88" r="1.35"/><circle cx="102.24" cy="245.7" r="1.35"/><circle cx="111.12" cy="242.07" r="1.35"/><circle cx="115.12" cy="236.14" r="1.35"/><circle cx="121.77" cy="229" r="1.35"/><circle cx="114.22" cy="248.51" r="1.35"/><circle cx="124.92" cy="235.72" r="1.35"/><circle cx="103.09" cy="248.94" r="1.35"/><circle cx="106.57" cy="242.12" r="1.35"/><circle cx="105.66" cy="253.79" r="1.35"/><circle cx="131.73" cy="221.41" r="1.35"/><circle cx="118.33" cy="246.41" r="1.35"/><circle cx="118.91" cy="260.35" r="1.35"/><circle cx="114.46" cy="249.05" r="1.35"/><circle cx="111.77" cy="244.17" r="1.35"/><circle cx="124.48" cy="228.82" r="1.35"/><circle cx="95.23" cy="255.16" r="1.35"/><circle cx="100.24" cy="249.15" r="1.35"/><circle cx="105.98" cy="241.91" r="1.35"/><circle cx="152.9" cy="195.25" r="1.35"/><circle cx="127.44" cy="223.24" r="1.35"/><circle cx="116.27" cy="246.15" r="1.35"/><circle cx="123.66" cy="227.7" r="1.35"/><circle cx="146.16" cy="204.51" r="1.35"/><circle cx="106.38" cy="239.54" r="1.35"/><circle cx="117.9" cy="252.41" r="1.35"/><circle cx="135.72" cy="222.42" r="1.35"/><circle cx="129.91" cy="240.37" r="1.35"/><circle cx="128.33" cy="233.23" r="1.35"/><circle cx="115.88" cy="253.27" r="1.35"/><circle cx="143.79" cy="206.68" r="1.35"/><circle cx="144.65" cy="214.39" r="1.35"/><circle cx="135.15" cy="242.77" r="1.35"/><circle cx="119.53" cy="224.88" r="1.35"/><circle cx="100.25" cy="267.81" r="1.35"/><circle cx="131.81" cy="237.44" r="1.35"/><circle cx="114.06" cy="245.71" r="1.35"/><circle cx="124.38" cy="237.33" r="1.35"/><circle cx="130.67" cy="234.97" r="1.35"/><circle cx="107.81" cy="242.86" r="1.35"/><circle cx="100.03" cy="261.26" r="1.35"/><circle cx="115.95" cy="231.87" r="1.35"/><circle cx="103.97" cy="246.94" r="1.35"/><circle cx="108.09" cy="242.9" r="1.35"/><circle cx="107.68" cy="247.7" r="1.35"/><circle cx="111.47" cy="246.16" r="1.35"/><circle cx="94.43" cy="267.89" r="1.35"/><circle cx="127.07" cy="214.47" r="1.35"/><circle cx="127.11" cy="245.62" r="1.35"/><circle cx="137.13" cy="226.93" r="1.35"/><circle cx="149.11" cy="209.67" r="1.35"/><circle cx="112.73" cy="240.13" r="1.35"/><circle cx="96.71" cy="260.39" r="1.35"/><circle cx="108.13" cy="253.55" r="1.35"/><circle cx="104.57" cy="256.25" r="1.35"/><circle cx="101.62" cy="240.31" r="1.35"/><circle cx="118.66" cy="243.63" r="1.35"/><circle cx="108.57" cy="274.83" r="1.35"/><circle cx="111.06" cy="228.29" r="1.35"/><circle cx="104.4" cy="261.81" r="1.35"/><circle cx="120.46" cy="238.22" r="1.35"/><circle cx="112.46" cy="242.68" r="1.35"/><circle cx="117.34" cy="250.91" r="1.35"/><circle cx="107.9" cy="237.89" r="1.35"/><circle cx="109.69" cy="248.29" r="1.35"/><circle cx="114.96" cy="254.4" r="1.35"/><circle cx="97.34" cy="258.7" r="1.35"/><circle cx="111.81" cy="240.58" r="1.35"/><circle cx="144.16" cy="209.56" r="1.35"/><circle cx="143.77" cy="204.84" r="1.35"/><circle cx="142.31" cy="224.8" r="1.35"/><circle cx="121.18" cy="225.67" r="1.35"/><circle cx="111.66" cy="252.64" r="1.35"/><circle cx="131.43" cy="211.1" r="1.35"/><circle cx="116.54" cy="245.34" r="1.35"/><circle cx="112.87" cy="242.28" r="1.35"/><circle cx="99.43" cy="234.37" r="1.35"/><circle cx="115.45" cy="240.34" r="1.35"/><circle cx="105.03" cy="242.12" r="1.35"/><circle cx="111.18" cy="241.04" r="1.35"/><circle cx="110.89" cy="259.63" r="1.35"/><circle cx="105.38" cy="241.28" r="1.35"/><circle cx="145.76" cy="196.95" r="1.35"/><circle cx="119.95" cy="248.67" r="1.35"/><circle cx="112.3" cy="244.96" r="1.35"/><circle cx="129.62" cy="238.87" r="1.35"/><circle cx="126.85" cy="230.71" r="1.35"/><circle cx="99.52" cy="249.95" r="1.35"/><circle cx="111.76" cy="243.88" r="1.35"/><circle cx="134.38" cy="230.7" r="1.35"/><circle cx="122.65" cy="241.07" r="1.35"/><circle cx="115.96" cy="239.83" r="1.35"/><circle cx="139.18" cy="214.48" r="1.35"/><circle cx="107.13" cy="248.59" r="1.35"/><circle cx="112.68" cy="238.14" r="1.35"/><circle cx="117.98" cy="255.38" r="1.35"/><circle cx="137.97" cy="215.45" r="1.35"/><circle cx="90.53" cy="257.64" r="1.35"/><circle cx="105.54" cy="247" r="1.35"/><circle cx="112.37" cy="250.5" r="1.35"/><circle cx="127.6" cy="232.81" r="1.35"/><circle cx="123.11" cy="230.62" r="1.35"/><circle cx="133.34" cy="214.36" r="1.35"/><circle cx="99.36" cy="258.47" r="1.35"/><circle cx="118.38" cy="221.71" r="1.35"/><circle cx="105.28" cy="239.68" r="1.35"/><circle cx="111.43" cy="252.22" r="1.35"/><circle cx="120.47" cy="230.4" r="1.35"/><circle cx="107.1" cy="253.12" r="1.35"/><circle cx="100.13" cy="268.64" r="1.35"/><circle cx="113.51" cy="248.53" r="1.35"/><circle cx="100.06" cy="257.67" r="1.35"/><circle cx="117.68" cy="257.54" r="1.35"/><circle cx="123.03" cy="238.13" r="1.35"/><circle cx="117.39" cy="234.97" r="1.35"/><circle cx="142.84" cy="216.72" r="1.35"/><circle cx="114" cy="245.76" r="1.35"/><circle cx="95.71" cy="254.42" r="1.35"/><circle cx="107.25" cy="250.17" r="1.35"/><circle cx="104.63" cy="250.88" r="1.35"/><circle cx="93.58" cy="246.55" r="1.35"/><circle cx="120.2" cy="233.52" r="1.35"/><circle cx="106.66" cy="247.54" r="1.35"/><circle cx="93.47" cy="260.76" r="1.35"/></g>
<g fill="#1a1aff" fill-opacity="0.3"><circle cx="76.67" cy="260.43" r="1.35"/><circle cx="111.83" cy="250.33" r="1.35"/><circle cx="109.57" cy="238.09" r="1.35"/><circle cx="117.92" cy="238.24" r="1.35"/><circle cx="90.5" cy="256.4" r="1.35"/><circle cx="133.08" cy="220.18" r="1.35"/><circle cx="86.81" cy="255.66" r="1.35"/><circle cx="108.2" cy="242.82" r="1.35"/><circle cx="155.14" cy="199.85" r="1.35"/><circle cx="101.19" cy="251.68" r="1.35"/><circle cx="100.36" cy="245.05" r="1.35"/><circle cx="135.75" cy="196.25" r="1.35"/><circle cx="107.08" cy="246.99" r="1.35"/><circle cx="109.8" cy="246.63" r="1.35"/><circle cx="116.64" cy="229.96" r="1.35"/><circle cx="137.41" cy="199.19" r="1.35"/><circle cx="80.61" cy="282.04" r="1.35"/><circle cx="117.26" cy="270.54" r="1.35"/><circle cx="93.53" cy="254.96" r="1.35"/><circle cx="97.07" cy="260.65" r="1.35"/><circle cx="101.08" cy="256.81" r="1.35"/><circle cx="79.29" cy="236.67" r="1.35"/><circle cx="121.87" cy="229.91" r="1.35"/><circle cx="92.43" cy="250.1" r="1.35"/><circle cx="119.78" cy="241.95" r="1.35"/><circle cx="117.55" cy="230.71" r="1.35"/><circle cx="102.26" cy="243.31" r="1.35"/><circle cx="113.24" cy="235.79" r="1.35"/><circle cx="139.63" cy="209.7" r="1.35"/><circle cx="114.97" cy="231.02" r="1.35"/><circle cx="106.1" cy="245.11" r="1.35"/><circle cx="105.79" cy="234.57" r="1.35"/><circle cx="102.9" cy="247.22" r="1.35"/><circle cx="119.68" cy="236.96" r="1.35"/><circle cx="134.37" cy="230.64" r="1.35"/><circle cx="107.65" cy="249.74" r="1.35"/><circle cx="111.27" cy="242.09" r="1.35"/><circle cx="135.19" cy="223.15" r="1.35"/><circle cx="111.82" cy="247.73" r="1.35"/><circle cx="122.01" cy="241.81" r="1.35"/><circle cx="107.41" cy="253.16" r="1.35"/><circle cx="104.23" cy="246.64" r="1.35"/><circle cx="108.52" cy="245.03" r="1.35"/><circle cx="147.7" cy="200.86" r="1.35"/><circle cx="109.7" cy="244.08" r="1.35"/><circle cx="108.22" cy="244.87" r="1.35"/><circle cx="103.84" cy="241.51" r="1.35"/><circle cx="101.8" cy="232.72" r="1.35"/><circle cx="119.74" cy="224.78" r="1.35"/><circle cx="106.61" cy="228.03" r="1.35"/><circle cx="145.33" cy="202.55" r="1.35"/><circle cx="115.45" cy="235.2" r="1.35"/><circle cx="128.27" cy="206.91" r="1.35"/><circle cx="119.31" cy="236.64" r="1.35"/><circle cx="125.33" cy="231.45" r="1.35"/><circle cx="99.84" cy="253.31" r="1.35"/><circle cx="117.83" cy="246.48" r="1.35"/><circle cx="119.19" cy="246.68" r="1.35"/><circle cx="104.87" cy="236.83" r="1.35"/><circle cx="97.59" cy="263.68" r="1.35"/><circle cx="127.98" cy="224.95" r="1.35"/><circle cx="110.37" cy="244.31" r="1.35"/><circle cx="112.08" cy="246.73" r="1.35"/><circle cx="106.79" cy="238.77" r="1.35"/><circle cx="107.55" cy="238.98" r="1.35"/><circle cx="115.1" cy="228.64" r="1.35"/><circle cx="97.8" cy="248.45" r="1.35"/><circle cx="103.49" cy="247.63" r="1.35"/><circle cx="110.63" cy="228.38" r="1.35"/><circle cx="109.99" cy="232.48" r="1.35"/><circle cx="111.13" cy="244.8" r="1.35"/><circle cx="106.71" cy="244.28" r="1.35"/><circle cx="106.34" cy="248.5" r="1.35"/><circle cx="103.63" cy="232.48" r="1.35"/><circle cx="127.7" cy="215" r="1.35"/><circle cx="100.48" cy="247.14" r="1.35"/><circle cx="136.6" cy="211.95" r="1.35"/><circle cx="123.11" cy="221.75" r="1.35"/><circle cx="111.94" cy="246.87" r="1.35"/><circle cx="124.33" cy="224.82" r="1.35"/><circle cx="99.32" cy="253.23" r="1.35"/><circle cx="96.99" cy="255.78" r="1.35"/><circle cx="103.73" cy="254.11" r="1.35"/><circle cx="106.47" cy="241.19" r="1.35"/><circle cx="113.84" cy="246.35" r="1.35"/><circle cx="109.43" cy="245.7" r="1.35"/><circle cx="114.24" cy="237.8" r="1.35"/><circle cx="93.6" cy="259.78" r="1.35"/><circle cx="122.12" cy="232.11" r="1.35"/><circle cx="103.88" cy="256.52" r="1.35"/><circle cx="110.19" cy="248.93" r="1.35"/><circle cx="109.97" cy="244.4" r="1.35"/><circle cx="105.59" cy="253.46" r="1.35"/><circle cx="100.57" cy="252.69" r="1.35"/><circle cx="108.46" cy="253.41" r="1.35"/><circle cx="111.79" cy="239.02" r="1.35"/><circle cx="112.84" cy="220.7" r="1.35"/><circle cx="126.63" cy="233.95" r="1.35"/><circle cx="103.8" cy="249.01" r="1.35"/><circle cx="100.24" cy="242.26" r="1.35"/><circle cx="103.17" cy="247.15" r="1.35"/><circle cx="115.55" cy="227.67" r="1.35"/><circle cx="103.02" cy="266.55" r="1.35"/><circle cx="133.96" cy="218.78" r="1.35"/><circle cx="101.25" cy="237.81" r="1.35"/><circle cx="107.46" cy="248.62" r="1.35"/><circle cx="115.79" cy="231.45" r="1.35"/><circle cx="136.56" cy="227.77" r="1.35"/><circle cx="113.12" cy="228.95" r="1.35"/><circle cx="119.55" cy="211.8" r="1.35"/><circle cx="114.43" cy="236.85" r="1.35"/><circle cx="130.3" cy="215.76" r="1.35"/><circle cx="130.26" cy="215.23" r="1.35"/><circle cx="102.22" cy="231.94" r="1.35"/><circle cx="136.89" cy="214.93" r="1.35"/><circle cx="121.61" cy="242.33" r="1.35"/><circle cx="105.45" cy="230.3" r="1.35"/><circle cx="108.86" cy="252.29" r="1.35"/><circle cx="107.12" cy="239.66" r="1.35"/><circle cx="134.26" cy="233.93" r="1.35"/><circle cx="102.4" cy="253.32" r="1.35"/><circle cx="121.65" cy="226.71" r="1.35"/><circle cx="122.2" cy="236.92" r="1.35"/><circle cx="118.65" cy="236.02" r="1.35"/><circle cx="90.34" cy="258.1" r="1.35"/><circle cx="114.06" cy="242.66" r="1.35"/><circle cx="120.29" cy="225.52" r="1.35"/><circle cx="97.92" cy="239.67" r="1.35"/><circle cx="121.9" cy="245" r="1.35"/><circle cx="89.86" cy="260.66" r="1.35"/><circle cx="120.25" cy="224.74" r="1.35"/><circle cx="107.65" cy="246.67" r="1.35"/><circle cx="119.5" cy="217.61" r="1.35"/><circle cx="90.34" cy="251.73" r="1.35"/><circle cx="121.04" cy="224.78" r="1.35"/><circle cx="107.78" cy="239.34" r="1.35"/><circle cx="125.27" cy="224.87" r="1.35"/><circle cx="108.62" cy="252.15" r="1.35"/><circle cx="104.65" cy="243.2" r="1.35"/><circle cx="150.06" cy="200.85" r="1.35"/><circle cx="107.28" cy="249.27" r="1.35"/><circle cx="101.35" cy="241.76" r="1.35"/><circle cx="110.54" cy="242.53" r="1.35"/><circle cx="99.18" cy="245.35" r="1.35"/><circle cx="135.55" cy="221.75" r="1.35"/><circle cx="141.6" cy="209.94" r="1.35"/><circle cx="105.94" cy="245.86" r="1.35"/><circle cx="91.41" cy="250.65" r="1.35"/><circle cx="131.3" cy="218.53" r="1.35"/><circle cx="126.61" cy="216.36" r="1.35"/><circle cx="128.13" cy="226.99" r="1.35"/><circle cx="130.08" cy="217.93" r="1.35"/><circle cx="101.07" cy="244.34" r="1.35"/><circle cx="114.39" cy="244.1" r="1.35"/><circle cx="102.96" cy="255.08" r="1.35"/><circle cx="97.19" cy="250.48" r="1.35"/><circle cx="132.59" cy="225.86" r="1.35"/><circle cx="104.91" cy="244.37" r="1.35"/><circle cx="147.32" cy="197.18" r="1.35"/><circle cx="113.71" cy="238.14" r="1.35"/><circle cx="103.3" cy="242.37" r="1.35"/><circle cx="122.98" cy="223.11" r="1.35"/><circle cx="140.26" cy="206.27" r="1.35"/><circle cx="126.18" cy="236.06" r="1.35"/><circle cx="107.65" cy="256.38" r="1.35"/><circle cx="116.88" cy="231.41" r="1.35"/><circle cx="140.79" cy="220.5" r="1.35"/><circle cx="107.53" cy="243.6" r="1.35"/><circle cx="106.85" cy="247.9" r="1.35"/><circle cx="132" cy="224.18" r="1.35"/><circle cx="115.46" cy="237.6" r="1.35"/><circle cx="112.46" cy="258.7" r="1.35"/><circle cx="109.71" cy="243.58" r="1.35"/><circle cx="100.44" cy="241.81" r="1.35"/><circle cx="122.19" cy="238.61" r="1.35"/><circle cx="112.05" cy="235.5" r="1.35"/><circle cx="129.21" cy="217.34" r="1.35"/><circle cx="110.95" cy="215.13" r="1.35"/><circle cx="102.57" cy="257.86" r="1.35"/><circle cx="121.94" cy="234.81" r="1.35"/><circle cx="129.73" cy="226" r="1.35"/><circle cx="123.39" cy="234.54" r="1.35"/><circle cx="135.58" cy="226.96" r="1.35"/><circle cx="107.03" cy="244.14" r="1.35"/><circle cx="107.63" cy="251.7" r="1.35"/><circle cx="123.84" cy="219.62" r="1.35"/><circle cx="101.26" cy="247.97" r="1.35"/><circle cx="97.61" cy="263.82" r="1.35"/><circle cx="130.09" cy="222.18" r="1.35"/><circle cx="100.15" cy="241" r="1.35"/><circle cx="110.84" cy="243.31" r="1.35"/><circle cx="99.08" cy="251.82" r="1.35"/><circle cx="97.06" cy="248.74" r="1.35"/><circle cx="103.75" cy="251.8" r="1.35"/><circle cx="107.18" cy="240.97" r="1.35"/><circle cx="111.41" cy="226.52" r="1.35"/><circle cx="87.39" cy="257.04" r="1.35"/><circle cx="131.44" cy="232.21" r="1.35"/><circle cx="95.41" cy="244.74" r="1.35"/><circle cx="103.65" cy="250.14" r="1.35"/><circle cx="125.42" cy="229.2" r="1.35"/><circle cx="114.01" cy="242.12" r="1.35"/><circle cx="93.54" cy="249.25" r="1.35"/><circle cx="140.28" cy="204.9" r="1.35"/><circle cx="105.1" cy="247.84" r="1.35"/><circle cx="119.3" cy="237.59" r="1.35"/><circle cx="112.53" cy="233.02" r="1.35"/><circle cx="129.82" cy="209.47" r="1.35"/><circle cx="112.21" cy="247.16" r="1.35"/><circle cx="132.79" cy="225.16" r="1.35"/><circle cx="107.09" cy="247.55" r="1.35"/><circle cx="127.49" cy="216.71" r="1.35"/><circle cx="107.06" cy="247.9" r="1.35"/><circle cx="109.3" cy="242.91" r="1.35"/><circle cx="145.93" cy="208.32" r="1.35"/><circle cx="111.89" cy="228.67" r="1.35"/><circle cx="114.25" cy="237.48" r="1.35"/><circle cx="147.34" cy="198.42" r="1.35"/><circle cx="113.19" cy="228.4" r="1.35"/><circle cx="105.8" cy="247.69" r="1.35"/><circle cx="123.94" cy="226.03" r="1.35"/><circle cx="100.01" cy="248.88" r="1.35"/><circle cx="131.77" cy="220.36" r="1.35"/><circle cx="125.46" cy="212.17" r="1.35"/><circle cx="106.79" cy="244.33" r="1.35"/><circle cx="108.33" cy="246.68" r="1.35"/><circle cx="116.02" cy="236.92" r="1.35"/><circle cx="116.71" cy="242.78" r="1.35"/><circle cx="98.5" cy="243.94" r="1.35"/><circle cx="114.85" cy="223.22" r="1.35"/><circle cx="95.23" cy="259.62" r="1.35"/><circle cx="110.13" cy="244.89" r="1.35"/><circle cx="117.31" cy="250.85" r="1.35"/><circle cx="112.19" cy="243.95" r="1.35"/><circle cx="113.3" cy="230.25" r="1.35"/><circle cx="104.67" cy="253.88" r="1.35"/><circle cx="117.93" cy="225.33" r="1.35"/><circle cx="104.25" cy="235.17" r="1.35"/><circle cx="117.2" cy="255.06" r="1.35"/><circle cx="101.47" cy="253.43" r="1.35"/><circle cx="104.68" cy="253.11" r="1.35"/><circle cx="120.13" cy="234.69" r="1.35"/><circle cx="111.16" cy="255.1" r="1.35"/><circle cx="114.21" cy="238.92" r="1.35"/><circle cx="134.12" cy="224.62" r="1.35"/><circle cx="124.31" cy="216.73" r="1.35"/><circle cx="131.26" cy="205.95" r="1.35"/><circle cx="115.36" cy="247.21" r="1.35"/><circle cx="108.7" cy="255.01" r="1.35"/><circle cx="130.51" cy="222.71" r="1.35"/><circle cx="117.91" cy="234.33" r="1.35"/><circle cx="130.74" cy="219.58" r="1.35"/><circle cx="109.31" cy="236.22" r="1.35"/><circle cx="137.6" cy="223.44" r="1.35"/><circle cx="128.33" cy="226.37" r="1.35"/><circle cx="125.61" cy="228.12" r="1.35"/><circle cx="121.65" cy="231.43" r="1.35"/><circle cx="122.75" cy="235.83" r="1.35"/><circle cx="117.84" cy="236.74" r="1.35"/><circle cx="118.73" cy="237.76" r="1.35"/><circle cx="123.04" cy="216.96" r="1.35"/><circle cx="109.67" cy="245.86" r="1.35"/><circle cx="148.98" cy="216.24" r="1.35"/><circle cx="108.92" cy="238.08" r="1.35"/><circle cx="127.29" cy="220.94" r="1.35"/><circle cx="114.93" cy="243.21" r="1.35"/><circle cx="113.84" cy="244.97" r="1.35"/><circle cx="147.23" cy="205.09" r="1.35"/><circle cx="102.58" cy="235.93" r="1.35"/><circle cx="102.98" cy="253.22" r="1.35"/><circle cx="100.86" cy="241.46" r="1.35"/><circle cx="105.81" cy="238.97" r="1.35"/><circle cx="148.89" cy="202.61" r="1.35"/><circle cx="114.09" cy="234.2" r="1.35"/><circle cx="130.38" cy="225.36" r="1.35"/><circle cx="116.39" cy="260.47" r="1.35"/><circle cx="120.9" cy="235.62" r="1.35"/><circle cx="125.79" cy="229.73" r="1.35"/><circle cx="137.2" cy="203.51" r="1.35"/><circle cx="103.27" cy="243.32" r="1.35"/><circle cx="117.26" cy="224.25" r="1.35"/><circle cx="114.64" cy="231.61" r="1.35"/><circle cx="98.57" cy="244.78" r="1.35"/><circle cx="109.09" cy="236.72" r="1.35"/><circle cx="108.84" cy="240.76" r="1.35"/><circle cx="87.61" cy="257.72" r="1.35"/><circle cx="115.71" cy="223" r="1.35"/><circle cx="115.01" cy="224.26" r="1.35"/><circle cx="110.07" cy="244.94" r="1.35"/><circle cx="100.6" cy="252.16" r="1.35"/><circle cx="140.04" cy="216.45" r="1.35"/><circle cx="120.62" cy="238.17" r="1.35"/><circle cx="126.91" cy="219.59" r="1.35"/><circle cx="137.44" cy="216.36" r="1.35"/><circle cx="101.47" cy="238.63" r="1.35"/><circle cx="134.54" cy="233.07" r="1.35"/><circle cx="114.88" cy="245.81" r="1.35"/><circle cx="110.56" cy="238.8" r="1.35"/><circle cx="106.41" cy="235.47" r="1.35"/><circle cx="113.57" cy="240.44" r="1.35"/><circle cx="122.11" cy="212.12" r="1.35"/><circle cx="110.75" cy="233.87" r="1.35"/><circle cx="113.78" cy="243.29" r="1.35"/><circle cx="109.91" cy="241.95" r="1.35"/><circle cx="115.44" cy="231.07" r="1.35"/><circle cx="108.17" cy="251.21" r="1.35"/><circle cx="103.31" cy="239.96" r="1.35"/><circle cx="112.73" cy="240.57" r="1.35"/><circle cx="105.01" cy="242.6" r="1.35"/><circle cx="107.44" cy="236.97" r="1.35"/><circle cx="108.62" cy="246.64" r="1.35"/><circle cx="140.05" cy="199.54" r="1.35"/><circle cx="141.26" cy="222.42" r="1.35"/><circle cx="116.79" cy="228.78" r="1.35"/><circle cx="119.81" cy="246.97" r="1.35"/><circle cx="142.63" cy="195.83" r="1.35"/><circle cx="119.71" cy="235.51" r="1.35"/><circle cx="106.25" cy="235.34" r="1.35"/><circle cx="111.29" cy="228.57" r="1.35"/><circle cx="117.58" cy="234.14" r="1.35"/><circle cx="137.47" cy="216.39" r="1.35"/><circle cx="106.53" cy="234.41" r="1.35"/><circle cx="150.64" cy="205.99" r="1.35"/><circle cx="101.01" cy="244.53" r="1.35"/><circle cx="123.69" cy="227.11" r="1.35"/><circle cx="104.87" cy="250.1" r="1.35"/><circle cx="143.66" cy="208.82" r="1.35"/><circle cx="101.64" cy="235.46" r="1.35"/><circle cx="118.23" cy="245.63" r="1.35"/><circle cx="129.18" cy="224.62" r="1.35"/><circle cx="130.39" cy="215.02" r="1.35"/><circle cx="98.07" cy="245.9" r="1.35"/><circle cx="101.94" cy="236" r="1.35"/><circle cx="94.2" cy="247.37" r="1.35"/><circle cx="116.47" cy="238.59" r="1.35"/><circle cx="109.7" cy="238.7" r="1.35"/><circle cx="104.26" cy="238.13" r="1.35"/><circle cx="103.85" cy="243.64" r="1.35"/><circle cx="115.15" cy="248.59" r="1.35"/><circle cx="104.13" cy="244.97" r="1.35"/><circle cx="118.06" cy="227.38" r="1.35"/><circle cx="141.97" cy="217.02" r="1.35"/><circle cx="97.13" cy="259.38" r="1.35"/><circle cx="111.18" cy="240.29" r="1.35"/><circle cx="105.83" cy="240.76" r="1.35"/><circle cx="113.45" cy="224.4" r="1.35"/><circle cx="98.85" cy="243.81" r="1.35"/><circle cx="108.73" cy="238.61" r="1.35"/><circle cx="102.04" cy="248.22" r="1.35"/><circle cx="124.67" cy="227.91" r="1.35"/><circle cx="115.89" cy="239.3" r="1.35"/><circle cx="111.52" cy="241.4" r="1.35"/><circle cx="118.86" cy="233.22" r="1.35"/><circle cx="105.66" cy="237.61" r="1.35"/><circle cx="89.52" cy="245.94" r="1.35"/><circle cx="119.4" cy="226.42" r="1.35"/><circle cx="112.66" cy="230.28" r="1.35"/><circle cx="107.94" cy="238.04" r="1.35"/><circle cx="126.67" cy="220.4" r="1.35"/><circle cx="126.39" cy="212.61" r="1.35"/><circle cx="97.88" cy="245.39" r="1.35"/><circle cx="104.79" cy="246.17" r="1.35"/><circle cx="137.33" cy="211.84" r="1.35"/><circle cx="132.06" cy="211.24" r="1.35"/><circle cx="107.65" cy="248" r="1.35"/><circle cx="100.82" cy="249.58" r="1.35"/><circle cx="102.21" cy="241.34" r="1.35"/><circle cx="107.84" cy="243.96" r="1.35"/><circle cx="106.05" cy="261.36" r="1.35"/><circle cx="109.69" cy="235.92" r="1.35"/><circle cx="105.72" cy="255.74" r="1.35"/><circle cx="107.2" cy="255.86" r="1.35"/><circle cx="132.95" cy="228.27" r="1.35"/><circle cx="102.63" cy="242.52" r="1.35"/><circle cx="119.77" cy="247.24" r="1.35"/><circle cx="122.59" cy="228.22" r="1.35"/><circle cx="124" cy="223.54" r="1.35"/><circle cx="108.11" cy="241.39" r="1.35"/><circle cx="115.21" cy="240.47" r="1.35"/><circle cx="105.03" cy="247.17" r="1.35"/><circle cx="139.33" cy="207.17" r="1.35"/><circle cx="127.78" cy="232.22" r="1.35"/><circle cx="99.4" cy="246.95" r="1.35"/><circle cx="107.72" cy="235.02" r="1.35"/><circle cx="126.76" cy="229.25" r="1.35"/><circle cx="122.63" cy="233.09" r="1.35"/><circle cx="145.93" cy="210.48" r="1.35"/><circle cx="129.58" cy="210.51" r="1.35"/><circle cx="111.81" cy="248.26" r="1.35"/><circle cx="113.23" cy="241.67" r="1.35"/><circle cx="108.19" cy="257.99" r="1.35"/><circle cx="110.81" cy="229.87" r="1.35"/><circle cx="115.33" cy="237.12" r="1.35"/><circle cx="154.26" cy="189.74" r="1.35"/><circle cx="106.95" cy="231.3" r="1.35"/><circle cx="90.82" cy="256.54" r="1.35"/><circle cx="110.84" cy="249.72" r="1.35"/><circle cx="111.85" cy="235.24" r="1.35"/><circle cx="98.07" cy="248.43" r="1.35"/><circle cx="108.07" cy="250.63" r="1.35"/><circle cx="112.93" cy="246.24" r="1.35"/><circle cx="121.6" cy="236.6" r="1.35"/><circle cx="107.28" cy="237.64" r="1.35"/><circle cx="104.02" cy="247.37" r="1.35"/><circle cx="128.94" cy="228.81" r="1.35"/><circle cx="104.58" cy="241.76" r="1.35"/><circle cx="104.54" cy="241.02" r="1.35"/><circle cx="103.45" cy="255.43" r="1.35"/><circle cx="111.66" cy="252.45" r="1.35"/><circle cx="117.67" cy="223.06" r="1.35"/><circle cx="87.12" cy="244.89" r="1.35"/><circle cx="105.35" cy="234.25" r="1.35"/><circle cx="119.31" cy="222.41" r="1.35"/><circle cx="108.15" cy="242.13" r="1.35"/><circle cx="118.41" cy="237.03" r="1.35"/><circle cx="101.68" cy="249.24" r="1.35"/><circle cx="130.13" cy="213.01" r="1.35"/><circle cx="130.32" cy="219.94" r="1.35"/><circle cx="111.78" cy="231.2" r="1.35"/><circle cx="96.54" cy="255.78" r="1.35"/><circle cx="100.23" cy="246.7" r="1.35"/><circle cx="138.84" cy="231.62" r="1.35"/><circle cx="142.91" cy="211.51" r="1.35"/><circle cx="113.29" cy="230.58" r="1.35"/><circle cx="127.88" cy="213.02" r="1.35"/><circle cx="104.89" cy="243.23" r="1.35"/><circle cx="103.51" cy="234.67" r="1.35"/><circle cx="108.98" cy="236.24" r="1.35"/><circle cx="115.72" cy="228.69" r="1.35"/><circle cx="102.38" cy="257.08" r="1.35"/><circle cx="125.33" cy="220.62" r="1.35"/><circle cx="129.95" cy="212.45" r="1.35"/><circle cx="96.43" cy="245.07" r="1.35"/><circle cx="95.31" cy="247.68" r="1.35"/><circle cx="117.35" cy="232.5" r="1.35"/><circle cx="105.41" cy="244.52" r="1.35"/><circle cx="96.1" cy="266.15" r="1.35"/><circle cx="122.37" cy="222.22" r="1.35"/><circle cx="118.91" cy="240.19" r="1.35"/><circle cx="108.92" cy="244.57" r="1.35"/><circle cx="145.92" cy="201.29" r="1.35"/><circle cx="105.87" cy="229" r="1.35"/><circle cx="100.08" cy="241.44" r="1.35"/><circle cx="116.71" cy="239.97" r="1.35"/><circle cx="108.77" cy="254.29" r="1.35"/><circle cx="106.23" cy="247.13" r="1.35"/><circle cx="121.38" cy="234.97" r="1.35"/><circle cx="105.48" cy="242.83" r="1.35"/><circle cx="106.53" cy="241.97" r="1.35"/><circle cx="136.04" cy="206.75" r="1.35"/><circle cx="129.86" cy="227.32" r="1.35"/><circle cx="126.32" cy="225.97" r="1.35"/><circle cx="119.52" cy="228.69" r="1.35"/><circle cx="118.41" cy="229.13" r="1.35"/><circle cx="137.71" cy="215.11" r="1.35"/><circle cx="113.17" cy="240.4" r="1.35"/><circle cx="138.34" cy="202.79" r="1.35"/><circle cx="110.87" cy="254.62" r="1.35"/><circle cx="110.85" cy="242.43" r="1.35"/><circle cx="100.05" cy="252.36" r="1.35"/><circle cx="115.16" cy="247.86" r="1.35"/><circle cx="124.59" cy="233.59" r="1.35"/><circle cx="134.94" cy="212.79" r="1.35"/><circle cx="108.46" cy="247.42" r="1.35"/><circle cx="107.63" cy="234.9" r="1.35"/><circle cx="106.21" cy="240.07" r="1.35"/><circle cx="96.17" cy="237.67" r="1.35"/><circle cx="106.73" cy="255.06" r="1.35"/><circle cx="105.07" cy="230.8" r="1.35"/><circle cx="99.77" cy="258.29" r="1.35"/><circle cx="110.32" cy="233.92" r="1.35"/><circle cx="108.26" cy="234.96" r="1.35"/><circle cx="105.47" cy="244.62" r="1.35"/><circle cx="104.32" cy="249.76" r="1.35"/><circle cx="102.51" cy="254.67" r="1.35"/><circle cx="149.42" cy="212.26" r="1.35"/><circle cx="101.82" cy="253.31" r="1.35"/><circle cx="140.68" cy="214.52" r="1.35"/><circle cx="119.15" cy="226.05" r="1.35"/><circle cx="111.8" cy="245.19" r="1.35"/><circle cx="102.57" cy="250.75" r="1.35"/><circle cx="126.81" cy="218.67" r="1.35"/><circle cx="139.38" cy="207.79" r="1.35"/><circle cx="103.62" cy="247.79" r="1.35"/><circle cx="110.2" cy="242.6" r="1.35"/><circle cx="130.56" cy="221.75" r="1.35"/><circle cx="115.27" cy="231.1" r="1.35"/><circle cx="141.03" cy="200.55" r="1.35"/><circle cx="110.15" cy="247.31" r="1.35"/><circle cx="113.65" cy="222.97" r="1.35"/><circle cx="98.55" cy="248.77" r="1.35"/><circle cx="152.12" cy="207.44" r="1.35"/><circle cx="94.38" cy="235.91" r="1.35"/><circle cx="89.91" cy="257.73" r="1.35"/><circle cx="113.77" cy="242.79" r="1.35"/><circle cx="103.92" cy="234.16" r="1.35"/><circle cx="153.57" cy="214.57" r="1.35"/><circle cx="98.28" cy="232.57" r="1.35"/><circle cx="117.87" cy="244.51" r="1.35"/><circle cx="128.01" cy="234.25" r="1.35"/><circle cx="141.29" cy="214.14" r="1.35"/><circle cx="110.53" cy="238.78" r="1.35"/><circle cx="130.18" cy="221.8" r="1.35"/><circle cx="116.59" cy="226.4" r="1.35"/><circle cx="112.79" cy="244.89" r="1.35"/><circle cx="108.59" cy="233.42" r="1.35"/><circle cx="111.32" cy="237.46" r="1.35"/><circle cx="108.18" cy="251.58" r="1.35"/><circle cx="126.85" cy="213.18" r="1.35"/><circle cx="98.43" cy="251.02" r="1.35"/><circle cx="131.49" cy="218.73" r="1.35"/><circle cx="121.74" cy="216.95" r="1.35"/><circle cx="116.04" cy="244.26" r="1.35"/><circle cx="106.76" cy="247.67" r="1.35"/><circle cx="103.72" cy="235.51" r="1.35"/><circle cx="119.4" cy="230.39" r="1.35"/><circle cx="120.71" cy="222.84" r="1.35"/><circle cx="113.87" cy="231.42" r="1.35"/><circle cx="128.25" cy="221.59" r="1.35"/><circle cx="104.2" cy="241.73" r="1.35"/><circle cx="119.78" cy="238.43" r="1.35"/><circle cx="95.42" cy="251.51" r="1.35"/><circle cx="128.35" cy="229.06" r="1.35"/><circle cx="114.28" cy="236.1" r="1.35"/><circle cx="111.95" cy="246.22" r="1.35"/><circle cx="128.4" cy="216.25" r="1.35"/><circle cx="121" cy="224.77" r="1.35"/><circle cx="82.7" cy="261.89" r="1.35"/><circle cx="115.05" cy="240.45" r="1.35"/><circle cx="103.25" cy="256.57" r="1.35"/><circle cx="137.95" cy="227.92" r="1.35"/><circle cx="157.34" cy="199.44" r="1.35"/><circle cx="108.53" cy="244.95" r="1.35"/><circle cx="112.32" cy="236.88" r="1.35"/><circle cx="111.43" cy="242.88" r="1.35"/><circle cx="117.52" cy="232.64" r="1.35"/><circle cx="128.44" cy="232.99" r="1.35"/><circle cx="136.6" cy="219.58" r="1.35"/><circle cx="99.93" cy="245.4" r="1.35"/><circle cx="134.38" cy="208.39" r="1.35"/><circle cx="109.59" cy="253.12" r="1.35"/><circle cx="117.73" cy="235.21" r="1.35"/><circle cx="129.64" cy="217.47" r="1.35"/><circle cx="128.39" cy="230.73" r="1.35"/><circle cx="102.22" cy="246.62" r="1.35"/><circle cx="104.73" cy="244.73" r="1.35"/><circle cx="106.06" cy="241.74" r="1.35"/><circle cx="103.39" cy="232.14" r="1.35"/><circle cx="134.02" cy="221.78" r="1.35"/><circle cx="95.73" cy="246.95" r="1.35"/><circle cx="117.13" cy="228.55" r="1.35"/><circle cx="118.7" cy="225.33" r="1.35"/><circle cx="123.99" cy="231.77" r="1.35"/><circle cx="119.2" cy="230.43" r="1.35"/><circle cx="136.45" cy="211.98" r="1.35"/><circle cx="112.84" cy="224.01" r="1.35"/><circle cx="125.4" cy="223.39" r="1.35"/><circle cx="114.91" cy="223.42" r="1.35"/><circle cx="142.07" cy="208.17" r="1.35"/><circle cx="97" cy="258.73" r="1.35"/><circle cx="132.52" cy="216.07" r="1.35"/><circle cx="118.23" cy="249.18" r="1.35"/><circle cx="111.75" cy="243.69" r="1.35"/><circle cx="106.05" cy="250.6" r="1.35"/><circle cx="96.34" cy="257.59" r="1.35"/><circle cx="107.88" cy="241.97" r="1.35"/><circle cx="110.04" cy="249.26" r="1.35"/><circle cx="124.52" cy="234.31" r="1.35"/><circle cx="93.78" cy="248.35" r="1.35"/><circle cx="139.38" cy="217.42" r="1.35"/><circle cx="118.51" cy="236.08" r="1.35"/><circle cx="113.84" cy="244.99" r="1.35"/><circle cx="107.77" cy="247.6" r="1.35"/><circle cx="99.97" cy="241.94" r="1.35"/><circle cx="97.29" cy="245.52" r="1.35"/><circle cx="114.86" cy="251.1" r="1.35"/><circle cx="113.15" cy="239.84" r="1.35"/><circle cx="104.56" cy="235.4" r="1.35"/><circle cx="101.14" cy="253.97" r="1.35"/><circle cx="108.18" cy="240.21" r="1.35"/><circle cx="96.56" cy="240.72" r="1.35"/><circle cx="105.04" cy="227.57" r="1.35"/><circle cx="135.28" cy="199.74" r="1.35"/><circle cx="123.17" cy="228.87" r="1.35"/><circle cx="109.08" cy="241.84" r="1.35"/><circle cx="96.83" cy="253.76" r="1.35"/><circle cx="100.88" cy="253.73" r="1.35"/><circle cx="99.83" cy="257.55" r="1.35"/><circle cx="114.91" cy="218.17" r="1.35"/><circle cx="104.09" cy="245.26" r="1.35"/><circle cx="109.56" cy="234.78" r="1.35"/><circle cx="101.46" cy="240.39" r="1.35"/><circle cx="111.19" cy="235.32" r="1.35"/><circle cx="134" cy="213.54" r="1.35"/><circle cx="104.93" cy="244.62" r="1.35"/><circle cx="102.98" cy="236.84" r="1.35"/><circle cx="102.98" cy="244.98" r="1.35"/><circle cx="134.43" cy="230.96" r="1.35"/><circle cx="98.69" cy="244.96" r="1.35"/><circle cx="95.12" cy="243.62" r="1.35"/><circle cx="101.07" cy="253.44" r="1.35"/><circle cx="102.23" cy="254.84" r="1.35"/><circle cx="121.49" cy="232.34" r="1.35"/><circle cx="148.6" cy="188.98" r="1.35"/><circle cx="107.5" cy="252.36" r="1.35"/><circle cx="124.01" cy="219.09" r="1.35"/><circle cx="111.31" cy="230.27" r="1.35"/><circle cx="99.88" cy="247.37" r="1.35"/><circle cx="109.14" cy="241.27" r="1.35"/><circle cx="112.95" cy="243.93" r="1.35"/><circle cx="108.59" cy="248.01" r="1.35"/><circle cx="142.91" cy="204.48" r="1.35"/><circle cx="99.3" cy="260.91" r="1.35"/><circle cx="118.46" cy="232.51" r="1.35"/><circle cx="121.05" cy="236.44" r="1.35"/><circle cx="101.12" cy="239.34" r="1.35"/><circle cx="107.85" cy="230.43" r="1.35"/><circle cx="129.32" cy="226.25" r="1.35"/><circle cx="108.67" cy="231.07" r="1.35"/><circle cx="117.45" cy="230.43" r="1.35"/><circle cx="122.72" cy="226.27" r="1.35"/><circle cx="92.29" cy="256.8" r="1.35"/><circle cx="133.85" cy="210.93" r="1.35"/><circle cx="154.38" cy="203.58" r="1.35"/><circle cx="117.22" cy="212.03" r="1.35"/><circle cx="131.96" cy="224.23" r="1.35"/><circle cx="109.3" cy="261.21" r="1.35"/><circle cx="111.07" cy="240.23" r="1.35"/><circle cx="104.86" cy="246.77" r="1.35"/><circle cx="109.92" cy="247.39" r="1.35"/><circle cx="135.14" cy="228.61" r="1.35"/><circle cx="100.06" cy="242.31" r="1.35"/><circle cx="111.23" cy="240.59" r="1.35"/><circle cx="94.62" cy="256.74" r="1.35"/><circle cx="112.95" cy="242.63" r="1.35"/><circle cx="114.11" cy="237.99" r="1.35"/><circle cx="108.61" cy="248.28" r="1.35"/><circle cx="103.98" cy="244.37" r="1.35"/><circle cx="142.5" cy="205.54" r="1.35"/><circle cx="98.69" cy="248.18" r="1.35"/><circle cx="100.1" cy="246.66" r="1.35"/><circle cx="104.37" cy="246.29" r="1.35"/><circle cx="130.66" cy="217.09" r="1.35"/><circle cx="140.87" cy="197.12" r="1.35"/><circle cx="123.87" cy="238.96" r="1.35"/><circle cx="105.2" cy="245.42" r="1.35"/><circle cx="102.52" cy="237.95" r="1.35"/><circle cx="133.68" cy="224.14" r="1.35"/><circle cx="100.96" cy="245" r="1.35"/><circle cx="137.45" cy="214.99" r="1.35"/><circle cx="134.68" cy="213.67" r="1.35"/><circle cx="114.17" cy="238.69" r="1.35"/><circle cx="123.09" cy="228.12" r="1.35"/><circle cx="121.65" cy="223.47" r="1.35"/><circle cx="137.13" cy="211.43" r="1.35"/><circle cx="111.31" cy="256.78" r="1.35"/><circle cx="121.66" cy="209.55" r="1.35"/><circle cx="109.01" cy="242.87" r="1.35"/><circle cx="107.13" cy="248.05" r="1.35"/><circle cx="109.27" cy="233.23" r="1.35"/><circle cx="104.43" cy="235.94" r="1.35"/><circle cx="112.39" cy="256.63" r="1.35"/><circle cx="96.56" cy="253.04" r="1.35"/><circle cx="112.46" cy="255.89" r="1.35"/><circle cx="137.55" cy="215.1" r="1.35"/><circle cx="143.83" cy="204.28" r="1.35"/><circle cx="124.42" cy="229.19" r="1.35"/><circle cx="133.69" cy="220.23" r="1.35"/><circle cx="112.41" cy="248.41" r="1.35"/><circle cx="113.14" cy="241.38" r="1.35"/><circle cx="117.14" cy="234.5" r="1.35"/><circle cx="103.33" cy="250.11" r="1.35"/><circle cx="109.01" cy="253.63" r="1.35"/><circle cx="116.96" cy="240.33" r="1.35"/><circle cx="105.04" cy="238.34" r="1.35"/><circle cx="100.1" cy="246.89" r="1.35"/><circle cx="119.58" cy="233.35" r="1.35"/><circle cx="107.12" cy="239.21" r="1.35"/><circle cx="126.84" cy="219.37" r="1.35"/><circle cx="107.98" cy="235.47" r="1.35"/><circle cx="108.3" cy="240.92" r="1.35"/><circle cx="115.81" cy="238.31" r="1.35"/><circle cx="114.65" cy="244.39" r="1.35"/><circle cx="106.23" cy="245.49" r="1.35"/><circle cx="117.14" cy="250.66" r="1.35"/><circle cx="123.72" cy="225.35" r="1.35"/><circle cx="135.67" cy="239.44" r="1.35"/><circle cx="136.82" cy="219.81" r="1.35"/><circle cx="99.34" cy="257.22" r="1.35"/><circle cx="106.5" cy="240.93" r="1.35"/><circle cx="96.64" cy="232.42" r="1.35"/><circle cx="114.11" cy="235.36" r="1.35"/><circle cx="108.81" cy="244.04" r="1.35"/><circle cx="115.54" cy="251.16" r="1.35"/><circle cx="118.83" cy="219.87" r="1.35"/><circle cx="122.79" cy="242.97" r="1.35"/><circle cx="100.81" cy="249.33" r="1.35"/><circle cx="136.44" cy="217.91" r="1.35"/><circle cx="117.44" cy="211.71" r="1.35"/><circle cx="107.59" cy="245.07" r="1.35"/><circle cx="123.92" cy="222.89" r="1.35"/><circle cx="108.45" cy="248.66" r="1.35"/><circle cx="130.46" cy="219.26" r="1.35"/><circle cx="105.35" cy="236.82" r="1.35"/><circle cx="108.96" cy="250.3" r="1.35"/><circle cx="111.65" cy="245.21" r="1.35"/><circle cx="107.82" cy="248.63" r="1.35"/><circle cx="119.28" cy="239.35" r="1.35"/><circle cx="119.39" cy="240" r="1.35"/><circle cx="112.48" cy="238.28" r="1.35"/><circle cx="101.51" cy="239.29" r="1.35"/><circle cx="74.39" cy="269.18" r="1.35"/><circle cx="119.11" cy="242.4" r="1.35"/><circle cx="98.46" cy="259.98" r="1.35"/><circle cx="116.35" cy="235.03" r="1.35"/><circle cx="128.35" cy="217.2" r="1.35"/><circle cx="116.53" cy="234.23" r="1.35"/><circle cx="108.72" cy="242.86" r="1.35"/><circle cx="109.03" cy="239.48" r="1.35"/><circle cx="107.93" cy="237.67" r="1.35"/><circle cx="116.23" cy="252.42" r="1.35"/><circle cx="107.87" cy="245.5" r="1.35"/><circle cx="101.44" cy="245.66" r="1.35"/><circle cx="125.66" cy="212.93" r="1.35"/><circle cx="108.84" cy="236.43" r="1.35"/><circle cx="130.35" cy="224.64" r="1.35"/><circle cx="112.98" cy="244.26" r="1.35"/><circle cx="112.25" cy="236.89" r="1.35"/><circle cx="110.73" cy="240.84" r="1.35"/><circle cx="118.16" cy="229.6" r="1.35"/><circle cx="120.66" cy="220.11" r="1.35"/><circle cx="121.27" cy="239.6" r="1.35"/><circle cx="107.69" cy="246.91" r="1.35"/><circle cx="115.52" cy="255.81" r="1.35"/><circle cx="135.5" cy="206.57" r="1.35"/><circle cx="108.99" cy="241.19" r="1.35"/><circle cx="113.14" cy="245.12" r="1.35"/><circle cx="134.51" cy="211.95" r="1.35"/><circle cx="123.7" cy="214.4" r="1.35"/><circle cx="116.62" cy="225.92" r="1.35"/><circle cx="108.95" cy="243.24" r="1.35"/><circle cx="151.22" cy="198.32" r="1.35"/><circle cx="117.92" cy="231.64" r="1.35"/><circle cx="124.96" cy="233" r="1.35"/><circle cx="114.64" cy="244.37" r="1.35"/><circle cx="101.04" cy="253.87" r="1.35"/><circle cx="100.5" cy="252" r="1.35"/><circle cx="117.48" cy="230.79" r="1.35"/><circle cx="120.59" cy="234.08" r="1.35"/><circle cx="113.74" cy="244.76" r="1.35"/><circle cx="102.06" cy="250.55" r="1.35"/><circle cx="101.33" cy="254.61" r="1.35"/><circle cx="107.8" cy="240.95" r="1.35"/><circle cx="93.46" cy="247.78" r="1.35"/><circle cx="122.27" cy="219.22" r="1.35"/><circle cx="133.7" cy="221.31" r="1.35"/><circle cx="132.72" cy="229.29" r="1.35"/><circle cx="107.08" cy="244.94" r="1.35"/><circle cx="108.02" cy="250.66" r="1.35"/><circle cx="87.48" cy="277.3" r="1.35"/><circle cx="110.96" cy="248.47" r="1.35"/><circle cx="107.93" cy="238.43" r="1.35"/><circle cx="126.77" cy="221.05" r="1.35"/><circle cx="122.36" cy="228.58" r="1.35"/><circle cx="117.35" cy="224.81" r="1.35"/><circle cx="117.4" cy="236.97" r="1.35"/><circle cx="126.88" cy="231.05" r="1.35"/><circle cx="133.25" cy="211.38" r="1.35"/><circle cx="110.95" cy="256.68" r="1.35"/><circle cx="106.81" cy="242.33" r="1.35"/><circle cx="99.08" cy="251.65" r="1.35"/><circle cx="137" cy="209.24" r="1.35"/><circle cx="129.88" cy="213.22" r="1.35"/><circle cx="125.82" cy="227.15" r="1.35"/><circle cx="101.66" cy="250.65" r="1.35"/><circle cx="121.69" cy="242.14" r="1.35"/><circle cx="112.49" cy="243.54" r="1.35"/><circle cx="115.54" cy="239.57" r="1.35"/><circle cx="109.44" cy="239.99" r="1.35"/><circle cx="114.46" cy="224.43" r="1.35"/><circle cx="108.19" cy="242.48" r="1.35"/><circle cx="122.19" cy="220.57" r="1.35"/><circle cx="119.84" cy="238.26" r="1.35"/><circle cx="109.32" cy="241.72" r="1.35"/><circle cx="117.96" cy="246.32" r="1.35"/><circle cx="111.23" cy="246.01" r="1.35"/><circle cx="128.55" cy="227.61" r="1.35"/><circle cx="110.6" cy="242.49" r="1.35"/><circle cx="117.6" cy="234.52" r="1.35"/><circle cx="111.31" cy="245.24" r="1.35"/><circle cx="102.92" cy="256.8" r="1.35"/><circle cx="123.59" cy="220.18" r="1.35"/><circle cx="104.84" cy="251.07" r="1.35"/><circle cx="133.81" cy="236.71" r="1.35"/><circle cx="118.37" cy="231.17" r="1.35"/><circle cx="96.53" cy="254.04" r="1.35"/><circle cx="100.9" cy="245.53" r="1.35"/><circle cx="101.5" cy="238.54" r="1.35"/><circle cx="109.81" cy="251.38" r="1.35"/></g>
<g fill="#f2502a" fill-opacity="0.3"><circle cx="269.86" cy="221.7" r="1.35"/><circle cx="281.36" cy="220.38" r="1.35"/><circle cx="258.29" cy="258.14" r="1.35"/><circle cx="291.69" cy="195.89" r="1.35"/><circle cx="261.15" cy="190.61" r="1.35"/><circle cx="287.36" cy="220.76" r="1.35"/><circle cx="289.43" cy="218.91" r="1.35"/><circle cx="262.54" cy="219.65" r="1.35"/><circle cx="273.75" cy="200.76" r="1.35"/><circle cx="288.31" cy="223.77" r="1.35"/><circle cx="286.33" cy="198.4" r="1.35"/><circle cx="283.84" cy="215.28" r="1.35"/><circle cx="290.86" cy="226.52" r="1.35"/><circle cx="281.74" cy="211.51" r="1.35"/><circle cx="264.6" cy="224.42" r="1.35"/><circle cx="267.95" cy="264.03" r="1.35"/><circle cx="274.43" cy="244.35" r="1.35"/><circle cx="259.29" cy="241.31" r="1.35"/><circle cx="266.33" cy="219.19" r="1.35"/><circle cx="270.86" cy="219.5" r="1.35"/><circle cx="250.88" cy="258.87" r="1.35"/><circle cx="268.7" cy="222.96" r="1.35"/><circle cx="283.18" cy="220.67" r="1.35"/><circle cx="275.54" cy="225.11" r="1.35"/><circle cx="262.29" cy="241.37" r="1.35"/><circle cx="288.5" cy="211.46" r="1.35"/><circle cx="266.32" cy="238.29" r="1.35"/><circle cx="253.48" cy="241.09" r="1.35"/><circle cx="257.8" cy="240.9" r="1.35"/><circle cx="283.29" cy="235.11" r="1.35"/><circle cx="276.41" cy="208.19" r="1.35"/><circle cx="281.91" cy="208.54" r="1.35"/><circle cx="279.43" cy="227.23" r="1.35"/><circle cx="257.29" cy="243.23" r="1.35"/><circle cx="260.37" cy="232.7" r="1.35"/><circle cx="255.06" cy="234.36" r="1.35"/><circle cx="272.55" cy="230.69" r="1.35"/><circle cx="256.25" cy="256.43" r="1.35"/><circle cx="280.02" cy="229.83" r="1.35"/><circle cx="279.03" cy="217.54" r="1.35"/><circle cx="275.38" cy="232.2" r="1.35"/><circle cx="271.78" cy="215.88" r="1.35"/><circle cx="261.86" cy="240.68" r="1.35"/><circle cx="251.69" cy="245.18" r="1.35"/><circle cx="265.41" cy="236.19" r="1.35"/><circle cx="287.79" cy="213.35" r="1.35"/><circle cx="288.02" cy="216.27" r="1.35"/><circle cx="261.83" cy="229.05" r="1.35"/><circle cx="290.8" cy="214.7" r="1.35"/><circle cx="265.89" cy="229.04" r="1.35"/><circle cx="282.82" cy="201.82" r="1.35"/><circle cx="276.23" cy="218.87" r="1.35"/><circle cx="259.58" cy="227.17" r="1.35"/><circle cx="280.35" cy="215.35" r="1.35"/><circle cx="264.36" cy="238.7" r="1.35"/><circle cx="260.08" cy="239.24" r="1.35"/><circle cx="257.65" cy="249.76" r="1.35"/><circle cx="273.17" cy="221.33" r="1.35"/><circle cx="271.4" cy="226.81" r="1.35"/><circle cx="264.06" cy="221.66" r="1.35"/><circle cx="267.41" cy="232.3" r="1.35"/><circle cx="282.89" cy="203.49" r="1.35"/><circle cx="264.85" cy="230.63" r="1.35"/><circle cx="263.08" cy="236.47" r="1.35"/><circle cx="285.98" cy="210.04" r="1.35"/><circle cx="278.83" cy="200.67" r="1.35"/><circle cx="267.91" cy="215.49" r="1.35"/><circle cx="250.17" cy="250.9" r="1.35"/><circle cx="267.3" cy="236.79" r="1.35"/><circle cx="280.17" cy="219.16" r="1.35"/><circle cx="276.55" cy="229.17" r="1.35"/><circle cx="294.62" cy="210.15" r="1.35"/><circle cx="258.44" cy="248.36" r="1.35"/><circle cx="279" cy="216.84" r="1.35"/><circle cx="259.63" cy="231.45" r="1.35"/><circle cx="281.23" cy="204.67" r="1.35"/><circle cx="268.84" cy="225.34" r="1.35"/><circle cx="284.09" cy="213.21" r="1.35"/><circle cx="265.5" cy="236.54" r="1.35"/><circle cx="255.53" cy="247.12" r="1.35"/><circle cx="258.27" cy="242.04" r="1.35"/><circle cx="267.98" cy="237.49" r="1.35"/><circle cx="261.03" cy="242.14" r="1.35"/><circle cx="286.02" cy="211.06" r="1.35"/><circle cx="287.52" cy="209.24" r="1.35"/><circle cx="272.19" cy="220.26" r="1.35"/><circle cx="254.87" cy="237.55" r="1.35"/><circle cx="273.01" cy="229.65" r="1.35"/><circle cx="266.01" cy="237.86" r="1.35"/><circle cx="286.14" cy="205.68" r="1.35"/><circle cx="273.28" cy="220.18" r="1.35"/><circle cx="288.25" cy="228.14" r="1.35"/><circle cx="263.62" cy="229.09" r="1.35"/><circle cx="247.41" cy="255.28" r="1.35"/><circle cx="264.28" cy="238.56" r="1.35"/><circle cx="253.3" cy="238.31" r="1.35"/><circle cx="276.45" cy="221.49" r="1.35"/><circle cx="281.79" cy="231.57" r="1.35"/><circle cx="267.19" cy="241.57" r="1.35"/><circle cx="270.54" cy="234.23" r="1.35"/><circle cx="291.29" cy="207.28" r="1.35"/><circle cx="261.33" cy="240.79" r="1.35"/><circle cx="265.94" cy="243.4" r="1.35"/><circle cx="268.57" cy="228.82" r="1.35"/><circle cx="261.76" cy="234.85" r="1.35"/><circle cx="267.48" cy="232.81" r="1.35"/><circle cx="281.99" cy="222.34" r="1.35"/><circle cx="291.74" cy="204.06" r="1.35"/><circle cx="254.48" cy="255.22" r="1.35"/><circle cx="261.9" cy="218.55" r="1.35"/><circle cx="278.26" cy="230" r="1.35"/><circle cx="282.45" cy="236.19" r="1.35"/><circle cx="276.33" cy="233.9" r="1.35"/><circle cx="266.47" cy="229.88" r="1.35"/><circle cx="278.36" cy="209.31" r="1.35"/><circle cx="267.91" cy="234.02" r="1.35"/><circle cx="265.69" cy="224.14" r="1.35"/><circle cx="275.54" cy="228.77" r="1.35"/><circle cx="270.56" cy="222.55" r="1.35"/><circle cx="274.69" cy="232.23" r="1.35"/><circle cx="289.11" cy="217.81" r="1.35"/><circle cx="261.97" cy="218.37" r="1.35"/><circle cx="275.25" cy="224.79" r="1.35"/><circle cx="267.99" cy="224.1" r="1.35"/><circle cx="253.38" cy="235.64" r="1.35"/><circle cx="259.28" cy="236.07" r="1.35"/><circle cx="258.65" cy="240.89" r="1.35"/><circle cx="279.07" cy="227.36" r="1.35"/><circle cx="256.22" cy="230.88" r="1.35"/><circle cx="264.72" cy="245.9" r="1.35"/><circle cx="284.35" cy="230.51" r="1.35"/><circle cx="280.41" cy="221.25" r="1.35"/><circle cx="254.07" cy="254.45" r="1.35"/><circle cx="289.62" cy="203.31" r="1.35"/><circle cx="266.6" cy="221.08" r="1.35"/><circle cx="273.38" cy="229.62" r="1.35"/><circle cx="285.04" cy="213.18" r="1.35"/><circle cx="276.3" cy="227.86" r="1.35"/><circle cx="277.49" cy="244.85" r="1.35"/><circle cx="298.52" cy="199.38" r="1.35"/><circle cx="261.51" cy="243.71" r="1.35"/><circle cx="278.49" cy="233.42" r="1.35"/><circle cx="274.29" cy="209.52" r="1.35"/><circle cx="253.9" cy="237.65" r="1.35"/><circle cx="268.97" cy="226.1" r="1.35"/><circle cx="272.85" cy="218.32" r="1.35"/><circle cx="300.53" cy="196.48" r="1.35"/><circle cx="260.01" cy="238.16" r="1.35"/><circle cx="279.94" cy="233.36" r="1.35"/><circle cx="286.32" cy="222.98" r="1.35"/><circle cx="276.61" cy="227.85" r="1.35"/><circle cx="256.04" cy="242.54" r="1.35"/><circle cx="279.29" cy="222.89" r="1.35"/><circle cx="277.09" cy="227.66" r="1.35"/><circle cx="271.45" cy="215.96" r="1.35"/><circle cx="285.55" cy="212.17" r="1.35"/><circle cx="286.05" cy="215.12" r="1.35"/><circle cx="277.33" cy="221.36" r="1.35"/><circle cx="282.93" cy="227.84" r="1.35"/><circle cx="265.08" cy="247.08" r="1.35"/><circle cx="266.4" cy="224.86" r="1.35"/><circle cx="274.91" cy="223.52" r="1.35"/><circle cx="263.23" cy="228.81" r="1.35"/><circle cx="275.85" cy="226.9" r="1.35"/><circle cx="258.11" cy="235.05" r="1.35"/><circle cx="292.57" cy="208.97" r="1.35"/><circle cx="296.42" cy="198.65" r="1.35"/><circle cx="272.19" cy="235.54" r="1.35"/><circle cx="275.48" cy="220.08" r="1.35"/><circle cx="262.15" cy="223.95" r="1.35"/><circle cx="293.84" cy="215.82" r="1.35"/><circle cx="275.71" cy="219.51" r="1.35"/><circle cx="279.54" cy="230.22" r="1.35"/><circle cx="271.49" cy="230.99" r="1.35"/><circle cx="276.61" cy="226.88" r="1.35"/><circle cx="269.24" cy="247.96" r="1.35"/><circle cx="280.73" cy="218.25" r="1.35"/><circle cx="270.49" cy="242.03" r="1.35"/><circle cx="270.35" cy="213.17" r="1.35"/><circle cx="277.61" cy="227.59" r="1.35"/><circle cx="282.28" cy="210.41" r="1.35"/><circle cx="271.15" cy="225.74" r="1.35"/><circle cx="282.75" cy="212.33" r="1.35"/><circle cx="262.9" cy="241.13" r="1.35"/><circle cx="286.47" cy="224.16" r="1.35"/><circle cx="260.32" cy="222.28" r="1.35"/><circle cx="274.25" cy="223.57" r="1.35"/><circle cx="269.25" cy="222.3" r="1.35"/><circle cx="287.5" cy="217.91" r="1.35"/><circle cx="246.31" cy="254.62" r="1.35"/><circle cx="277.61" cy="223.42" r="1.35"/><circle cx="252.58" cy="246.86" r="1.35"/><circle cx="287.89" cy="212.38" r="1.35"/><circle cx="253.88" cy="259.41" r="1.35"/><circle cx="258.32" cy="239.51" r="1.35"/><circle cx="252.66" cy="251.25" r="1.35"/><circle cx="282.22" cy="198.62" r="1.35"/><circle cx="258.41" cy="246.46" r="1.35"/><circle cx="277.38" cy="227.74" r="1.35"/><circle cx="263.02" cy="231.9" r="1.35"/><circle cx="256.42" cy="257.22" r="1.35"/><circle cx="257.93" cy="223.14" r="1.35"/><circle cx="269.89" cy="210.06" r="1.35"/><circle cx="263.06" cy="223.46" r="1.35"/><circle cx="279.48" cy="211.54" r="1.35"/><circle cx="267.86" cy="231.49" r="1.35"/><circle cx="271.69" cy="225.61" r="1.35"/><circle cx="267.17" cy="231.51" r="1.35"/><circle cx="279.13" cy="224.16" r="1.35"/><circle cx="289.57" cy="198.76" r="1.35"/><circle cx="269.62" cy="216.32" r="1.35"/><circle cx="267.96" cy="218.65" r="1.35"/><circle cx="275.09" cy="243.32" r="1.35"/><circle cx="251.67" cy="228.33" r="1.35"/><circle cx="286.46" cy="205.71" r="1.35"/><circle cx="266.11" cy="248.22" r="1.35"/><circle cx="263.68" cy="241.52" r="1.35"/><circle cx="266.81" cy="224.29" r="1.35"/><circle cx="267.02" cy="232.39" r="1.35"/><circle cx="296.69" cy="203.09" r="1.35"/><circle cx="250.22" cy="266.04" r="1.35"/><circle cx="271.39" cy="217.73" r="1.35"/><circle cx="283.17" cy="219.36" r="1.35"/><circle cx="260.13" cy="243.74" r="1.35"/><circle cx="269.86" cy="239.87" r="1.35"/><circle cx="283.32" cy="225.51" r="1.35"/><circle cx="287.38" cy="202.86" r="1.35"/><circle cx="254.15" cy="234.25" r="1.35"/><circle cx="255.46" cy="251.16" r="1.35"/><circle cx="290.86" cy="219.75" r="1.35"/><circle cx="291.3" cy="208.2" r="1.35"/><circle cx="269.21" cy="231.89" r="1.35"/><circle cx="257.83" cy="268.31" r="1.35"/><circle cx="282.11" cy="202.58" r="1.35"/><circle cx="274.09" cy="232.42" r="1.35"/><circle cx="280.98" cy="208.77" r="1.35"/><circle cx="271.73" cy="226.84" r="1.35"/><circle cx="268.04" cy="231.97" r="1.35"/><circle cx="274.11" cy="238.55" r="1.35"/><circle cx="282.85" cy="202.69" r="1.35"/><circle cx="284.4" cy="204.74" r="1.35"/><circle cx="239.21" cy="251.93" r="1.35"/><circle cx="263.43" cy="241.88" r="1.35"/><circle cx="288.36" cy="200.44" r="1.35"/><circle cx="269.77" cy="233.11" r="1.35"/><circle cx="250.84" cy="242.27" r="1.35"/><circle cx="270.29" cy="224.57" r="1.35"/><circle cx="275.81" cy="231.59" r="1.35"/><circle cx="270.01" cy="226.79" r="1.35"/><circle cx="269.45" cy="235.57" r="1.35"/><circle cx="270.95" cy="232.66" r="1.35"/><circle cx="264.94" cy="231.48" r="1.35"/><circle cx="267.87" cy="215.57" r="1.35"/><circle cx="267.31" cy="241.93" r="1.35"/><circle cx="269.45" cy="230.99" r="1.35"/><circle cx="275.12" cy="231.91" r="1.35"/><circle cx="275.83" cy="200.83" r="1.35"/><circle cx="267.82" cy="214.68" r="1.35"/><circle cx="260.25" cy="219.46" r="1.35"/><circle cx="273.33" cy="215.47" r="1.35"/><circle cx="281.34" cy="224.54" r="1.35"/><circle cx="286.15" cy="213.59" r="1.35"/><circle cx="277.13" cy="219.08" r="1.35"/><circle cx="291.42" cy="202.47" r="1.35"/><circle cx="289.79" cy="210.89" r="1.35"/><circle cx="270.04" cy="225.46" r="1.35"/><circle cx="269.09" cy="233.72" r="1.35"/><circle cx="281.92" cy="214.71" r="1.35"/><circle cx="266.72" cy="210.73" r="1.35"/><circle cx="269.01" cy="225.95" r="1.35"/><circle cx="261.36" cy="253.3" r="1.35"/><circle cx="248.63" cy="251.92" r="1.35"/><circle cx="274.95" cy="220.79" r="1.35"/><circle cx="277.1" cy="213.36" r="1.35"/><circle cx="278.04" cy="213.39" r="1.35"/><circle cx="262.43" cy="249.56" r="1.35"/><circle cx="281.55" cy="211.08" r="1.35"/><circle cx="260.76" cy="230.1" r="1.35"/><circle cx="260.86" cy="208.92" r="1.35"/><circle cx="273.56" cy="218.23" r="1.35"/><circle cx="253" cy="230.51" r="1.35"/><circle cx="256.17" cy="227.89" r="1.35"/><circle cx="251.64" cy="260.07" r="1.35"/><circle cx="264.74" cy="242.43" r="1.35"/><circle cx="241.55" cy="245.67" r="1.35"/><circle cx="280.74" cy="223.39" r="1.35"/><circle cx="274.89" cy="226.93" r="1.35"/><circle cx="277.74" cy="210.76" r="1.35"/><circle cx="279.32" cy="224.03" r="1.35"/><circle cx="256.63" cy="229.29" r="1.35"/><circle cx="269.74" cy="216.76" r="1.35"/><circle cx="260.4" cy="226.35" r="1.35"/><circle cx="272.94" cy="213.6" r="1.35"/><circle cx="279.59" cy="225.13" r="1.35"/><circle cx="253.92" cy="235.71" r="1.35"/><circle cx="266.4" cy="221.58" r="1.35"/><circle cx="267.93" cy="221.63" r="1.35"/><circle cx="269.36" cy="231.35" r="1.35"/><circle cx="279.71" cy="212.72" r="1.35"/><circle cx="294.14" cy="206.34" r="1.35"/><circle cx="264.22" cy="228.79" r="1.35"/><circle cx="261.6" cy="226.33" r="1.35"/><circle cx="243.24" cy="257.73" r="1.35"/><circle cx="270.66" cy="228.06" r="1.35"/><circle cx="262.33" cy="228.97" r="1.35"/><circle cx="248.06" cy="259.4" r="1.35"/><circle cx="283.87" cy="229.05" r="1.35"/><circle cx="275.31" cy="215.84" r="1.35"/><circle cx="263.59" cy="237.13" r="1.35"/><circle cx="274.2" cy="236.71" r="1.35"/><circle cx="257.48" cy="237.96" r="1.35"/><circle cx="275.79" cy="212.51" r="1.35"/><circle cx="248.85" cy="244.5" r="1.35"/><circle cx="270.22" cy="232.16" r="1.35"/><circle cx="294.87" cy="201.77" r="1.35"/><circle cx="271.74" cy="224.69" r="1.35"/><circle cx="277.03" cy="219.83" r="1.35"/><circle cx="276.43" cy="232.99" r="1.35"/><circle cx="262.41" cy="246.83" r="1.35"/><circle cx="264.68" cy="221.07" r="1.35"/><circle cx="276.11" cy="220.44" r="1.35"/><circle cx="260.45" cy="241.63" r="1.35"/><circle cx="278.99" cy="224.09" r="1.35"/><circle cx="283.83" cy="208.38" r="1.35"/><circle cx="279.93" cy="209.12" r="1.35"/><circle cx="251.13" cy="247.85" r="1.35"/><circle cx="251.78" cy="233.72" r="1.35"/><circle cx="252.87" cy="249.96" r="1.35"/><circle cx="280.16" cy="209.27" r="1.35"/><circle cx="280.53" cy="219.5" r="1.35"/><circle cx="274.2" cy="212.55" r="1.35"/><circle cx="259.45" cy="237.37" r="1.35"/><circle cx="253.42" cy="239.62" r="1.35"/><circle cx="267.44" cy="220.78" r="1.35"/><circle cx="276.32" cy="227.19" r="1.35"/><circle cx="259.57" cy="236.89" r="1.35"/><circle cx="275.49" cy="225.66" r="1.35"/><circle cx="273.11" cy="212.96" r="1.35"/><circle cx="274.69" cy="223.18" r="1.35"/><circle cx="251.41" cy="234.98" r="1.35"/><circle cx="244.77" cy="255.66" r="1.35"/><circle cx="266.33" cy="227.81" r="1.35"/><circle cx="276.38" cy="225.87" r="1.35"/><circle cx="269.64" cy="230.43" r="1.35"/><circle cx="265.94" cy="231.59" r="1.35"/><circle cx="267.8" cy="239.39" r="1.35"/><circle cx="280.22" cy="216.99" r="1.35"/><circle cx="273.81" cy="228.68" r="1.35"/><circle cx="276.83" cy="227.11" r="1.35"/><circle cx="260.1" cy="240.13" r="1.35"/><circle cx="263.1" cy="234.01" r="1.35"/><circle cx="275.1" cy="224.89" r="1.35"/><circle cx="257.99" cy="239.3" r="1.35"/><circle cx="258.95" cy="246.17" r="1.35"/><circle cx="273.34" cy="234.98" r="1.35"/><circle cx="288.52" cy="213" r="1.35"/><circle cx="271.92" cy="221.82" r="1.35"/><circle cx="280.79" cy="201.38" r="1.35"/><circle cx="269.97" cy="227.58" r="1.35"/><circle cx="267.54" cy="229.99" r="1.35"/><circle cx="260.89" cy="250.89" r="1.35"/><circle cx="263.17" cy="232.99" r="1.35"/><circle cx="285.78" cy="205.8" r="1.35"/><circle cx="278.79" cy="224.24" r="1.35"/><circle cx="277.12" cy="214.18" r="1.35"/><circle cx="278.38" cy="215.77" r="1.35"/><circle cx="280.02" cy="232.5" r="1.35"/><circle cx="276.64" cy="234.56" r="1.35"/><circle cx="276.09" cy="226.62" r="1.35"/><circle cx="280.11" cy="217.85" r="1.35"/><circle cx="271.84" cy="215.99" r="1.35"/><circle cx="279.64" cy="221.36" r="1.35"/><circle cx="273.67" cy="223.98" r="1.35"/><circle cx="263.84" cy="238.19" r="1.35"/><circle cx="266.18" cy="227.76" r="1.35"/><circle cx="260.7" cy="239.87" r="1.35"/><circle cx="281.39" cy="211.66" r="1.35"/><circle cx="248.72" cy="258.49" r="1.35"/><circle cx="276.18" cy="234.52" r="1.35"/><circle cx="298.52" cy="195.22" r="1.35"/><circle cx="259.69" cy="224.62" r="1.35"/><circle cx="253.76" cy="239.11" r="1.35"/><circle cx="263.84" cy="220.05" r="1.35"/><circle cx="281.39" cy="205.52" r="1.35"/><circle cx="272.62" cy="230.35" r="1.35"/><circle cx="280.14" cy="219.13" r="1.35"/><circle cx="269.89" cy="222.2" r="1.35"/><circle cx="268.7" cy="232.42" r="1.35"/><circle cx="265.58" cy="219.45" r="1.35"/><circle cx="258.63" cy="228.5" r="1.35"/><circle cx="261.85" cy="229.88" r="1.35"/><circle cx="282.67" cy="226.13" r="1.35"/><circle cx="269.51" cy="215.23" r="1.35"/><circle cx="285.91" cy="220.21" r="1.35"/><circle cx="279.71" cy="228.98" r="1.35"/><circle cx="254.13" cy="246.55" r="1.35"/><circle cx="277.09" cy="218.5" r="1.35"/><circle cx="265.16" cy="228.1" r="1.35"/><circle cx="268.29" cy="230" r="1.35"/><circle cx="257.62" cy="250.52" r="1.35"/><circle cx="265.09" cy="234.43" r="1.35"/><circle cx="268.11" cy="240.49" r="1.35"/><circle cx="277.11" cy="230.87" r="1.35"/><circle cx="256.43" cy="248.88" r="1.35"/><circle cx="273.88" cy="226.37" r="1.35"/><circle cx="272.75" cy="223.91" r="1.35"/><circle cx="260.34" cy="243.89" r="1.35"/><circle cx="259.01" cy="230.91" r="1.35"/><circle cx="263.69" cy="240.19" r="1.35"/><circle cx="282.25" cy="214.43" r="1.35"/><circle cx="237.97" cy="260.37" r="1.35"/><circle cx="278.22" cy="239.14" r="1.35"/><circle cx="247.58" cy="246.96" r="1.35"/><circle cx="262.46" cy="228.96" r="1.35"/><circle cx="281.97" cy="215.52" r="1.35"/><circle cx="254.92" cy="227.86" r="1.35"/><circle cx="269.33" cy="220.93" r="1.35"/><circle cx="254.43" cy="232.64" r="1.35"/><circle cx="287.33" cy="196.14" r="1.35"/><circle cx="280.65" cy="213.06" r="1.35"/><circle cx="285.1" cy="211.92" r="1.35"/><circle cx="261.59" cy="249.89" r="1.35"/><circle cx="262.79" cy="245.35" r="1.35"/><circle cx="288.82" cy="215.85" r="1.35"/><circle cx="272.34" cy="230.95" r="1.35"/><circle cx="266.44" cy="227.87" r="1.35"/><circle cx="280.67" cy="225.57" r="1.35"/><circle cx="254.67" cy="242.73" r="1.35"/><circle cx="276.83" cy="213.1" r="1.35"/><circle cx="279.39" cy="231.38" r="1.35"/><circle cx="280.6" cy="222.38" r="1.35"/><circle cx="264.96" cy="236.67" r="1.35"/><circle cx="280.78" cy="221.78" r="1.35"/><circle cx="267.78" cy="239.69" r="1.35"/><circle cx="275.07" cy="207.81" r="1.35"/><circle cx="283.1" cy="210.3" r="1.35"/><circle cx="275.52" cy="209.08" r="1.35"/><circle cx="277.73" cy="219.34" r="1.35"/><circle cx="275.09" cy="214.74" r="1.35"/><circle cx="246.71" cy="271.48" r="1.35"/><circle cx="283" cy="216.58" r="1.35"/><circle cx="264.56" cy="226.8" r="1.35"/><circle cx="272.63" cy="224.45" r="1.35"/><circle cx="262.5" cy="225.42" r="1.35"/><circle cx="255.65" cy="246.77" r="1.35"/><circle cx="268.1" cy="235.94" r="1.35"/><circle cx="279.91" cy="217.97" r="1.35"/><circle cx="277.14" cy="199.44" r="1.35"/><circle cx="262.8" cy="233.84" r="1.35"/><circle cx="263.64" cy="241.26" r="1.35"/><circle cx="288.41" cy="207.5" r="1.35"/><circle cx="267.06" cy="243.42" r="1.35"/><circle cx="287.15" cy="193.1" r="1.35"/><circle cx="274.81" cy="227.1" r="1.35"/><circle cx="258.21" cy="236.53" r="1.35"/><circle cx="282.98" cy="213.34" r="1.35"/><circle cx="291.43" cy="204.65" r="1.35"/><circle cx="258.29" cy="249.88" r="1.35"/><circle cx="285.22" cy="202.7" r="1.35"/><circle cx="269.33" cy="230.7" r="1.35"/><circle cx="281.57" cy="201.41" r="1.35"/><circle cx="260.38" cy="226.1" r="1.35"/><circle cx="255.98" cy="251.51" r="1.35"/><circle cx="276.71" cy="218.85" r="1.35"/><circle cx="273.51" cy="207.19" r="1.35"/><circle cx="289.5" cy="194.46" r="1.35"/><circle cx="289.85" cy="202.76" r="1.35"/><circle cx="286.59" cy="222.4" r="1.35"/><circle cx="274.04" cy="233.33" r="1.35"/><circle cx="269.53" cy="236.62" r="1.35"/><circle cx="259.55" cy="223.38" r="1.35"/><circle cx="261.52" cy="237.85" r="1.35"/><circle cx="270.83" cy="231.71" r="1.35"/><circle cx="243.87" cy="265.38" r="1.35"/><circle cx="275.62" cy="224.97" r="1.35"/><circle cx="270.24" cy="225.32" r="1.35"/><circle cx="307.16" cy="198.11" r="1.35"/><circle cx="286.87" cy="221.25" r="1.35"/><circle cx="265.64" cy="232.61" r="1.35"/><circle cx="272.84" cy="214.47" r="1.35"/><circle cx="267.41" cy="251.97" r="1.35"/><circle cx="261.97" cy="232.69" r="1.35"/><circle cx="255.71" cy="258.31" r="1.35"/><circle cx="296.07" cy="213.82" r="1.35"/><circle cx="273.32" cy="214.23" r="1.35"/><circle cx="259.38" cy="244.49" r="1.35"/><circle cx="269.31" cy="225.36" r="1.35"/><circle cx="284.17" cy="215.02" r="1.35"/><circle cx="278.46" cy="220.37" r="1.35"/><circle cx="285.22" cy="228.08" r="1.35"/><circle cx="264.56" cy="240.87" r="1.35"/><circle cx="264.22" cy="235.28" r="1.35"/><circle cx="278.21" cy="228.8" r="1.35"/><circle cx="280.02" cy="212.41" r="1.35"/><circle cx="260.23" cy="236.79" r="1.35"/><circle cx="269.53" cy="251.11" r="1.35"/><circle cx="279.68" cy="207.32" r="1.35"/><circle cx="258.44" cy="237.84" r="1.35"/><circle cx="283.2" cy="211.51" r="1.35"/><circle cx="269.09" cy="218.49" r="1.35"/><circle cx="270.63" cy="205.92" r="1.35"/><circle cx="295.13" cy="206.44" r="1.35"/><circle cx="275.09" cy="213.56" r="1.35"/><circle cx="277.19" cy="213.31" r="1.35"/><circle cx="259.16" cy="238.1" r="1.35"/><circle cx="258.79" cy="232.44" r="1.35"/><circle cx="273.21" cy="213.05" r="1.35"/><circle cx="288.56" cy="205.84" r="1.35"/><circle cx="298" cy="216.28" r="1.35"/><circle cx="299.56" cy="197.55" r="1.35"/><circle cx="278.62" cy="224.46" r="1.35"/><circle cx="266.48" cy="217.31" r="1.35"/><circle cx="282.13" cy="212.2" r="1.35"/><circle cx="266.13" cy="221.01" r="1.35"/><circle cx="274.75" cy="229.66" r="1.35"/><circle cx="258.35" cy="240.59" r="1.35"/><circle cx="282.27" cy="212.64" r="1.35"/><circle cx="258.74" cy="241.49" r="1.35"/><circle cx="274.22" cy="216.69" r="1.35"/><circle cx="247.68" cy="241.22" r="1.35"/><circle cx="286.02" cy="213.3" r="1.35"/><circle cx="252.92" cy="235.9" r="1.35"/><circle cx="274.77" cy="209.97" r="1.35"/><circle cx="251.67" cy="248.43" r="1.35"/><circle cx="263.12" cy="229.66" r="1.35"/><circle cx="285.32" cy="210.99" r="1.35"/><circle cx="267.23" cy="241.69" r="1.35"/><circle cx="273.63" cy="225.82" r="1.35"/><circle cx="267.08" cy="233.69" r="1.35"/><circle cx="244.81" cy="260.44" r="1.35"/><circle cx="279.13" cy="224.92" r="1.35"/><circle cx="267.22" cy="212.94" r="1.35"/><circle cx="260.55" cy="243.76" r="1.35"/><circle cx="273.16" cy="214.53" r="1.35"/><circle cx="256.38" cy="232.98" r="1.35"/><circle cx="260" cy="240.82" r="1.35"/><circle cx="269.89" cy="224.2" r="1.35"/><circle cx="266.59" cy="238.2" r="1.35"/><circle cx="301.08" cy="199.27" r="1.35"/><circle cx="242.16" cy="240.18" r="1.35"/><circle cx="279.09" cy="215.61" r="1.35"/><circle cx="291.63" cy="220" r="1.35"/><circle cx="252.8" cy="258.72" r="1.35"/><circle cx="258.51" cy="257.23" r="1.35"/><circle cx="278.1" cy="218.63" r="1.35"/><circle cx="259.07" cy="227.51" r="1.35"/><circle cx="270.23" cy="216.34" r="1.35"/><circle cx="287.11" cy="213.23" r="1.35"/><circle cx="272.04" cy="235.01" r="1.35"/><circle cx="255.69" cy="238.91" r="1.35"/><circle cx="238.47" cy="265.62" r="1.35"/><circle cx="275.13" cy="224.03" r="1.35"/><circle cx="252.3" cy="233" r="1.35"/><circle cx="273.28" cy="220.24" r="1.35"/><circle cx="282.04" cy="228.85" r="1.35"/><circle cx="266.2" cy="254.85" r="1.35"/><circle cx="289.23" cy="202.27" r="1.35"/><circle cx="292" cy="218.25" r="1.35"/><circle cx="278.03" cy="212.41" r="1.35"/><circle cx="253.9" cy="240.42" r="1.35"/><circle cx="256.01" cy="223.33" r="1.35"/><circle cx="269.99" cy="237.62" r="1.35"/><circle cx="265.03" cy="230.56" r="1.35"/><circle cx="270" cy="251.54" r="1.35"/><circle cx="277.88" cy="221.22" r="1.35"/><circle cx="275.03" cy="223.43" r="1.35"/><circle cx="266.71" cy="213.99" r="1.35"/><circle cx="273.13" cy="239.08" r="1.35"/><circle cx="283.45" cy="207.1" r="1.35"/><circle cx="272.89" cy="222.65" r="1.35"/><circle cx="228.91" cy="258.35" r="1.35"/><circle cx="268.75" cy="238.9" r="1.35"/><circle cx="275.88" cy="230.41" r="1.35"/><circle cx="278.86" cy="210.54" r="1.35"/><circle cx="268.66" cy="230.64" r="1.35"/><circle cx="270.71" cy="231.02" r="1.35"/><circle cx="268.67" cy="239.38" r="1.35"/><circle cx="279.2" cy="217.27" r="1.35"/><circle cx="274.9" cy="239.06" r="1.35"/><circle cx="263.48" cy="233.89" r="1.35"/><circle cx="260.08" cy="234.58" r="1.35"/><circle cx="275.27" cy="216.55" r="1.35"/><circle cx="253.09" cy="224.08" r="1.35"/><circle cx="248.18" cy="247.8" r="1.35"/><circle cx="283.16" cy="221.29" r="1.35"/><circle cx="264.82" cy="237.3" r="1.35"/><circle cx="271.46" cy="217.88" r="1.35"/><circle cx="277.35" cy="222.12" r="1.35"/><circle cx="274.46" cy="201.96" r="1.35"/><circle cx="281.27" cy="210.71" r="1.35"/><circle cx="267.57" cy="236.4" r="1.35"/><circle cx="273.2" cy="230.95" r="1.35"/><circle cx="252.85" cy="242.15" r="1.35"/><circle cx="293.75" cy="206.81" r="1.35"/><circle cx="285.49" cy="227.01" r="1.35"/><circle cx="284.24" cy="205.48" r="1.35"/><circle cx="271.62" cy="233.4" r="1.35"/><circle cx="240.16" cy="250.53" r="1.35"/><circle cx="278.18" cy="197.79" r="1.35"/><circle cx="275.7" cy="226.89" r="1.35"/><circle cx="273.34" cy="224.18" r="1.35"/><circle cx="273.3" cy="225.82" r="1.35"/><circle cx="275.64" cy="214.94" r="1.35"/><circle cx="275.89" cy="217.53" r="1.35"/><circle cx="257.1" cy="252.71" r="1.35"/><circle cx="291.51" cy="217.8" r="1.35"/><circle cx="264.5" cy="232.89" r="1.35"/><circle cx="258.22" cy="226.49" r="1.35"/><circle cx="296.05" cy="207.53" r="1.35"/><circle cx="284.33" cy="215.77" r="1.35"/><circle cx="271.12" cy="233.47" r="1.35"/><circle cx="250.92" cy="254.29" r="1.35"/><circle cx="284.79" cy="232.51" r="1.35"/><circle cx="277.76" cy="218.88" r="1.35"/><circle cx="273.32" cy="228.97" r="1.35"/><circle cx="248.12" cy="237.38" r="1.35"/><circle cx="259.67" cy="235.43" r="1.35"/><circle cx="253.71" cy="241.97" r="1.35"/><circle cx="273.86" cy="222.8" r="1.35"/><circle cx="282.03" cy="216.16" r="1.35"/><circle cx="278.82" cy="209.21" r="1.35"/><circle cx="271.65" cy="243.38" r="1.35"/><circle cx="269" cy="218.59" r="1.35"/><circle cx="275.35" cy="216.66" r="1.35"/><circle cx="266.94" cy="234.37" r="1.35"/><circle cx="263.9" cy="223.25" r="1.35"/><circle cx="296.77" cy="199.53" r="1.35"/><circle cx="276.99" cy="225.47" r="1.35"/><circle cx="279.56" cy="212.86" r="1.35"/><circle cx="276" cy="239.61" r="1.35"/><circle cx="272.59" cy="225.56" r="1.35"/><circle cx="253.07" cy="252.55" r="1.35"/><circle cx="266.76" cy="222.51" r="1.35"/><circle cx="276.04" cy="203.44" r="1.35"/><circle cx="290.63" cy="195.28" r="1.35"/><circle cx="282.7" cy="208.55" r="1.35"/><circle cx="276.71" cy="214.86" r="1.35"/><circle cx="276.06" cy="228.03" r="1.35"/><circle cx="253.07" cy="225.67" r="1.35"/><circle cx="264.33" cy="223.87" r="1.35"/><circle cx="269.24" cy="210.62" r="1.35"/><circle cx="269.12" cy="242.68" r="1.35"/><circle cx="278.75" cy="211.15" r="1.35"/><circle cx="257.72" cy="238.57" r="1.35"/><circle cx="245.55" cy="248.24" r="1.35"/><circle cx="264.31" cy="244.39" r="1.35"/><circle cx="250.26" cy="249.17" r="1.35"/><circle cx="256.78" cy="247.2" r="1.35"/><circle cx="273.65" cy="202.87" r="1.35"/><circle cx="275.14" cy="233.28" r="1.35"/><circle cx="275.97" cy="224.39" r="1.35"/><circle cx="286.57" cy="212.4" r="1.35"/><circle cx="290.98" cy="213.66" r="1.35"/><circle cx="264.91" cy="232.63" r="1.35"/><circle cx="284.84" cy="207.37" r="1.35"/><circle cx="279.29" cy="223.4" r="1.35"/><circle cx="273.88" cy="227.4" r="1.35"/><circle cx="275.19" cy="218.95" r="1.35"/><circle cx="255.3" cy="247.32" r="1.35"/><circle cx="260.1" cy="235.65" r="1.35"/><circle cx="273.99" cy="230.16" r="1.35"/><circle cx="282.71" cy="221.21" r="1.35"/><circle cx="267.43" cy="231.4" r="1.35"/><circle cx="279.46" cy="234.9" r="1.35"/><circle cx="274.38" cy="206.95" r="1.35"/><circle cx="285.39" cy="206.01" r="1.35"/><circle cx="288.16" cy="222.08" r="1.35"/><circle cx="282.97" cy="207.21" r="1.35"/><circle cx="259.2" cy="225.75" r="1.35"/><circle cx="275.01" cy="235.74" r="1.35"/><circle cx="277.77" cy="223.64" r="1.35"/><circle cx="262.4" cy="225.76" r="1.35"/><circle cx="269.63" cy="236.37" r="1.35"/><circle cx="284.05" cy="199.77" r="1.35"/><circle cx="262.85" cy="223.7" r="1.35"/><circle cx="259.72" cy="239.7" r="1.35"/><circle cx="274.51" cy="217.45" r="1.35"/><circle cx="285.6" cy="197.03" r="1.35"/><circle cx="270.82" cy="223.34" r="1.35"/><circle cx="279.74" cy="205.48" r="1.35"/><circle cx="266.94" cy="232.6" r="1.35"/><circle cx="265.91" cy="233.09" r="1.35"/><circle cx="267.35" cy="239" r="1.35"/><circle cx="267.86" cy="226.23" r="1.35"/><circle cx="284.47" cy="196.12" r="1.35"/><circle cx="251.79" cy="238.07" r="1.35"/><circle cx="287.7" cy="202.95" r="1.35"/><circle cx="267.5" cy="246.8" r="1.35"/><circle cx="273.19" cy="232.57" r="1.35"/><circle cx="277.38" cy="212.17" r="1.35"/><circle cx="282.98" cy="220.98" r="1.35"/><circle cx="269.04" cy="217.6" r="1.35"/><circle cx="257.44" cy="254.39" r="1.35"/><circle cx="273.68" cy="219.5" r="1.35"/><circle cx="263.58" cy="244.07" r="1.35"/><circle cx="301.71" cy="193.79" r="1.35"/><circle cx="267.92" cy="227.95" r="1.35"/><circle cx="275.35" cy="224.55" r="1.35"/><circle cx="253.13" cy="238.91" r="1.35"/><circle cx="265.81" cy="232.71" r="1.35"/><circle cx="261.98" cy="249.3" r="1.35"/><circle cx="302.12" cy="228.35" r="1.35"/><circle cx="272.15" cy="232.43" r="1.35"/><circle cx="278.09" cy="218.62" r="1.35"/><circle cx="258.8" cy="232.2" r="1.35"/><circle cx="271.1" cy="237.38" r="1.35"/><circle cx="277.14" cy="202.23" r="1.35"/><circle cx="256.47" cy="237.3" r="1.35"/><circle cx="252.46" cy="254.17" r="1.35"/><circle cx="270.12" cy="215.77" r="1.35"/><circle cx="265.97" cy="248.81" r="1.35"/><circle cx="271.99" cy="236.59" r="1.35"/><circle cx="278.53" cy="211.44" r="1.35"/><circle cx="259.48" cy="235.95" r="1.35"/><circle cx="274.51" cy="209.01" r="1.35"/><circle cx="256.94" cy="230.66" r="1.35"/><circle cx="289.54" cy="207.55" r="1.35"/><circle cx="288.7" cy="210.46" r="1.35"/><circle cx="267.98" cy="234.23" r="1.35"/><circle cx="270.58" cy="230.03" r="1.35"/><circle cx="259.3" cy="236.13" r="1.35"/><circle cx="275.63" cy="224.52" r="1.35"/><circle cx="276.59" cy="204.79" r="1.35"/><circle cx="254.89" cy="247.52" r="1.35"/><circle cx="288.6" cy="219.18" r="1.35"/><circle cx="262.77" cy="250.71" r="1.35"/><circle cx="259.45" cy="236.92" r="1.35"/><circle cx="249.23" cy="251.31" r="1.35"/><circle cx="300.56" cy="202.9" r="1.35"/><circle cx="281.15" cy="231.88" r="1.35"/><circle cx="267" cy="216.81" r="1.35"/><circle cx="261.78" cy="234.31" r="1.35"/><circle cx="284.09" cy="212.43" r="1.35"/><circle cx="253.15" cy="261.98" r="1.35"/><circle cx="267.95" cy="222.26" r="1.35"/><circle cx="298.02" cy="198.72" r="1.35"/><circle cx="265.83" cy="230.39" r="1.35"/><circle cx="283.61" cy="234.7" r="1.35"/><circle cx="280.92" cy="218.47" r="1.35"/><circle cx="261.62" cy="237.46" r="1.35"/><circle cx="270.37" cy="224.24" r="1.35"/><circle cx="287.01" cy="217" r="1.35"/><circle cx="277.14" cy="225.83" r="1.35"/><circle cx="270.35" cy="216.71" r="1.35"/></g>
<g fill="#1a1aff" fill-opacity="0.3"><circle cx="263.95" cy="210.04" r="1.35"/><circle cx="236.7" cy="259.68" r="1.35"/><circle cx="247.76" cy="241.58" r="1.35"/><circle cx="244" cy="263.35" r="1.35"/><circle cx="222.84" cy="248.25" r="1.35"/><circle cx="261.3" cy="248.99" r="1.35"/><circle cx="255" cy="257.51" r="1.35"/><circle cx="279.61" cy="208.8" r="1.35"/><circle cx="274.16" cy="192.89" r="1.35"/><circle cx="264.74" cy="231.12" r="1.35"/><circle cx="240.18" cy="252.32" r="1.35"/><circle cx="292.14" cy="206.62" r="1.35"/><circle cx="224.18" cy="281.32" r="1.35"/><circle cx="233.68" cy="284.49" r="1.35"/><circle cx="281.39" cy="201.54" r="1.35"/><circle cx="297.04" cy="216.85" r="1.35"/><circle cx="255.92" cy="223.16" r="1.35"/><circle cx="246.42" cy="263.71" r="1.35"/><circle cx="244.86" cy="227.99" r="1.35"/><circle cx="288.71" cy="214.2" r="1.35"/><circle cx="241.82" cy="237.42" r="1.35"/><circle cx="263.12" cy="233.97" r="1.35"/><circle cx="250.8" cy="240.23" r="1.35"/><circle cx="255.54" cy="238.64" r="1.35"/><circle cx="280.19" cy="212.88" r="1.35"/><circle cx="274.83" cy="217.11" r="1.35"/><circle cx="255.83" cy="238.82" r="1.35"/><circle cx="268.32" cy="246.71" r="1.35"/><circle cx="264.29" cy="231.67" r="1.35"/><circle cx="271.86" cy="212.76" r="1.35"/><circle cx="261.74" cy="243.59" r="1.35"/><circle cx="272.38" cy="228.97" r="1.35"/><circle cx="252.22" cy="258.56" r="1.35"/><circle cx="264.68" cy="247.92" r="1.35"/><circle cx="270.66" cy="214.58" r="1.35"/><circle cx="284.81" cy="215.3" r="1.35"/><circle cx="262.84" cy="244.18" r="1.35"/><circle cx="261.9" cy="234.65" r="1.35"/><circle cx="280.04" cy="213.74" r="1.35"/><circle cx="252.44" cy="218.47" r="1.35"/><circle cx="261.86" cy="229.29" r="1.35"/><circle cx="284.16" cy="223" r="1.35"/><circle cx="264.43" cy="214.58" r="1.35"/><circle cx="279.77" cy="206.72" r="1.35"/><circle cx="280.2" cy="213.94" r="1.35"/><circle cx="266.73" cy="233.88" r="1.35"/><circle cx="276.65" cy="231.14" r="1.35"/><circle cx="261.79" cy="218.18" r="1.35"/><circle cx="255.62" cy="243.09" r="1.35"/><circle cx="263.61" cy="240.56" r="1.35"/><circle cx="274.75" cy="205.82" r="1.35"/><circle cx="252.67" cy="246.08" r="1.35"/><circle cx="289.61" cy="216.93" r="1.35"/><circle cx="279.56" cy="224.44" r="1.35"/><circle cx="271.44" cy="227.52" r="1.35"/><circle cx="264.26" cy="207" r="1.35"/><circle cx="274.96" cy="216.7" r="1.35"/><circle cx="285.02" cy="208.7" r="1.35"/><circle cx="264.66" cy="228.21" r="1.35"/><circle cx="267.69" cy="226.62" r="1.35"/><circle cx="281.89" cy="238.12" r="1.35"/><circle cx="289.35" cy="197.49" r="1.35"/><circle cx="276.06" cy="207.39" r="1.35"/><circle cx="261.36" cy="237.62" r="1.35"/><circle cx="265.38" cy="227.22" r="1.35"/><circle cx="261.27" cy="232.53" r="1.35"/><circle cx="270.29" cy="223.09" r="1.35"/><circle cx="276.35" cy="223.44" r="1.35"/><circle cx="295.74" cy="193.58" r="1.35"/><circle cx="244.76" cy="245.27" r="1.35"/><circle cx="280.77" cy="209.25" r="1.35"/><circle cx="277.33" cy="219.37" r="1.35"/><circle cx="260.61" cy="231.9" r="1.35"/><circle cx="274.14" cy="229.8" r="1.35"/><circle cx="268.6" cy="233.4" r="1.35"/><circle cx="266.58" cy="219.32" r="1.35"/><circle cx="282.62" cy="211.14" r="1.35"/><circle cx="262.75" cy="252.25" r="1.35"/><circle cx="291.51" cy="211.45" r="1.35"/><circle cx="266.16" cy="228.67" r="1.35"/><circle cx="290.47" cy="206.53" r="1.35"/><circle cx="271.84" cy="215.57" r="1.35"/><circle cx="276.93" cy="201.77" r="1.35"/><circle cx="279.08" cy="217.88" r="1.35"/><circle cx="283.13" cy="209.8" r="1.35"/><circle cx="273.55" cy="224.58" r="1.35"/><circle cx="261.24" cy="235.26" r="1.35"/><circle cx="279.16" cy="215.62" r="1.35"/><circle cx="275.74" cy="212.1" r="1.35"/><circle cx="294.82" cy="196.98" r="1.35"/><circle cx="252.14" cy="254.98" r="1.35"/><circle cx="268.15" cy="226.1" r="1.35"/><circle cx="285.49" cy="212.12" r="1.35"/><circle cx="248.59" cy="235" r="1.35"/><circle cx="264.49" cy="223.92" r="1.35"/><circle cx="299.46" cy="200.18" r="1.35"/><circle cx="293.56" cy="210.72" r="1.35"/><circle cx="262" cy="236.88" r="1.35"/><circle cx="285.14" cy="203.93" r="1.35"/><circle cx="277.28" cy="203.02" r="1.35"/><circle cx="280.47" cy="214.3" r="1.35"/><circle cx="278.21" cy="221.1" r="1.35"/><circle cx="266.39" cy="214.94" r="1.35"/><circle cx="263.54" cy="237.81" r="1.35"/><circle cx="267.16" cy="232.54" r="1.35"/><circle cx="280.37" cy="215.16" r="1.35"/><circle cx="267" cy="217.5" r="1.35"/><circle cx="292.55" cy="200.52" r="1.35"/><circle cx="260.11" cy="222.83" r="1.35"/><circle cx="250.81" cy="262.86" r="1.35"/><circle cx="267.57" cy="228.66" r="1.35"/><circle cx="268.28" cy="215.52" r="1.35"/><circle cx="280.85" cy="223.07" r="1.35"/><circle cx="276.68" cy="226.61" r="1.35"/><circle cx="258.57" cy="232.78" r="1.35"/><circle cx="296.44" cy="211.2" r="1.35"/><circle cx="258.72" cy="229.26" r="1.35"/><circle cx="279.59" cy="214.96" r="1.35"/><circle cx="272.9" cy="231.7" r="1.35"/><circle cx="247.02" cy="232.3" r="1.35"/><circle cx="290.1" cy="207.98" r="1.35"/><circle cx="242.55" cy="258.8" r="1.35"/><circle cx="261.18" cy="235.42" r="1.35"/><circle cx="270.33" cy="213.71" r="1.35"/><circle cx="268.27" cy="229.62" r="1.35"/><circle cx="273.52" cy="209.32" r="1.35"/><circle cx="265.18" cy="221.32" r="1.35"/><circle cx="263.65" cy="228.19" r="1.35"/><circle cx="287.77" cy="189.97" r="1.35"/><circle cx="275.48" cy="232.08" r="1.35"/><circle cx="262.91" cy="220.84" r="1.35"/><circle cx="255.28" cy="236.01" r="1.35"/><circle cx="261" cy="232.82" r="1.35"/><circle cx="277.58" cy="214.61" r="1.35"/><circle cx="280.29" cy="218.57" r="1.35"/><circle cx="274.51" cy="226.21" r="1.35"/><circle cx="261.61" cy="232.17" r="1.35"/><circle cx="276.21" cy="212.72" r="1.35"/><circle cx="252.04" cy="247.6" r="1.35"/><circle cx="270.74" cy="231.08" r="1.35"/><circle cx="271.17" cy="229.36" r="1.35"/><circle cx="259.04" cy="233.44" r="1.35"/><circle cx="262.99" cy="213.86" r="1.35"/><circle cx="273.18" cy="240.39" r="1.35"/><circle cx="266.24" cy="238.05" r="1.35"/><circle cx="290.89" cy="200.02" r="1.35"/><circle cx="280.14" cy="214.51" r="1.35"/><circle cx="281.01" cy="205.28" r="1.35"/><circle cx="266.8" cy="218.95" r="1.35"/><circle cx="279.42" cy="209.09" r="1.35"/><circle cx="278.01" cy="211.93" r="1.35"/><circle cx="280.7" cy="204.69" r="1.35"/><circle cx="289" cy="186.24" r="1.35"/><circle cx="266.92" cy="225.27" r="1.35"/><circle cx="276.22" cy="221.74" r="1.35"/><circle cx="268.04" cy="222.12" r="1.35"/><circle cx="232.02" cy="273.1" r="1.35"/><circle cx="245.94" cy="235.56" r="1.35"/><circle cx="270.15" cy="222.13" r="1.35"/><circle cx="276.98" cy="214.2" r="1.35"/><circle cx="258.92" cy="226.91" r="1.35"/><circle cx="274.9" cy="201.72" r="1.35"/><circle cx="286.24" cy="207.37" r="1.35"/><circle cx="262.64" cy="226.07" r="1.35"/><circle cx="288.07" cy="205.75" r="1.35"/><circle cx="287.35" cy="198.11" r="1.35"/><circle cx="278.65" cy="219.08" r="1.35"/><circle cx="258.52" cy="235.78" r="1.35"/><circle cx="279.44" cy="198.01" r="1.35"/><circle cx="268.75" cy="225.07" r="1.35"/><circle cx="265.28" cy="227.23" r="1.35"/><circle cx="275.19" cy="223.83" r="1.35"/><circle cx="262.95" cy="229.05" r="1.35"/><circle cx="280.41" cy="207.26" r="1.35"/><circle cx="283.05" cy="215.68" r="1.35"/><circle cx="289.08" cy="210.85" r="1.35"/><circle cx="280.55" cy="217.94" r="1.35"/><circle cx="266.94" cy="237.98" r="1.35"/><circle cx="271.31" cy="226.89" r="1.35"/><circle cx="283.68" cy="214.02" r="1.35"/><circle cx="270.5" cy="231.91" r="1.35"/><circle cx="303.41" cy="185.33" r="1.35"/><circle cx="268.6" cy="226.66" r="1.35"/><circle cx="265.15" cy="231.83" r="1.35"/><circle cx="294.02" cy="216.2" r="1.35"/><circle cx="278.89" cy="213.03" r="1.35"/><circle cx="269.61" cy="222.55" r="1.35"/><circle cx="266.78" cy="224.97" r="1.35"/><circle cx="275.31" cy="217.17" r="1.35"/><circle cx="280.86" cy="212.68" r="1.35"/><circle cx="273.81" cy="208.74" r="1.35"/><circle cx="258.6" cy="220.21" r="1.35"/><circle cx="276.87" cy="218.27" r="1.35"/><circle cx="272.49" cy="205.96" r="1.35"/><circle cx="280.19" cy="213.68" r="1.35"/><circle cx="237.44" cy="267.28" r="1.35"/><circle cx="266.4" cy="239.74" r="1.35"/><circle cx="270.04" cy="239.97" r="1.35"/><circle cx="270.13" cy="227.58" r="1.35"/><circle cx="270.34" cy="218.62" r="1.35"/><circle cx="275.27" cy="206.46" r="1.35"/><circle cx="273.85" cy="211.9" r="1.35"/><circle cx="269.78" cy="224.94" r="1.35"/><circle cx="261.78" cy="215.3" r="1.35"/><circle cx="289.76" cy="199.7" r="1.35"/><circle cx="264.15" cy="231.65" r="1.35"/><circle cx="277.13" cy="221.22" r="1.35"/><circle cx="285.86" cy="200.83" r="1.35"/><circle cx="275.09" cy="218.73" r="1.35"/><circle cx="244.99" cy="249.36" r="1.35"/><circle cx="272.8" cy="216.32" r="1.35"/><circle cx="258.6" cy="222.16" r="1.35"/><circle cx="270.31" cy="225.05" r="1.35"/><circle cx="289.08" cy="214.45" r="1.35"/><circle cx="276.66" cy="217.29" r="1.35"/><circle cx="269.75" cy="228.05" r="1.35"/><circle cx="275.85" cy="207.55" r="1.35"/><circle cx="282.1" cy="222.28" r="1.35"/><circle cx="268.59" cy="218.85" r="1.35"/><circle cx="277.81" cy="221.83" r="1.35"/><circle cx="274.14" cy="219.99" r="1.35"/><circle cx="262.85" cy="224.39" r="1.35"/><circle cx="270.61" cy="233.18" r="1.35"/><circle cx="271.33" cy="222.72" r="1.35"/><circle cx="261.24" cy="237.17" r="1.35"/><circle cx="259.12" cy="242.47" r="1.35"/><circle cx="284.52" cy="205.5" r="1.35"/><circle cx="266.61" cy="225.05" r="1.35"/><circle cx="272.86" cy="225.01" r="1.35"/><circle cx="267.65" cy="223.47" r="1.35"/><circle cx="271.54" cy="222.92" r="1.35"/><circle cx="268.19" cy="220.31" r="1.35"/><circle cx="264.87" cy="216.81" r="1.35"/><circle cx="259" cy="232.01" r="1.35"/><circle cx="278.49" cy="208.75" r="1.35"/><circle cx="263.4" cy="232.87" r="1.35"/><circle cx="287.24" cy="213.37" r="1.35"/><circle cx="242.01" cy="244.18" r="1.35"/><circle cx="259.82" cy="238.52" r="1.35"/><circle cx="271.27" cy="201.81" r="1.35"/><circle cx="264.58" cy="221.37" r="1.35"/><circle cx="261.25" cy="230.71" r="1.35"/><circle cx="264.63" cy="209.93" r="1.35"/><circle cx="250.92" cy="231.2" r="1.35"/><circle cx="272.51" cy="222.52" r="1.35"/><circle cx="246.81" cy="254.7" r="1.35"/><circle cx="265.47" cy="229.01" r="1.35"/><circle cx="260.13" cy="229.35" r="1.35"/><circle cx="286.49" cy="223.46" r="1.35"/><circle cx="279.43" cy="210.69" r="1.35"/><circle cx="257.59" cy="232.04" r="1.35"/><circle cx="295.51" cy="207.44" r="1.35"/><circle cx="267.25" cy="233.59" r="1.35"/><circle cx="246.52" cy="250.84" r="1.35"/><circle cx="250.08" cy="261.01" r="1.35"/><circle cx="287.82" cy="202.94" r="1.35"/><circle cx="272.97" cy="226.54" r="1.35"/><circle cx="264.9" cy="233.02" r="1.35"/><circle cx="258.01" cy="229.94" r="1.35"/><circle cx="263.34" cy="241.96" r="1.35"/><circle cx="285.89" cy="205.46" r="1.35"/><circle cx="265.46" cy="220.59" r="1.35"/><circle cx="286.25" cy="196.29" r="1.35"/><circle cx="273.16" cy="229.23" r="1.35"/><circle cx="243.27" cy="255.02" r="1.35"/><circle cx="280.05" cy="211.85" r="1.35"/><circle cx="269.91" cy="230.56" r="1.35"/><circle cx="268.96" cy="226.82" r="1.35"/><circle cx="280.43" cy="196.55" r="1.35"/><circle cx="270.99" cy="229.01" r="1.35"/><circle cx="287.45" cy="210.78" r="1.35"/><circle cx="274.91" cy="226.17" r="1.35"/><circle cx="270.06" cy="239.44" r="1.35"/><circle cx="277.97" cy="217.5" r="1.35"/><circle cx="267.89" cy="234.29" r="1.35"/><circle cx="291.12" cy="212.22" r="1.35"/><circle cx="279.72" cy="209.1" r="1.35"/><circle cx="279.59" cy="228.36" r="1.35"/><circle cx="285.31" cy="221.02" r="1.35"/><circle cx="280.49" cy="218.23" r="1.35"/><circle cx="276.35" cy="233.48" r="1.35"/><circle cx="284.26" cy="214.05" r="1.35"/><circle cx="264.46" cy="223.08" r="1.35"/><circle cx="282.65" cy="218.81" r="1.35"/><circle cx="261.96" cy="237.65" r="1.35"/><circle cx="273.96" cy="223.11" r="1.35"/><circle cx="276.06" cy="217.98" r="1.35"/><circle cx="268.48" cy="239.04" r="1.35"/><circle cx="268.93" cy="230.85" r="1.35"/><circle cx="261.93" cy="228.05" r="1.35"/><circle cx="280.87" cy="214.95" r="1.35"/><circle cx="266.39" cy="235.77" r="1.35"/><circle cx="272.31" cy="214.49" r="1.35"/><circle cx="285.02" cy="200.97" r="1.35"/><circle cx="273.03" cy="216.79" r="1.35"/><circle cx="250.42" cy="243.62" r="1.35"/><circle cx="273.97" cy="222.49" r="1.35"/><circle cx="286.61" cy="212.61" r="1.35"/><circle cx="276.55" cy="233.73" r="1.35"/><circle cx="288.14" cy="212.32" r="1.35"/><circle cx="282.21" cy="218.28" r="1.35"/><circle cx="280.71" cy="221.35" r="1.35"/><circle cx="274.29" cy="231.37" r="1.35"/><circle cx="263.69" cy="228.81" r="1.35"/><circle cx="271.42" cy="228.99" r="1.35"/><circle cx="273.22" cy="223.19" r="1.35"/><circle cx="275.98" cy="215.41" r="1.35"/><circle cx="273.42" cy="215.62" r="1.35"/><circle cx="265.46" cy="225.33" r="1.35"/><circle cx="270.56" cy="221.03" r="1.35"/><circle cx="269.52" cy="213.26" r="1.35"/><circle cx="255.5" cy="247.76" r="1.35"/><circle cx="262.51" cy="233.66" r="1.35"/><circle cx="262.76" cy="234.55" r="1.35"/><circle cx="270.42" cy="226.93" r="1.35"/><circle cx="271.4" cy="229.32" r="1.35"/><circle cx="265.58" cy="224.37" r="1.35"/><circle cx="260.99" cy="234.82" r="1.35"/><circle cx="270.83" cy="208.07" r="1.35"/><circle cx="263.9" cy="211.17" r="1.35"/><circle cx="244.08" cy="239.17" r="1.35"/><circle cx="278.31" cy="228.12" r="1.35"/><circle cx="250.33" cy="232.25" r="1.35"/><circle cx="291.13" cy="201.68" r="1.35"/><circle cx="272.87" cy="234.53" r="1.35"/><circle cx="264.71" cy="226.74" r="1.35"/><circle cx="279.49" cy="227.49" r="1.35"/><circle cx="277.4" cy="232.21" r="1.35"/><circle cx="274.85" cy="226.98" r="1.35"/><circle cx="298.21" cy="210.53" r="1.35"/><circle cx="276.38" cy="221.98" r="1.35"/><circle cx="276.58" cy="208.99" r="1.35"/><circle cx="285.37" cy="209.55" r="1.35"/><circle cx="258.37" cy="235.01" r="1.35"/><circle cx="282.92" cy="195.5" r="1.35"/><circle cx="272.57" cy="209.01" r="1.35"/><circle cx="291.78" cy="218.22" r="1.35"/><circle cx="259.17" cy="233.08" r="1.35"/><circle cx="279.65" cy="211.75" r="1.35"/><circle cx="272.51" cy="214.88" r="1.35"/><circle cx="265.91" cy="230.88" r="1.35"/><circle cx="294.03" cy="191.36" r="1.35"/><circle cx="275.29" cy="213.73" r="1.35"/><circle cx="263.06" cy="221.85" r="1.35"/><circle cx="266.81" cy="215.15" r="1.35"/><circle cx="277.37" cy="207.94" r="1.35"/><circle cx="284.42" cy="208.7" r="1.35"/><circle cx="286.83" cy="222.42" r="1.35"/><circle cx="288.81" cy="210.25" r="1.35"/><circle cx="294.98" cy="209.61" r="1.35"/><circle cx="259.81" cy="242.03" r="1.35"/><circle cx="265.5" cy="229.36" r="1.35"/><circle cx="254.82" cy="231.38" r="1.35"/><circle cx="272.3" cy="221.5" r="1.35"/><circle cx="276.58" cy="195.8" r="1.35"/><circle cx="276.75" cy="212.97" r="1.35"/><circle cx="267.15" cy="243.43" r="1.35"/><circle cx="269.55" cy="228.12" r="1.35"/><circle cx="287.21" cy="213.05" r="1.35"/><circle cx="263.67" cy="228.96" r="1.35"/><circle cx="263.95" cy="219.24" r="1.35"/><circle cx="272.3" cy="217.01" r="1.35"/><circle cx="249.32" cy="247.21" r="1.35"/><circle cx="284.97" cy="216.67" r="1.35"/><circle cx="283.92" cy="225.28" r="1.35"/><circle cx="273.87" cy="212.55" r="1.35"/><circle cx="258.84" cy="235.39" r="1.35"/><circle cx="262.15" cy="233.17" r="1.35"/><circle cx="263.12" cy="230.02" r="1.35"/><circle cx="268.25" cy="215.02" r="1.35"/><circle cx="272.48" cy="222.21" r="1.35"/><circle cx="274.31" cy="222.4" r="1.35"/><circle cx="291.84" cy="200.2" r="1.35"/><circle cx="279.47" cy="201.02" r="1.35"/><circle cx="262.85" cy="232.6" r="1.35"/><circle cx="256.14" cy="225.86" r="1.35"/><circle cx="293.46" cy="203.1" r="1.35"/><circle cx="263.17" cy="223.66" r="1.35"/><circle cx="284.51" cy="203.38" r="1.35"/><circle cx="286.01" cy="199.81" r="1.35"/><circle cx="262.67" cy="228.42" r="1.35"/><circle cx="263.52" cy="222.86" r="1.35"/><circle cx="264.13" cy="215.41" r="1.35"/><circle cx="269.7" cy="241.26" r="1.35"/><circle cx="261.68" cy="237.6" r="1.35"/><circle cx="268.12" cy="229.46" r="1.35"/><circle cx="289.86" cy="218.91" r="1.35"/><circle cx="265.93" cy="228.82" r="1.35"/><circle cx="271.6" cy="227.72" r="1.35"/><circle cx="266.3" cy="229.5" r="1.35"/><circle cx="261.66" cy="246.42" r="1.35"/><circle cx="289.18" cy="204.75" r="1.35"/><circle cx="246.84" cy="257.17" r="1.35"/><circle cx="262.95" cy="231.19" r="1.35"/><circle cx="278.48" cy="216.36" r="1.35"/><circle cx="261.22" cy="246.78" r="1.35"/><circle cx="268.19" cy="207.33" r="1.35"/><circle cx="283.87" cy="205.61" r="1.35"/><circle cx="259.93" cy="233.53" r="1.35"/><circle cx="272.17" cy="218.98" r="1.35"/><circle cx="250.03" cy="231.53" r="1.35"/><circle cx="280" cy="218.67" r="1.35"/><circle cx="268.41" cy="218.65" r="1.35"/><circle cx="272.57" cy="219.16" r="1.35"/><circle cx="283.35" cy="202.75" r="1.35"/><circle cx="268.65" cy="210.58" r="1.35"/><circle cx="283.4" cy="203.23" r="1.35"/><circle cx="269.57" cy="207.78" r="1.35"/><circle cx="253.76" cy="236.49" r="1.35"/><circle cx="272.65" cy="218.23" r="1.35"/><circle cx="276.45" cy="216.28" r="1.35"/><circle cx="255.6" cy="243.54" r="1.35"/><circle cx="284.68" cy="204.5" r="1.35"/><circle cx="281.84" cy="229.58" r="1.35"/><circle cx="277.2" cy="219.48" r="1.35"/><circle cx="255.85" cy="231.2" r="1.35"/><circle cx="269.32" cy="219.7" r="1.35"/><circle cx="271.49" cy="216.49" r="1.35"/><circle cx="266.94" cy="226.84" r="1.35"/><circle cx="269.44" cy="219.62" r="1.35"/><circle cx="243.97" cy="249.86" r="1.35"/><circle cx="293.14" cy="210.5" r="1.35"/><circle cx="259.22" cy="238.81" r="1.35"/><circle cx="245.64" cy="252.6" r="1.35"/><circle cx="259.57" cy="235.57" r="1.35"/><circle cx="261.12" cy="233.92" r="1.35"/><circle cx="283.41" cy="220.56" r="1.35"/><circle cx="263.42" cy="237.52" r="1.35"/><circle cx="279.46" cy="223.07" r="1.35"/><circle cx="246.48" cy="225.33" r="1.35"/><circle cx="295.94" cy="194.47" r="1.35"/><circle cx="281.9" cy="219.35" r="1.35"/><circle cx="300.84" cy="203.72" r="1.35"/><circle cx="260.25" cy="237.36" r="1.35"/><circle cx="270.45" cy="207.86" r="1.35"/><circle cx="263.45" cy="238.53" r="1.35"/><circle cx="274.66" cy="213" r="1.35"/><circle cx="270.25" cy="207.41" r="1.35"/><circle cx="250.86" cy="243.28" r="1.35"/><circle cx="263.58" cy="242.77" r="1.35"/><circle cx="263.92" cy="243.72" r="1.35"/><circle cx="257.98" cy="246.79" r="1.35"/><circle cx="258.45" cy="229.52" r="1.35"/><circle cx="272.21" cy="245.51" r="1.35"/><circle cx="249.98" cy="239.23" r="1.35"/><circle cx="272" cy="221.33" r="1.35"/><circle cx="270.43" cy="210.46" r="1.35"/><circle cx="262.78" cy="246.27" r="1.35"/><circle cx="267.2" cy="232.42" r="1.35"/><circle cx="275.46" cy="226.01" r="1.35"/><circle cx="269.17" cy="226.55" r="1.35"/><circle cx="263.25" cy="232.64" r="1.35"/><circle cx="280.59" cy="212.72" r="1.35"/><circle cx="271.55" cy="204.87" r="1.35"/><circle cx="282.97" cy="217.41" r="1.35"/><circle cx="273.18" cy="229.18" r="1.35"/><circle cx="290.31" cy="194.96" r="1.35"/><circle cx="289.47" cy="199.62" r="1.35"/><circle cx="268.23" cy="229.74" r="1.35"/><circle cx="277.16" cy="230.29" r="1.35"/><circle cx="285.72" cy="208.61" r="1.35"/><circle cx="262.65" cy="234.48" r="1.35"/><circle cx="273.15" cy="215.84" r="1.35"/><circle cx="264.92" cy="217.01" r="1.35"/><circle cx="260.79" cy="230.84" r="1.35"/><circle cx="269.07" cy="226.54" r="1.35"/><circle cx="252.74" cy="244.4" r="1.35"/><circle cx="265.64" cy="230.98" r="1.35"/><circle cx="252.6" cy="253.98" r="1.35"/><circle cx="297.16" cy="194.03" r="1.35"/><circle cx="288.32" cy="203.84" r="1.35"/><circle cx="287.16" cy="208.92" r="1.35"/><circle cx="275.31" cy="219.66" r="1.35"/><circle cx="281.61" cy="209.56" r="1.35"/><circle cx="286.76" cy="207.68" r="1.35"/><circle cx="274.03" cy="203.27" r="1.35"/><circle cx="286.63" cy="215.23" r="1.35"/><circle cx="255.29" cy="231.39" r="1.35"/><circle cx="279.6" cy="220.32" r="1.35"/><circle cx="265.43" cy="230.7" r="1.35"/><circle cx="263.27" cy="243.78" r="1.35"/><circle cx="258.8" cy="239.4" r="1.35"/><circle cx="271.44" cy="213.99" r="1.35"/><circle cx="287.21" cy="212.82" r="1.35"/><circle cx="256.97" cy="243.16" r="1.35"/><circle cx="290.09" cy="200.15" r="1.35"/><circle cx="287.02" cy="203.72" r="1.35"/><circle cx="271.64" cy="232.09" r="1.35"/><circle cx="269.88" cy="232.61" r="1.35"/><circle cx="271.52" cy="224.98" r="1.35"/><circle cx="274.45" cy="204.45" r="1.35"/><circle cx="265.18" cy="227.12" r="1.35"/><circle cx="259.49" cy="239.21" r="1.35"/><circle cx="283.06" cy="224.95" r="1.35"/><circle cx="250.14" cy="253.82" r="1.35"/><circle cx="272.31" cy="220.94" r="1.35"/><circle cx="288.86" cy="211.91" r="1.35"/><circle cx="273.95" cy="218.68" r="1.35"/><circle cx="279.29" cy="212.62" r="1.35"/><circle cx="277.14" cy="217.12" r="1.35"/><circle cx="272.02" cy="208.08" r="1.35"/><circle cx="277.15" cy="224.66" r="1.35"/><circle cx="264" cy="236.47" r="1.35"/><circle cx="267.47" cy="225.37" r="1.35"/><circle cx="265.22" cy="220.15" r="1.35"/><circle cx="285.4" cy="207.09" r="1.35"/><circle cx="294.67" cy="206.41" r="1.35"/><circle cx="272.72" cy="215.27" r="1.35"/><circle cx="258.06" cy="230.08" r="1.35"/><circle cx="265.09" cy="235.05" r="1.35"/><circle cx="261.88" cy="220.16" r="1.35"/><circle cx="275.64" cy="196.66" r="1.35"/><circle cx="272.72" cy="217.13" r="1.35"/><circle cx="267.49" cy="221.52" r="1.35"/><circle cx="261.51" cy="233.06" r="1.35"/><circle cx="277.97" cy="209.41" r="1.35"/><circle cx="275.81" cy="220.51" r="1.35"/><circle cx="269.69" cy="223.13" r="1.35"/><circle cx="269.6" cy="219.68" r="1.35"/><circle cx="286.82" cy="198.98" r="1.35"/><circle cx="272.37" cy="227.73" r="1.35"/><circle cx="293.32" cy="204.01" r="1.35"/><circle cx="288.4" cy="209.79" r="1.35"/><circle cx="275" cy="224.99" r="1.35"/><circle cx="265.44" cy="199.59" r="1.35"/><circle cx="265.31" cy="221.39" r="1.35"/><circle cx="260.65" cy="233.83" r="1.35"/><circle cx="269.24" cy="227.74" r="1.35"/><circle cx="253.82" cy="230.3" r="1.35"/><circle cx="283.12" cy="221.44" r="1.35"/><circle cx="272.81" cy="224.1" r="1.35"/><circle cx="274.37" cy="213.39" r="1.35"/><circle cx="280.67" cy="212.72" r="1.35"/><circle cx="235.11" cy="266.23" r="1.35"/><circle cx="271.06" cy="216.33" r="1.35"/><circle cx="253.62" cy="250.58" r="1.35"/><circle cx="270.94" cy="219.36" r="1.35"/><circle cx="255.1" cy="230.62" r="1.35"/><circle cx="269.46" cy="219.55" r="1.35"/><circle cx="285.04" cy="204.51" r="1.35"/><circle cx="247.42" cy="243.58" r="1.35"/><circle cx="279.04" cy="225.17" r="1.35"/><circle cx="265.43" cy="220.44" r="1.35"/><circle cx="258.34" cy="256.33" r="1.35"/><circle cx="282.15" cy="217.73" r="1.35"/><circle cx="267.34" cy="219.4" r="1.35"/><circle cx="266.24" cy="230.9" r="1.35"/><circle cx="268.69" cy="237.68" r="1.35"/><circle cx="261.47" cy="224.55" r="1.35"/><circle cx="251.85" cy="249.16" r="1.35"/><circle cx="270.07" cy="243.54" r="1.35"/><circle cx="260.42" cy="223.11" r="1.35"/><circle cx="269.57" cy="230.66" r="1.35"/><circle cx="270.47" cy="224.38" r="1.35"/><circle cx="259.16" cy="237.66" r="1.35"/><circle cx="275.19" cy="214.59" r="1.35"/><circle cx="264.48" cy="228.96" r="1.35"/><circle cx="260.97" cy="246.24" r="1.35"/><circle cx="264.99" cy="236.94" r="1.35"/><circle cx="262.49" cy="225.13" r="1.35"/><circle cx="287.31" cy="217.44" r="1.35"/><circle cx="270.45" cy="212.12" r="1.35"/><circle cx="270.59" cy="230.4" r="1.35"/><circle cx="272.36" cy="223.64" r="1.35"/><circle cx="279.04" cy="224.64" r="1.35"/><circle cx="294.28" cy="197.21" r="1.35"/><circle cx="269.3" cy="235.78" r="1.35"/><circle cx="276.1" cy="216.91" r="1.35"/><circle cx="283.37" cy="216.99" r="1.35"/><circle cx="262.33" cy="238" r="1.35"/><circle cx="283.13" cy="228.39" r="1.35"/><circle cx="269.85" cy="218.58" r="1.35"/><circle cx="271.58" cy="234.18" r="1.35"/><circle cx="279.39" cy="217.31" r="1.35"/><circle cx="282.9" cy="210.11" r="1.35"/><circle cx="280.57" cy="206.09" r="1.35"/><circle cx="271.25" cy="227.58" r="1.35"/><circle cx="266.58" cy="215.45" r="1.35"/><circle cx="289.68" cy="186.88" r="1.35"/><circle cx="262.36" cy="241.46" r="1.35"/><circle cx="266.55" cy="214.74" r="1.35"/><circle cx="287.22" cy="216.47" r="1.35"/><circle cx="271.65" cy="220.27" r="1.35"/><circle cx="279.34" cy="215.37" r="1.35"/><circle cx="273.49" cy="221.22" r="1.35"/><circle cx="281.15" cy="214.67" r="1.35"/><circle cx="283.49" cy="205.09" r="1.35"/><circle cx="267.21" cy="225.09" r="1.35"/><circle cx="272.83" cy="220.17" r="1.35"/><circle cx="275.53" cy="227.8" r="1.35"/><circle cx="272.05" cy="233.04" r="1.35"/><circle cx="276.95" cy="228.1" r="1.35"/><circle cx="260.47" cy="240.63" r="1.35"/><circle cx="278.22" cy="212.58" r="1.35"/><circle cx="281.49" cy="194.47" r="1.35"/><circle cx="292.12" cy="202.73" r="1.35"/><circle cx="288.54" cy="209.18" r="1.35"/><circle cx="258.82" cy="235.51" r="1.35"/><circle cx="290.94" cy="205.79" r="1.35"/><circle cx="269.31" cy="238.02" r="1.35"/><circle cx="271.19" cy="224.36" r="1.35"/><circle cx="295.5" cy="202.31" r="1.35"/><circle cx="260.88" cy="239.58" r="1.35"/><circle cx="272.23" cy="205.81" r="1.35"/><circle cx="272.13" cy="217.82" r="1.35"/><circle cx="267.79" cy="223.97" r="1.35"/><circle cx="264.06" cy="237.59" r="1.35"/><circle cx="271.83" cy="214.53" r="1.35"/><circle cx="264.2" cy="228.29" r="1.35"/><circle cx="277.89" cy="205.83" r="1.35"/><circle cx="283.99" cy="206.74" r="1.35"/><circle cx="256.38" cy="243.09" r="1.35"/><circle cx="270.21" cy="233.92" r="1.35"/><circle cx="271.46" cy="230.65" r="1.35"/><circle cx="259.01" cy="240.62" r="1.35"/><circle cx="260.07" cy="239.99" r="1.35"/><circle cx="272.78" cy="222.48" r="1.35"/><circle cx="269.56" cy="226.63" r="1.35"/><circle cx="260.12" cy="252.23" r="1.35"/><circle cx="254.03" cy="222.03" r="1.35"/><circle cx="275.98" cy="215.7" r="1.35"/><circle cx="259.41" cy="241.5" r="1.35"/><circle cx="266.28" cy="240.41" r="1.35"/><circle cx="282.97" cy="198.1" r="1.35"/><circle cx="286.72" cy="206.87" r="1.35"/><circle cx="257.33" cy="249.35" r="1.35"/><circle cx="254.35" cy="240.85" r="1.35"/><circle cx="266.58" cy="211.41" r="1.35"/><circle cx="256.5" cy="238.89" r="1.35"/><circle cx="263.06" cy="222.57" r="1.35"/><circle cx="269.33" cy="232" r="1.35"/><circle cx="273.33" cy="212.73" r="1.35"/><circle cx="251.47" cy="265.5" r="1.35"/><circle cx="247.59" cy="255.02" r="1.35"/><circle cx="254.08" cy="237.79" r="1.35"/><circle cx="279.66" cy="207.89" r="1.35"/><circle cx="264.65" cy="221.56" r="1.35"/><circle cx="254.2" cy="248.9" r="1.35"/><circle cx="283.33" cy="222" r="1.35"/><circle cx="277.77" cy="213.03" r="1.35"/><circle cx="272.85" cy="230.07" r="1.35"/><circle cx="263.38" cy="224.6" r="1.35"/><circle cx="277.34" cy="218.51" r="1.35"/><circle cx="294.54" cy="215.3" r="1.35"/><circle cx="266.52" cy="216.21" r="1.35"/><circle cx="282.56" cy="220.53" r="1.35"/><circle cx="276.18" cy="228.15" r="1.35"/><circle cx="258.53" cy="221.97" r="1.35"/><circle cx="254.65" cy="231.15" r="1.35"/><circle cx="269.57" cy="216.36" r="1.35"/><circle cx="272.45" cy="230.99" r="1.35"/><circle cx="266.69" cy="225.2" r="1.35"/><circle cx="280.32" cy="210.22" r="1.35"/><circle cx="279.69" cy="219.26" r="1.35"/><circle cx="281" cy="212.04" r="1.35"/><circle cx="254.92" cy="246.43" r="1.35"/><circle cx="275.73" cy="214.65" r="1.35"/><circle cx="269.95" cy="235.65" r="1.35"/><circle cx="258.84" cy="231.96" r="1.35"/><circle cx="269.56" cy="241.34" r="1.35"/><circle cx="282.48" cy="205.84" r="1.35"/><circle cx="276.37" cy="209.33" r="1.35"/><circle cx="266.36" cy="235.75" r="1.35"/><circle cx="260.8" cy="241.02" r="1.35"/><circle cx="262.44" cy="216.01" r="1.35"/><circle cx="267.26" cy="230.58" r="1.35"/><circle cx="282.54" cy="196.22" r="1.35"/><circle cx="251.36" cy="241.03" r="1.35"/><circle cx="254.66" cy="252.03" r="1.35"/><circle cx="264.56" cy="223.81" r="1.35"/><circle cx="273.08" cy="224.39" r="1.35"/><circle cx="270.99" cy="220.13" r="1.35"/><circle cx="288.06" cy="220.07" r="1.35"/><circle cx="292.6" cy="195.14" r="1.35"/><circle cx="262.17" cy="223.92" r="1.35"/><circle cx="260.25" cy="227.04" r="1.35"/><circle cx="247.69" cy="244.98" r="1.35"/><circle cx="274.46" cy="220.45" r="1.35"/><circle cx="280.24" cy="211.81" r="1.35"/><circle cx="272.86" cy="230.41" r="1.35"/><circle cx="284.44" cy="208.03" r="1.35"/><circle cx="272.22" cy="223.3" r="1.35"/><circle cx="288.65" cy="204.11" r="1.35"/><circle cx="274.21" cy="218.32" r="1.35"/><circle cx="260.93" cy="239.28" r="1.35"/><circle cx="267.83" cy="235.07" r="1.35"/><circle cx="257.89" cy="247.79" r="1.35"/><circle cx="249.56" cy="245.93" r="1.35"/><circle cx="266.02" cy="213.35" r="1.35"/><circle cx="276.71" cy="208.7" r="1.35"/><circle cx="293.04" cy="198.06" r="1.35"/><circle cx="259.31" cy="215.13" r="1.35"/><circle cx="266.5" cy="224.89" r="1.35"/><circle cx="261.05" cy="240.56" r="1.35"/><circle cx="279.05" cy="207.99" r="1.35"/><circle cx="270.25" cy="214.02" r="1.35"/><circle cx="272.71" cy="237.93" r="1.35"/><circle cx="284.82" cy="218.94" r="1.35"/><circle cx="275.98" cy="214.78" r="1.35"/><circle cx="256.6" cy="254.47" r="1.35"/><circle cx="284.99" cy="217.9" r="1.35"/><circle cx="267.54" cy="217.36" r="1.35"/><circle cx="279.19" cy="238.34" r="1.35"/><circle cx="262.37" cy="225.78" r="1.35"/><circle cx="288.37" cy="198.85" r="1.35"/><circle cx="282.34" cy="198.72" r="1.35"/><circle cx="290.73" cy="199.02" r="1.35"/><circle cx="252.52" cy="234.8" r="1.35"/><circle cx="263.98" cy="232.46" r="1.35"/><circle cx="285.68" cy="214.94" r="1.35"/><circle cx="258.84" cy="241.1" r="1.35"/><circle cx="262.07" cy="232.47" r="1.35"/><circle cx="258.32" cy="254.31" r="1.35"/><circle cx="286.55" cy="195.17" r="1.35"/><circle cx="286.8" cy="212.42" r="1.35"/><circle cx="274.66" cy="215.97" r="1.35"/><circle cx="274.52" cy="221.02" r="1.35"/><circle cx="266.76" cy="229.22" r="1.35"/><circle cx="267.42" cy="229.29" r="1.35"/><circle cx="277.44" cy="214.75" r="1.35"/><circle cx="259.77" cy="230.49" r="1.35"/><circle cx="281.48" cy="204.71" r="1.35"/><circle cx="267.79" cy="231.74" r="1.35"/><circle cx="261.05" cy="235.18" r="1.35"/><circle cx="279.49" cy="201.63" r="1.35"/><circle cx="266.4" cy="222.7" r="1.35"/><circle cx="273.86" cy="213.26" r="1.35"/><circle cx="266.36" cy="228.86" r="1.35"/><circle cx="247.09" cy="255.72" r="1.35"/><circle cx="277.35" cy="216.16" r="1.35"/><circle cx="253.29" cy="239.93" r="1.35"/><circle cx="282.61" cy="208.72" r="1.35"/><circle cx="247.75" cy="240.26" r="1.35"/><circle cx="237.35" cy="239.31" r="1.35"/><circle cx="274.16" cy="218.83" r="1.35"/><circle cx="268.08" cy="211.54" r="1.35"/><circle cx="267.97" cy="218.33" r="1.35"/><circle cx="252.22" cy="236.05" r="1.35"/><circle cx="283.34" cy="213.48" r="1.35"/><circle cx="249.41" cy="239.59" r="1.35"/><circle cx="267.28" cy="230.7" r="1.35"/><circle cx="260.19" cy="232.56" r="1.35"/><circle cx="261.32" cy="224.06" r="1.35"/><circle cx="272.87" cy="206.07" r="1.35"/><circle cx="266.22" cy="233.75" r="1.35"/><circle cx="278.81" cy="216.92" r="1.35"/><circle cx="281.93" cy="216.57" r="1.35"/><circle cx="260.53" cy="253.91" r="1.35"/></g>
<g fill="#f2502a" fill-opacity="0.35"><circle cx="65.1" cy="276" r="1.35"/><circle cx="93.4" cy="276" r="1.35"/><circle cx="122.9" cy="288.4" r="1.35"/><circle cx="100.2" cy="280.5" r="1.35"/></g>
<g fill="#1a1aff" fill-opacity="0.3"><circle cx="60.5" cy="270.3" r="1.35"/><circle cx="65.1" cy="270.3" r="1.35"/><circle cx="122.9" cy="282.8" r="1.35"/><circle cx="96" cy="269" r="1.35"/></g>
<g fill="#f2502a" fill-opacity="0.35"><circle cx="223.3" cy="251" r="1.35"/><circle cx="223.3" cy="261.2" r="1.35"/><circle cx="223.3" cy="268.9" r="1.35"/><circle cx="233.5" cy="270" r="1.35"/><circle cx="239" cy="288.5" r="1.35"/><circle cx="228" cy="288.5" r="1.35"/><circle cx="216.5" cy="280.5" r="1.35"/><circle cx="219" cy="276" r="1.35"/><circle cx="236" cy="263" r="1.35"/><circle cx="245" cy="258" r="1.35"/></g>
<g fill="#1a1aff" fill-opacity="0.3"><circle cx="223.3" cy="255" r="1.35"/><circle cx="223.3" cy="276" r="1.35"/><circle cx="233.5" cy="266" r="1.35"/><circle cx="216.5" cy="276.5" r="1.35"/><circle cx="238" cy="275" r="1.35"/><circle cx="241" cy="255" r="1.35"/><circle cx="230" cy="258" r="1.35"/><circle cx="309" cy="200" r="1.35"/></g>
<rect x="59.5" y="186.5" width="65.5" height="18.3" fill="#fff" stroke="#6e6e6e" stroke-width="1" rx="3.5" fill-opacity="0.75"/>
<text x="64.4" y="197.9" font-size="10.4" textLength="54.6" lengthAdjust="spacingAndGlyphs" stroke="#000" stroke-width="0.22">r = 0.84525</text>
<rect x="215.5" y="186.3" width="65.3" height="18.1" fill="#fff" stroke="#6e6e6e" stroke-width="1" rx="3.5" fill-opacity="0.75"/>
<text x="220.2" y="197.7" font-size="10.4" textLength="54.6" lengthAdjust="spacingAndGlyphs" stroke="#000" stroke-width="0.22">r = 0.65847</text>
<rect x="249.5" y="263.8" width="62.7" height="26" fill="#fff" stroke="#d6d6d6" stroke-width="1" rx="2" fill-opacity="0.85"/>
<g fill="#f2502a" fill-opacity="0.35"><circle cx="260.9" cy="270.3" r="1.3"/></g>
<g fill="#1a1aff" fill-opacity="0.3"><circle cx="260.9" cy="281.9" r="1.3"/></g>
<text x="275.6" y="273.2" font-size="9" textLength="23" lengthAdjust="spacingAndGlyphs" fill="#222" stroke="#222" stroke-width="0.22">Storm</text>
<text x="275.6" y="284.5" font-size="9" textLength="32.8" lengthAdjust="spacingAndGlyphs" fill="#222" stroke="#222" stroke-width="0.22">Baseline</text>
<rect x="64.2" y="366" width="33.26" height="25.33" fill="#083573"/>
<rect x="97.46" y="366" width="33.26" height="25.33" fill="#08306b"/>
<rect x="130.71" y="366" width="33.26" height="25.33" fill="#083674"/>
<rect x="163.97" y="366" width="33.26" height="25.33" fill="#083d7f"/>
<rect x="197.22" y="366" width="33.26" height="25.33" fill="#0e59a2"/>
<rect x="230.48" y="366" width="33.26" height="25.33" fill="#08488e"/>
<rect x="263.73" y="366" width="33.26" height="25.33" fill="#1460a8"/>
<rect x="296.99" y="366" width="33.26" height="25.33" fill="#083c7d"/>
<rect x="330.24" y="366" width="33.26" height="25.33" fill="#083674"/>
<rect x="64.2" y="391.32" width="33.26" height="25.33" fill="#caddf0"/>
<rect x="97.46" y="391.32" width="33.26" height="25.33" fill="#d2e3f3"/>
<rect x="130.71" y="391.32" width="33.26" height="25.33" fill="#d7e6f5"/>
<rect x="163.97" y="391.32" width="33.26" height="25.33" fill="#c2d9ee"/>
<rect x="197.22" y="391.32" width="33.26" height="25.33" fill="#b9d6ea"/>
<rect x="230.48" y="391.32" width="33.26" height="25.33" fill="#d7e6f5"/>
<rect x="263.73" y="391.32" width="33.26" height="25.33" fill="#a3cce3"/>
<rect x="296.99" y="391.32" width="33.26" height="25.33" fill="#d8e7f5"/>
<rect x="330.24" y="391.32" width="33.26" height="25.33" fill="#c4daee"/>
<rect x="64.2" y="416.65" width="33.26" height="25.33" fill="#74b3d8"/>
<rect x="97.46" y="416.65" width="33.26" height="25.33" fill="#5da5d1"/>
<rect x="130.71" y="416.65" width="33.26" height="25.33" fill="#add0e6"/>
<rect x="163.97" y="416.65" width="33.26" height="25.33" fill="#c9ddf0"/>
<rect x="197.22" y="416.65" width="33.26" height="25.33" fill="#99c7e0"/>
<rect x="230.48" y="416.65" width="33.26" height="25.33" fill="#f7fbff"/>
<rect x="263.73" y="416.65" width="33.26" height="25.33" fill="#c8dcf0"/>
<rect x="296.99" y="416.65" width="33.26" height="25.33" fill="#8fc2de"/>
<rect x="330.24" y="416.65" width="33.26" height="25.33" fill="#85bcdc"/>
<rect x="64.2" y="441.98" width="33.26" height="25.33" fill="#2474b7"/>
<rect x="97.46" y="441.98" width="33.26" height="25.33" fill="#4695c8"/>
<rect x="130.71" y="441.98" width="33.26" height="25.33" fill="#4f9bcb"/>
<rect x="163.97" y="441.98" width="33.26" height="25.33" fill="#74b3d8"/>
<rect x="197.22" y="441.98" width="33.26" height="25.33" fill="#4594c7"/>
<rect x="230.48" y="441.98" width="33.26" height="25.33" fill="#a6cee4"/>
<rect x="263.73" y="441.98" width="33.26" height="25.33" fill="#4997c9"/>
<rect x="296.99" y="441.98" width="33.26" height="25.33" fill="#1d6cb1"/>
<rect x="330.24" y="441.98" width="33.26" height="25.33" fill="#3a8ac2"/>
<path d="M97.46 366V467.3M130.71 366V467.3M163.97 366V467.3M197.22 366V467.3M230.48 366V467.3M263.73 366V467.3M296.99 366V467.3M330.24 366V467.3M64.2 391.32H363.5M64.2 416.65H363.5M64.2 441.98H363.5" stroke="#fff" stroke-width="0.9" stroke-opacity="0.85"/>
<path d="M58 378.66H64.2M58 403.99H64.2M58 429.31H64.2M58 454.64H64.2M80.83 467.9V473.5M114.08 467.9V473.5M147.34 467.9V473.5M180.59 467.9V473.5M213.85 467.9V473.5M247.11 467.9V473.5M280.36 467.9V473.5M313.62 467.9V473.5M346.87 467.9V473.5" stroke="#222" stroke-width="0.95"/>
<text x="80.83" y="381.86" font-size="10.5" text-anchor="middle" textLength="29.48" lengthAdjust="spacingAndGlyphs" fill="#ffffff" stroke="#ffffff" stroke-width="0.22">0.845</text>
<text x="114.08" y="381.86" font-size="10.5" text-anchor="middle" textLength="29.48" lengthAdjust="spacingAndGlyphs" fill="#ffffff" stroke="#ffffff" stroke-width="0.22">0.863</text>
<text x="147.34" y="381.86" font-size="10.5" text-anchor="middle" textLength="29.48" lengthAdjust="spacingAndGlyphs" fill="#ffffff" stroke="#ffffff" stroke-width="0.22">0.842</text>
<text x="180.59" y="381.86" font-size="10.5" text-anchor="middle" textLength="29.48" lengthAdjust="spacingAndGlyphs" fill="#ffffff" stroke="#ffffff" stroke-width="0.22">0.823</text>
<text x="213.85" y="381.86" font-size="10.5" text-anchor="middle" textLength="29.48" lengthAdjust="spacingAndGlyphs" fill="#ffffff" stroke="#ffffff" stroke-width="0.22">0.741</text>
<text x="247.11" y="381.86" font-size="10.5" text-anchor="middle" textLength="29.48" lengthAdjust="spacingAndGlyphs" fill="#ffffff" stroke="#ffffff" stroke-width="0.22">0.792</text>
<text x="280.36" y="381.86" font-size="10.5" text-anchor="middle" textLength="29.48" lengthAdjust="spacingAndGlyphs" fill="#ffffff" stroke="#ffffff" stroke-width="0.22">0.717</text>
<text x="313.62" y="381.86" font-size="10.5" text-anchor="middle" textLength="29.48" lengthAdjust="spacingAndGlyphs" fill="#ffffff" stroke="#ffffff" stroke-width="0.22">0.824</text>
<text x="346.87" y="381.86" font-size="10.5" text-anchor="middle" textLength="29.48" lengthAdjust="spacingAndGlyphs" fill="#ffffff" stroke="#ffffff" stroke-width="0.22">0.842</text>
<text x="80.83" y="407.19" font-size="10.5" text-anchor="middle" textLength="29.48" lengthAdjust="spacingAndGlyphs" fill="#262626" stroke="#262626" stroke-width="0.22">0.265</text>
<text x="114.08" y="407.19" font-size="10.5" text-anchor="middle" textLength="29.48" lengthAdjust="spacingAndGlyphs" fill="#262626" stroke="#262626" stroke-width="0.22">0.231</text>
<text x="147.34" y="407.19" font-size="10.5" text-anchor="middle" textLength="29.48" lengthAdjust="spacingAndGlyphs" fill="#262626" stroke="#262626" stroke-width="0.22">0.210</text>
<text x="180.59" y="407.19" font-size="10.5" text-anchor="middle" textLength="29.48" lengthAdjust="spacingAndGlyphs" fill="#262626" stroke="#262626" stroke-width="0.22">0.290</text>
<text x="213.85" y="407.19" font-size="10.5" text-anchor="middle" textLength="29.48" lengthAdjust="spacingAndGlyphs" fill="#262626" stroke="#262626" stroke-width="0.22">0.309</text>
<text x="247.11" y="407.19" font-size="10.5" text-anchor="middle" textLength="29.48" lengthAdjust="spacingAndGlyphs" fill="#262626" stroke="#262626" stroke-width="0.22">0.210</text>
<text x="280.36" y="407.19" font-size="10.5" text-anchor="middle" textLength="29.48" lengthAdjust="spacingAndGlyphs" fill="#262626" stroke="#262626" stroke-width="0.22">0.366</text>
<text x="313.62" y="407.19" font-size="10.5" text-anchor="middle" textLength="29.48" lengthAdjust="spacingAndGlyphs" fill="#262626" stroke="#262626" stroke-width="0.22">0.207</text>
<text x="346.87" y="407.19" font-size="10.5" text-anchor="middle" textLength="29.48" lengthAdjust="spacingAndGlyphs" fill="#262626" stroke="#262626" stroke-width="0.22">0.283</text>
<text x="80.83" y="432.51" font-size="10.5" text-anchor="middle" textLength="29.48" lengthAdjust="spacingAndGlyphs" fill="#262626" stroke="#262626" stroke-width="0.22">0.455</text>
<text x="114.08" y="432.51" font-size="10.5" text-anchor="middle" textLength="29.48" lengthAdjust="spacingAndGlyphs" fill="#ffffff" stroke="#ffffff" stroke-width="0.22">0.504</text>
<text x="147.34" y="432.51" font-size="10.5" text-anchor="middle" textLength="29.48" lengthAdjust="spacingAndGlyphs" fill="#262626" stroke="#262626" stroke-width="0.22">0.340</text>
<text x="180.59" y="432.51" font-size="10.5" text-anchor="middle" textLength="29.48" lengthAdjust="spacingAndGlyphs" fill="#262626" stroke="#262626" stroke-width="0.22">0.267</text>
<text x="213.85" y="432.51" font-size="10.5" text-anchor="middle" textLength="29.48" lengthAdjust="spacingAndGlyphs" fill="#262626" stroke="#262626" stroke-width="0.22">0.387</text>
<text x="247.11" y="432.51" font-size="10.5" text-anchor="middle" textLength="29.48" lengthAdjust="spacingAndGlyphs" fill="#262626" stroke="#262626" stroke-width="0.22">0.083</text>
<text x="280.36" y="432.51" font-size="10.5" text-anchor="middle" textLength="29.48" lengthAdjust="spacingAndGlyphs" fill="#262626" stroke="#262626" stroke-width="0.22">0.270</text>
<text x="313.62" y="432.51" font-size="10.5" text-anchor="middle" textLength="29.48" lengthAdjust="spacingAndGlyphs" fill="#262626" stroke="#262626" stroke-width="0.22">0.405</text>
<text x="346.87" y="432.51" font-size="10.5" text-anchor="middle" textLength="29.48" lengthAdjust="spacingAndGlyphs" fill="#262626" stroke="#262626" stroke-width="0.22">0.423</text>
<text x="80.83" y="457.84" font-size="10.5" text-anchor="middle" textLength="29.48" lengthAdjust="spacingAndGlyphs" fill="#ffffff" stroke="#ffffff" stroke-width="0.22">0.657</text>
<text x="114.08" y="457.84" font-size="10.5" text-anchor="middle" textLength="29.48" lengthAdjust="spacingAndGlyphs" fill="#ffffff" stroke="#ffffff" stroke-width="0.22">0.561</text>
<text x="147.34" y="457.84" font-size="10.5" text-anchor="middle" textLength="29.48" lengthAdjust="spacingAndGlyphs" fill="#ffffff" stroke="#ffffff" stroke-width="0.22">0.537</text>
<text x="180.59" y="457.84" font-size="10.5" text-anchor="middle" textLength="29.48" lengthAdjust="spacingAndGlyphs" fill="#262626" stroke="#262626" stroke-width="0.22">0.456</text>
<text x="213.85" y="457.84" font-size="10.5" text-anchor="middle" textLength="29.48" lengthAdjust="spacingAndGlyphs" fill="#ffffff" stroke="#ffffff" stroke-width="0.22">0.562</text>
<text x="247.11" y="457.84" font-size="10.5" text-anchor="middle" textLength="29.48" lengthAdjust="spacingAndGlyphs" fill="#262626" stroke="#262626" stroke-width="0.22">0.357</text>
<text x="280.36" y="457.84" font-size="10.5" text-anchor="middle" textLength="29.48" lengthAdjust="spacingAndGlyphs" fill="#ffffff" stroke="#ffffff" stroke-width="0.22">0.553</text>
<text x="313.62" y="457.84" font-size="10.5" text-anchor="middle" textLength="29.48" lengthAdjust="spacingAndGlyphs" fill="#ffffff" stroke="#ffffff" stroke-width="0.22">0.682</text>
<text x="346.87" y="457.84" font-size="10.5" text-anchor="middle" textLength="29.48" lengthAdjust="spacingAndGlyphs" fill="#ffffff" stroke="#ffffff" stroke-width="0.22">0.593</text>
<rect x="375.2" y="366" width="33.23" height="25.33" fill="#9bd469"/>
<rect x="408.43" y="366" width="33.23" height="25.33" fill="#b1de71"/>
<rect x="441.67" y="366" width="33.23" height="25.33" fill="#d5ed88"/>
<rect x="474.9" y="366" width="33.23" height="25.33" fill="#cbe982"/>
<rect x="508.13" y="366" width="33.23" height="25.33" fill="#fdc574"/>
<rect x="541.37" y="366" width="33.23" height="25.33" fill="#c3e67d"/>
<rect x="574.6" y="366" width="33.23" height="25.33" fill="#fee08b"/>
<rect x="607.83" y="366" width="33.23" height="25.33" fill="#a5d86a"/>
<rect x="641.07" y="366" width="33.23" height="25.33" fill="#ecf7a6"/>
<rect x="375.2" y="391.32" width="33.23" height="25.33" fill="#93d168"/>
<rect x="408.43" y="391.32" width="33.23" height="25.33" fill="#91d068"/>
<rect x="441.67" y="391.32" width="33.23" height="25.33" fill="#89cc67"/>
<rect x="474.9" y="391.32" width="33.23" height="25.33" fill="#9bd469"/>
<rect x="508.13" y="391.32" width="33.23" height="25.33" fill="#006837"/>
<rect x="541.37" y="391.32" width="33.23" height="25.33" fill="#0c7f43"/>
<rect x="574.6" y="391.32" width="33.23" height="25.33" fill="#abdb6d"/>
<rect x="607.83" y="391.32" width="33.23" height="25.33" fill="#a2d76a"/>
<rect x="641.07" y="391.32" width="33.23" height="25.33" fill="#51b35e"/>
<rect x="375.2" y="416.65" width="33.23" height="25.33" fill="#128a49"/>
<rect x="408.43" y="416.65" width="33.23" height="25.33" fill="#51b35e"/>
<rect x="441.67" y="416.65" width="33.23" height="25.33" fill="#51b35e"/>
<rect x="474.9" y="416.65" width="33.23" height="25.33" fill="#219c52"/>
<rect x="508.13" y="416.65" width="33.23" height="25.33" fill="#a50026"/>
<rect x="541.37" y="416.65" width="33.23" height="25.33" fill="#d5ed88"/>
<rect x="574.6" y="416.65" width="33.23" height="25.33" fill="#d9ef8b"/>
<rect x="607.83" y="416.65" width="33.23" height="25.33" fill="#15904c"/>
<rect x="641.07" y="416.65" width="33.23" height="25.33" fill="#219c52"/>
<rect x="375.2" y="441.98" width="33.23" height="25.33" fill="#fff0a6"/>
<rect x="408.43" y="441.98" width="33.23" height="25.33" fill="#fed884"/>
<rect x="441.67" y="441.98" width="33.23" height="25.33" fill="#fbfdba"/>
<rect x="474.9" y="441.98" width="33.23" height="25.33" fill="#bde379"/>
<rect x="508.13" y="441.98" width="33.23" height="25.33" fill="#fee08b"/>
<rect x="541.37" y="441.98" width="33.23" height="25.33" fill="#f4fab0"/>
<rect x="574.6" y="441.98" width="33.23" height="25.33" fill="#b71126"/>
<rect x="607.83" y="441.98" width="33.23" height="25.33" fill="#fff0a6"/>
<rect x="641.07" y="441.98" width="33.23" height="25.33" fill="#fff3ac"/>
<path d="M408.43 366V467.3M441.67 366V467.3M474.9 366V467.3M508.13 366V467.3M541.37 366V467.3M574.6 366V467.3M607.83 366V467.3M641.07 366V467.3M375.2 391.32H674.3M375.2 416.65H674.3M375.2 441.98H674.3" stroke="#fff" stroke-width="0.9" stroke-opacity="0.85"/>
<path d="M369 378.66H375.2M369 403.99H375.2M369 429.31H375.2M369 454.64H375.2M391.82 467.9V473.5M425.05 467.9V473.5M458.28 467.9V473.5M491.52 467.9V473.5M524.75 467.9V473.5M557.98 467.9V473.5M591.22 467.9V473.5M624.45 467.9V473.5M657.68 467.9V473.5" stroke="#222" stroke-width="0.95"/>
<text x="391.82" y="381.86" font-size="10.5" text-anchor="middle" textLength="29.48" lengthAdjust="spacingAndGlyphs" fill="#262626" stroke="#262626" stroke-width="0.22">0.002</text>
<text x="425.05" y="381.86" font-size="10.5" text-anchor="middle" textLength="33.2" lengthAdjust="spacingAndGlyphs" fill="#262626" stroke="#262626" stroke-width="0.22">-0.005</text>
<text x="458.28" y="381.86" font-size="10.5" text-anchor="middle" textLength="33.2" lengthAdjust="spacingAndGlyphs" fill="#262626" stroke="#262626" stroke-width="0.22">-0.018</text>
<text x="491.52" y="381.86" font-size="10.5" text-anchor="middle" textLength="33.2" lengthAdjust="spacingAndGlyphs" fill="#262626" stroke="#262626" stroke-width="0.22">-0.014</text>
<text x="524.75" y="381.86" font-size="10.5" text-anchor="middle" textLength="33.2" lengthAdjust="spacingAndGlyphs" fill="#262626" stroke="#262626" stroke-width="0.22">-0.065</text>
<text x="557.98" y="381.86" font-size="10.5" text-anchor="middle" textLength="33.2" lengthAdjust="spacingAndGlyphs" fill="#262626" stroke="#262626" stroke-width="0.22">-0.011</text>
<text x="591.22" y="381.86" font-size="10.5" text-anchor="middle" textLength="33.2" lengthAdjust="spacingAndGlyphs" fill="#262626" stroke="#262626" stroke-width="0.22">-0.055</text>
<text x="624.45" y="381.86" font-size="10.5" text-anchor="middle" textLength="33.2" lengthAdjust="spacingAndGlyphs" fill="#262626" stroke="#262626" stroke-width="0.22">-0.001</text>
<text x="657.68" y="381.86" font-size="10.5" text-anchor="middle" textLength="33.2" lengthAdjust="spacingAndGlyphs" fill="#262626" stroke="#262626" stroke-width="0.22">-0.028</text>
<text x="391.82" y="407.19" font-size="10.5" text-anchor="middle" textLength="29.48" lengthAdjust="spacingAndGlyphs" fill="#262626" stroke="#262626" stroke-width="0.22">0.004</text>
<text x="425.05" y="407.19" font-size="10.5" text-anchor="middle" textLength="29.48" lengthAdjust="spacingAndGlyphs" fill="#262626" stroke="#262626" stroke-width="0.22">0.005</text>
<text x="458.28" y="407.19" font-size="10.5" text-anchor="middle" textLength="29.48" lengthAdjust="spacingAndGlyphs" fill="#262626" stroke="#262626" stroke-width="0.22">0.007</text>
<text x="491.52" y="407.19" font-size="10.5" text-anchor="middle" textLength="29.48" lengthAdjust="spacingAndGlyphs" fill="#262626" stroke="#262626" stroke-width="0.22">0.002</text>
<text x="524.75" y="407.19" font-size="10.5" text-anchor="middle" textLength="29.48" lengthAdjust="spacingAndGlyphs" fill="#ffffff" stroke="#ffffff" stroke-width="0.22">0.053</text>
<text x="557.98" y="407.19" font-size="10.5" text-anchor="middle" textLength="29.48" lengthAdjust="spacingAndGlyphs" fill="#ffffff" stroke="#ffffff" stroke-width="0.22">0.044</text>
<text x="591.22" y="407.19" font-size="10.5" text-anchor="middle" textLength="33.2" lengthAdjust="spacingAndGlyphs" fill="#262626" stroke="#262626" stroke-width="0.22">-0.003</text>
<text x="624.45" y="407.19" font-size="10.5" text-anchor="middle" textLength="29.48" lengthAdjust="spacingAndGlyphs" fill="#262626" stroke="#262626" stroke-width="0.22">0.000</text>
<text x="657.68" y="407.19" font-size="10.5" text-anchor="middle" textLength="29.48" lengthAdjust="spacingAndGlyphs" fill="#ffffff" stroke="#ffffff" stroke-width="0.22">0.022</text>
<text x="391.82" y="432.51" font-size="10.5" text-anchor="middle" textLength="29.48" lengthAdjust="spacingAndGlyphs" fill="#ffffff" stroke="#ffffff" stroke-width="0.22">0.040</text>
<text x="425.05" y="432.51" font-size="10.5" text-anchor="middle" textLength="29.48" lengthAdjust="spacingAndGlyphs" fill="#ffffff" stroke="#ffffff" stroke-width="0.22">0.022</text>
<text x="458.28" y="432.51" font-size="10.5" text-anchor="middle" textLength="29.48" lengthAdjust="spacingAndGlyphs" fill="#ffffff" stroke="#ffffff" stroke-width="0.22">0.022</text>
<text x="491.52" y="432.51" font-size="10.5" text-anchor="middle" textLength="29.48" lengthAdjust="spacingAndGlyphs" fill="#ffffff" stroke="#ffffff" stroke-width="0.22">0.033</text>
<text x="524.75" y="432.51" font-size="10.5" text-anchor="middle" textLength="33.2" lengthAdjust="spacingAndGlyphs" fill="#ffffff" stroke="#ffffff" stroke-width="0.22">-0.127</text>
<text x="591.22" y="432.51" font-size="10.5" text-anchor="middle" textLength="33.2" lengthAdjust="spacingAndGlyphs" fill="#262626" stroke="#262626" stroke-width="0.22">-0.019</text>
<text x="624.45" y="432.51" font-size="10.5" text-anchor="middle" textLength="29.48" lengthAdjust="spacingAndGlyphs" fill="#ffffff" stroke="#ffffff" stroke-width="0.22">0.038</text>
<text x="657.68" y="432.51" font-size="10.5" text-anchor="middle" textLength="29.48" lengthAdjust="spacingAndGlyphs" fill="#ffffff" stroke="#ffffff" stroke-width="0.22">0.033</text>
<text x="391.82" y="457.84" font-size="10.5" text-anchor="middle" textLength="33.2" lengthAdjust="spacingAndGlyphs" fill="#262626" stroke="#262626" stroke-width="0.22">-0.046</text>
<text x="425.05" y="457.84" font-size="10.5" text-anchor="middle" textLength="33.2" lengthAdjust="spacingAndGlyphs" fill="#262626" stroke="#262626" stroke-width="0.22">-0.058</text>
<text x="458.28" y="457.84" font-size="10.5" text-anchor="middle" textLength="33.2" lengthAdjust="spacingAndGlyphs" fill="#262626" stroke="#262626" stroke-width="0.22">-0.035</text>
<text x="491.52" y="457.84" font-size="10.5" text-anchor="middle" textLength="33.2" lengthAdjust="spacingAndGlyphs" fill="#262626" stroke="#262626" stroke-width="0.22">-0.009</text>
<text x="524.75" y="457.84" font-size="10.5" text-anchor="middle" textLength="33.2" lengthAdjust="spacingAndGlyphs" fill="#262626" stroke="#262626" stroke-width="0.22">-0.055</text>
<text x="557.98" y="457.84" font-size="10.5" text-anchor="middle" textLength="33.2" lengthAdjust="spacingAndGlyphs" fill="#262626" stroke="#262626" stroke-width="0.22">-0.032</text>
<text x="591.22" y="457.84" font-size="10.5" text-anchor="middle" textLength="33.2" lengthAdjust="spacingAndGlyphs" fill="#ffffff" stroke="#ffffff" stroke-width="0.22">-0.120</text>
<text x="624.45" y="457.84" font-size="10.5" text-anchor="middle" textLength="33.2" lengthAdjust="spacingAndGlyphs" fill="#262626" stroke="#262626" stroke-width="0.22">-0.046</text>
<text x="657.68" y="457.84" font-size="10.5" text-anchor="middle" textLength="33.2" lengthAdjust="spacingAndGlyphs" fill="#262626" stroke="#262626" stroke-width="0.22">-0.044</text>
<text x="557.98" y="432.51" font-size="10.5" text-anchor="middle" textLength="33.2" lengthAdjust="spacingAndGlyphs" fill="#6a6a6a" stroke="#6a6a6a" stroke-width="0.22">-0.018</text>
<path d="M541.87 418.25H574.1M541.87 420.35H574.1M541.87 422.45H574.1M541.87 424.55H574.1M541.87 426.65H574.1M541.87 428.75H574.1M541.87 430.85H574.1M541.87 432.95H574.1M541.87 435.05H574.1M541.87 437.15H574.1M541.87 439.25H574.1" stroke="#505048" stroke-width="0.7" stroke-opacity="0.85"/>
<rect x="541.97" y="417.45" width="32.03" height="24.33" fill="none" stroke="#2a2a2a" stroke-width="1.3"/>
<text x="176.5" y="358.3" font-size="11.4" textLength="46" lengthAdjust="spacingAndGlyphs" stroke="#000" stroke-width="0.22">Baseline</text>
<text x="467.4" y="358" font-size="11.4" textLength="113.2" lengthAdjust="spacingAndGlyphs" stroke="#000" stroke-width="0.22">Storm Week Change</text>
<text x="51.3" y="375.66" font-size="10.6" text-anchor="end" textLength="45.08" lengthAdjust="spacingAndGlyphs" stroke="#000" stroke-width="0.22">Out-deg.</text>
<text x="51.3" y="387.26" font-size="10.6" text-anchor="end" textLength="36.69" lengthAdjust="spacingAndGlyphs" stroke="#000" stroke-width="0.22">vs Pop.</text>
<text x="51.3" y="400.99" font-size="10.6" text-anchor="end" textLength="45.08" lengthAdjust="spacingAndGlyphs" stroke="#000" stroke-width="0.22">Out-deg.</text>
<text x="51.3" y="412.59" font-size="10.6" text-anchor="end" textLength="37.46" lengthAdjust="spacingAndGlyphs" stroke="#000" stroke-width="0.22">vs POIs</text>
<text x="51.3" y="426.31" font-size="10.6" text-anchor="end" textLength="35.97" lengthAdjust="spacingAndGlyphs" stroke="#000" stroke-width="0.22">In-deg.</text>
<text x="51.3" y="437.91" font-size="10.6" text-anchor="end" textLength="36.69" lengthAdjust="spacingAndGlyphs" stroke="#000" stroke-width="0.22">vs Pop.</text>
<text x="51.3" y="451.64" font-size="10.6" text-anchor="end" textLength="35.97" lengthAdjust="spacingAndGlyphs" stroke="#000" stroke-width="0.22">In-deg.</text>
<text x="51.3" y="463.24" font-size="10.6" text-anchor="end" textLength="37.46" lengthAdjust="spacingAndGlyphs" stroke="#000" stroke-width="0.22">vs POIs</text>
<text x="80.83" y="488.3" font-size="10.6" text-anchor="middle" textLength="18.52" lengthAdjust="spacingAndGlyphs" stroke="#000" stroke-width="0.22">ALL</text>
<text x="114.08" y="488.3" font-size="10.6" text-anchor="middle" textLength="13.11" lengthAdjust="spacingAndGlyphs" stroke="#000" stroke-width="0.22">44</text>
<text x="147.34" y="488.3" font-size="10.6" text-anchor="middle" textLength="13.11" lengthAdjust="spacingAndGlyphs" stroke="#000" stroke-width="0.22">45</text>
<text x="180.59" y="488.3" font-size="10.6" text-anchor="middle" textLength="13.11" lengthAdjust="spacingAndGlyphs" stroke="#000" stroke-width="0.22">53</text>
<text x="213.85" y="488.3" font-size="10.6" text-anchor="middle" textLength="13.11" lengthAdjust="spacingAndGlyphs" stroke="#000" stroke-width="0.22">61</text>
<text x="247.11" y="488.3" font-size="10.6" text-anchor="middle" textLength="13.11" lengthAdjust="spacingAndGlyphs" stroke="#000" stroke-width="0.22">62</text>
<text x="280.36" y="488.3" font-size="10.6" text-anchor="middle" textLength="13.11" lengthAdjust="spacingAndGlyphs" stroke="#000" stroke-width="0.22">71</text>
<text x="313.62" y="488.3" font-size="10.6" text-anchor="middle" textLength="13.11" lengthAdjust="spacingAndGlyphs" stroke="#000" stroke-width="0.22">72</text>
<text x="346.87" y="488.3" font-size="10.6" text-anchor="middle" textLength="13.11" lengthAdjust="spacingAndGlyphs" stroke="#000" stroke-width="0.22">81</text>
<text x="391.82" y="488.3" font-size="10.6" text-anchor="middle" textLength="18.52" lengthAdjust="spacingAndGlyphs" stroke="#000" stroke-width="0.22">ALL</text>
<text x="425.05" y="488.3" font-size="10.6" text-anchor="middle" textLength="13.11" lengthAdjust="spacingAndGlyphs" stroke="#000" stroke-width="0.22">44</text>
<text x="458.28" y="488.3" font-size="10.6" text-anchor="middle" textLength="13.11" lengthAdjust="spacingAndGlyphs" stroke="#000" stroke-width="0.22">45</text>
<text x="491.52" y="488.3" font-size="10.6" text-anchor="middle" textLength="13.11" lengthAdjust="spacingAndGlyphs" stroke="#000" stroke-width="0.22">53</text>
<text x="524.75" y="488.3" font-size="10.6" text-anchor="middle" textLength="13.11" lengthAdjust="spacingAndGlyphs" stroke="#000" stroke-width="0.22">61</text>
<text x="557.98" y="488.3" font-size="10.6" text-anchor="middle" textLength="13.11" lengthAdjust="spacingAndGlyphs" stroke="#000" stroke-width="0.22">62</text>
<text x="591.22" y="488.3" font-size="10.6" text-anchor="middle" textLength="13.11" lengthAdjust="spacingAndGlyphs" stroke="#000" stroke-width="0.22">71</text>
<text x="624.45" y="488.3" font-size="10.6" text-anchor="middle" textLength="13.11" lengthAdjust="spacingAndGlyphs" stroke="#000" stroke-width="0.22">72</text>
<text x="657.68" y="488.3" font-size="10.6" text-anchor="middle" textLength="13.11" lengthAdjust="spacingAndGlyphs" stroke="#000" stroke-width="0.22">81</text>
</svg></body></html>
